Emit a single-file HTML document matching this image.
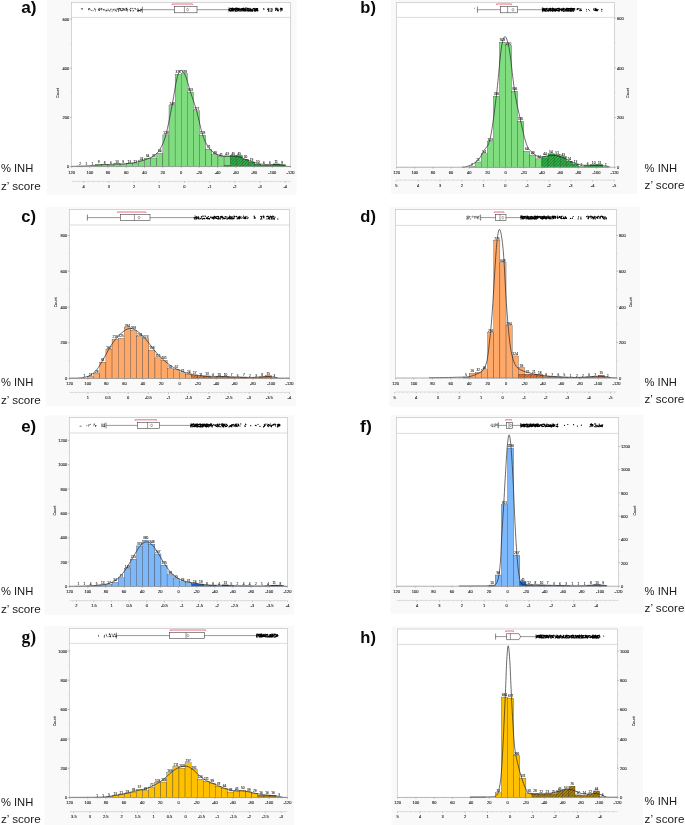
<!DOCTYPE html>
<html><head><meta charset="utf-8"><title>Figure</title>
<style>html,body{margin:0;padding:0;background:#fff}body{width:685px;height:825px;overflow:hidden}svg{display:block}</style></head>
<body>
<svg width="685" height="825" viewBox="0 0 685 825" font-family="Liberation Sans, sans-serif"><style>.t{stroke:#222;stroke-width:.1px}.b{stroke:#222;stroke-width:.08px}</style>
<g>
<rect x="47" y="0" width="249.5" height="194.6" fill="#f9f9f9"/>
<rect x="71.6" y="2.4" width="219" height="164.2" fill="#fff" stroke="#bcbcbc" stroke-width="0.6"/>
<line x1="71.6" y1="17.4" x2="290.6" y2="17.4" stroke="#c4c4c4" stroke-width="0.6"/>
<defs><pattern id="ha" width="2.2" height="2.2" patternUnits="userSpaceOnUse" patternTransform="rotate(-45)"><line x1="-1" y1="1.1" x2="3.2" y2="1.1" stroke="#157a27" stroke-width="0.6"/></pattern></defs>
<rect x="77.2" y="166.11" width="6.12" height="0.49" fill="#7fdd80" stroke="#303030" stroke-width="0.3"/>
<rect x="83.32" y="166.35" width="6.12" height="0.25" fill="#7fdd80" stroke="#303030" stroke-width="0.3"/>
<rect x="89.44" y="166.35" width="6.12" height="0.25" fill="#7fdd80" stroke="#303030" stroke-width="0.3"/>
<rect x="95.56" y="164.39" width="6.12" height="2.21" fill="#7fdd80" stroke="#303030" stroke-width="0.3"/>
<rect x="101.68" y="164.63" width="6.12" height="1.97" fill="#7fdd80" stroke="#303030" stroke-width="0.3"/>
<rect x="107.8" y="165.12" width="6.12" height="1.48" fill="#7fdd80" stroke="#303030" stroke-width="0.3"/>
<rect x="113.92" y="163.4" width="6.12" height="3.2" fill="#7fdd80" stroke="#303030" stroke-width="0.3"/>
<rect x="120.04" y="164.39" width="6.12" height="2.21" fill="#7fdd80" stroke="#303030" stroke-width="0.3"/>
<rect x="126.16" y="163.4" width="6.12" height="3.2" fill="#7fdd80" stroke="#303030" stroke-width="0.3"/>
<rect x="132.28" y="163.4" width="6.12" height="3.2" fill="#7fdd80" stroke="#303030" stroke-width="0.3"/>
<rect x="138.4" y="160.7" width="6.12" height="5.9" fill="#7fdd80" stroke="#303030" stroke-width="0.3"/>
<rect x="144.52" y="158.24" width="6.12" height="8.36" fill="#7fdd80" stroke="#303030" stroke-width="0.3"/>
<rect x="150.64" y="157.99" width="6.12" height="8.61" fill="#7fdd80" stroke="#303030" stroke-width="0.3"/>
<rect x="156.76" y="153.32" width="6.12" height="13.28" fill="#7fdd80" stroke="#303030" stroke-width="0.3"/>
<rect x="162.88" y="134.87" width="6.12" height="31.73" fill="#7fdd80" stroke="#303030" stroke-width="0.3"/>
<rect x="169" y="105.59" width="6.12" height="61.01" fill="#7fdd80" stroke="#303030" stroke-width="0.3"/>
<rect x="175.12" y="74.35" width="6.12" height="92.25" fill="#7fdd80" stroke="#303030" stroke-width="0.3"/>
<rect x="181.24" y="73.61" width="6.12" height="92.99" fill="#7fdd80" stroke="#303030" stroke-width="0.3"/>
<rect x="187.36" y="92.06" width="6.12" height="74.54" fill="#7fdd80" stroke="#303030" stroke-width="0.3"/>
<rect x="193.48" y="110.76" width="6.12" height="55.84" fill="#7fdd80" stroke="#303030" stroke-width="0.3"/>
<rect x="199.6" y="135.11" width="6.12" height="31.49" fill="#7fdd80" stroke="#303030" stroke-width="0.3"/>
<rect x="205.72" y="149.13" width="6.12" height="17.47" fill="#7fdd80" stroke="#303030" stroke-width="0.3"/>
<rect x="211.84" y="154.55" width="6.12" height="12.05" fill="#7fdd80" stroke="#303030" stroke-width="0.3"/>
<rect x="217.96" y="156.51" width="6.12" height="10.09" fill="#7fdd80" stroke="#303030" stroke-width="0.3"/>
<rect x="224.08" y="156.02" width="6.12" height="10.58" fill="#7fdd80" stroke="#303030" stroke-width="0.3"/>
<rect x="224.08" y="165.3" width="6.12" height="1.3" fill="#2fae44"/>
<rect x="224.08" y="165.3" width="6.12" height="1.3" fill="url(#ha)" stroke="#2e2e2e" stroke-width="0.25"/>
<rect x="230.2" y="155.53" width="6.12" height="11.07" fill="#2fae44"/>
<rect x="230.2" y="155.53" width="6.12" height="11.07" fill="url(#ha)" stroke="#303030" stroke-width="0.3"/>
<rect x="236.32" y="155.53" width="6.12" height="11.07" fill="#2fae44"/>
<rect x="236.32" y="155.53" width="6.12" height="11.07" fill="url(#ha)" stroke="#303030" stroke-width="0.3"/>
<rect x="242.44" y="159.22" width="6.12" height="7.38" fill="#2fae44"/>
<rect x="242.44" y="159.22" width="6.12" height="7.38" fill="url(#ha)" stroke="#303030" stroke-width="0.3"/>
<rect x="248.56" y="161.93" width="6.12" height="4.67" fill="#2fae44"/>
<rect x="248.56" y="161.93" width="6.12" height="4.67" fill="url(#ha)" stroke="#303030" stroke-width="0.3"/>
<rect x="254.68" y="164.14" width="6.12" height="2.46" fill="#1f9a35" stroke="#303030" stroke-width="0.3"/>
<rect x="260.8" y="165.12" width="6.12" height="1.48" fill="#1f9a35" stroke="#303030" stroke-width="0.3"/>
<rect x="266.92" y="165.12" width="6.12" height="1.48" fill="#1f9a35" stroke="#303030" stroke-width="0.3"/>
<rect x="273.04" y="163.89" width="6.12" height="2.71" fill="#1f9a35" stroke="#303030" stroke-width="0.3"/>
<rect x="279.16" y="164.63" width="6.12" height="1.97" fill="#1f9a35" stroke="#303030" stroke-width="0.3"/>
<text x="80.26" y="165.21" class="b" font-size="3.2" text-anchor="middle" fill="#111">2</text>
<text x="86.38" y="165.45" class="b" font-size="3.2" text-anchor="middle" fill="#111">1</text>
<text x="92.5" y="165.45" class="b" font-size="3.2" text-anchor="middle" fill="#111">1</text>
<text x="98.62" y="163.49" class="b" font-size="3.2" text-anchor="middle" fill="#111">9</text>
<text x="104.74" y="163.73" class="b" font-size="3.2" text-anchor="middle" fill="#111">8</text>
<text x="110.86" y="164.22" class="b" font-size="3.2" text-anchor="middle" fill="#111">6</text>
<text x="116.98" y="162.5" class="b" font-size="3.2" text-anchor="middle" fill="#111">13</text>
<text x="123.1" y="163.49" class="b" font-size="3.2" text-anchor="middle" fill="#111">9</text>
<text x="129.22" y="162.5" class="b" font-size="3.2" text-anchor="middle" fill="#111">13</text>
<text x="135.34" y="162.5" class="b" font-size="3.2" text-anchor="middle" fill="#111">13</text>
<text x="141.46" y="159.8" class="b" font-size="3.2" text-anchor="middle" fill="#111">24</text>
<text x="147.58" y="157.34" class="b" font-size="3.2" text-anchor="middle" fill="#111">34</text>
<text x="153.7" y="157.09" class="b" font-size="3.2" text-anchor="middle" fill="#111">35</text>
<text x="159.82" y="152.42" class="b" font-size="3.2" text-anchor="middle" fill="#111">54</text>
<text x="165.94" y="133.97" class="b" font-size="3.2" text-anchor="middle" fill="#111">129</text>
<text x="172.06" y="104.69" class="b" font-size="3.2" text-anchor="middle" fill="#111">248</text>
<text x="178.18" y="73.45" class="b" font-size="3.2" text-anchor="middle" fill="#111">375</text>
<text x="184.3" y="72.71" class="b" font-size="3.2" text-anchor="middle" fill="#111">378</text>
<text x="190.42" y="91.16" class="b" font-size="3.2" text-anchor="middle" fill="#111">303</text>
<text x="196.54" y="109.86" class="b" font-size="3.2" text-anchor="middle" fill="#111">227</text>
<text x="202.66" y="134.21" class="b" font-size="3.2" text-anchor="middle" fill="#111">128</text>
<text x="208.78" y="148.23" class="b" font-size="3.2" text-anchor="middle" fill="#111">71</text>
<text x="214.9" y="153.65" class="b" font-size="3.2" text-anchor="middle" fill="#111">49</text>
<text x="221.02" y="155.61" class="b" font-size="3.2" text-anchor="middle" fill="#111">41</text>
<text x="227.14" y="155.12" class="b" font-size="3.2" text-anchor="middle" fill="#111">43</text>
<text x="233.26" y="154.63" class="b" font-size="3.2" text-anchor="middle" fill="#111">45</text>
<text x="239.38" y="154.63" class="b" font-size="3.2" text-anchor="middle" fill="#111">45</text>
<text x="245.5" y="158.32" class="b" font-size="3.2" text-anchor="middle" fill="#111">30</text>
<text x="251.62" y="161.03" class="b" font-size="3.2" text-anchor="middle" fill="#111">19</text>
<text x="257.74" y="163.24" class="b" font-size="3.2" text-anchor="middle" fill="#111">10</text>
<text x="263.86" y="164.22" class="b" font-size="3.2" text-anchor="middle" fill="#111">6</text>
<text x="269.98" y="164.22" class="b" font-size="3.2" text-anchor="middle" fill="#111">6</text>
<text x="276.1" y="162.99" class="b" font-size="3.2" text-anchor="middle" fill="#111">11</text>
<text x="282.22" y="163.73" class="b" font-size="3.2" text-anchor="middle" fill="#111">8</text>
<path d="M71.6 166.4 C73.16 166.36 77.6 166.25 80.26 166.17 C82.92 166.09 84.18 166.05 86.38 165.94 C88.58 165.83 90.3 165.72 92.5 165.56 C94.7 165.4 96.42 165.21 98.62 165.05 C100.82 164.89 102.54 164.78 104.74 164.67 C106.94 164.55 108.66 164.53 110.86 164.43 C113.06 164.32 114.78 164.16 116.98 164.07 C119.18 163.97 120.9 164.05 123.1 163.92 C125.3 163.79 127.02 163.6 129.22 163.34 C131.42 163.08 133.14 162.91 135.34 162.47 C137.54 162.03 139.26 161.55 141.46 160.9 C143.66 160.25 145.38 159.77 147.58 158.87 C149.78 157.98 151.5 157.6 153.7 155.91 C155.9 154.23 157.62 153.34 159.82 149.51 C162.02 145.69 163.74 142.61 165.94 134.67 C168.14 126.72 169.86 116.28 172.06 105.39 C174.26 94.5 175.98 79.91 178.18 74.15 C180.38 68.39 182.1 70.22 184.3 73.41 C186.5 76.6 188.22 85.18 190.42 91.86 C192.62 98.55 194.34 102.81 196.54 110.56 C198.74 118.31 200.46 128.24 202.66 134.91 C204.86 141.58 206.58 144.32 208.78 147.62 C210.98 150.93 212.7 151.79 214.9 153.27 C217.1 154.74 218.82 155.31 221.02 155.84 C223.22 156.36 224.94 156.12 227.14 156.19 C229.34 156.27 231.06 156.13 233.26 156.24 C235.46 156.36 237.18 156.28 239.38 156.84 C241.58 157.41 243.3 158.52 245.5 159.38 C247.7 160.24 249.42 160.89 251.62 161.63 C253.82 162.37 255.54 162.97 257.74 163.47 C259.94 163.96 261.66 164.17 263.86 164.38 C266.06 164.58 267.78 164.57 269.98 164.63 C272.18 164.68 273.9 164.58 276.1 164.66 C278.3 164.74 280.39 164.77 282.22 165.06 C284.05 165.36 284.77 166.06 286.28 166.3 C287.79 166.54 289.82 166.38 290.6 166.4" fill="none" stroke="#1a1a1a" stroke-width="0.65"/>
<line x1="71.6" y1="166.6" x2="290.6" y2="166.6" stroke="#a6a6a6" stroke-width="0.6"/>
<line x1="71.6" y1="166.6" x2="70" y2="166.6" stroke="#777" stroke-width="0.45"/>
<text x="69.2" y="168.3" class="t" font-size="4.0" text-anchor="end" fill="#111">0</text>
<line x1="71.6" y1="142" x2="70.7" y2="142" stroke="#aaa" stroke-width="0.4"/>
<line x1="71.6" y1="117.4" x2="70" y2="117.4" stroke="#777" stroke-width="0.45"/>
<text x="69.2" y="119.1" class="t" font-size="4.0" text-anchor="end" fill="#111">200</text>
<line x1="71.6" y1="92.8" x2="70.7" y2="92.8" stroke="#aaa" stroke-width="0.4"/>
<line x1="71.6" y1="68.2" x2="70" y2="68.2" stroke="#777" stroke-width="0.45"/>
<text x="69.2" y="69.9" class="t" font-size="4.0" text-anchor="end" fill="#111">400</text>
<line x1="71.6" y1="43.6" x2="70.7" y2="43.6" stroke="#aaa" stroke-width="0.4"/>
<line x1="71.6" y1="19" x2="70" y2="19" stroke="#777" stroke-width="0.45"/>
<text x="69.2" y="20.7" class="t" font-size="4.0" text-anchor="end" fill="#111">600</text>
<text transform="translate(59.2 93) rotate(-90)" class="t" font-size="3.7" text-anchor="middle" fill="#111">Count</text>
<line x1="71.6" y1="166.6" x2="71.6" y2="168.1" stroke="#888" stroke-width="0.45"/>
<text x="71.6" y="174" class="t" font-size="4.0" text-anchor="middle" fill="#111">120</text>
<line x1="89.85" y1="166.6" x2="89.85" y2="168.1" stroke="#888" stroke-width="0.45"/>
<text x="89.85" y="174" class="t" font-size="4.0" text-anchor="middle" fill="#111">100</text>
<line x1="108.1" y1="166.6" x2="108.1" y2="168.1" stroke="#888" stroke-width="0.45"/>
<text x="108.1" y="174" class="t" font-size="4.0" text-anchor="middle" fill="#111">80</text>
<line x1="126.35" y1="166.6" x2="126.35" y2="168.1" stroke="#888" stroke-width="0.45"/>
<text x="126.35" y="174" class="t" font-size="4.0" text-anchor="middle" fill="#111">60</text>
<line x1="144.6" y1="166.6" x2="144.6" y2="168.1" stroke="#888" stroke-width="0.45"/>
<text x="144.6" y="174" class="t" font-size="4.0" text-anchor="middle" fill="#111">40</text>
<line x1="162.85" y1="166.6" x2="162.85" y2="168.1" stroke="#888" stroke-width="0.45"/>
<text x="162.85" y="174" class="t" font-size="4.0" text-anchor="middle" fill="#111">20</text>
<line x1="181.1" y1="166.6" x2="181.1" y2="168.1" stroke="#888" stroke-width="0.45"/>
<text x="181.1" y="174" class="t" font-size="4.0" text-anchor="middle" fill="#111">0</text>
<line x1="199.35" y1="166.6" x2="199.35" y2="168.1" stroke="#888" stroke-width="0.45"/>
<text x="199.35" y="174" class="t" font-size="4.0" text-anchor="middle" fill="#111">-20</text>
<line x1="217.6" y1="166.6" x2="217.6" y2="168.1" stroke="#888" stroke-width="0.45"/>
<text x="217.6" y="174" class="t" font-size="4.0" text-anchor="middle" fill="#111">-40</text>
<line x1="235.85" y1="166.6" x2="235.85" y2="168.1" stroke="#888" stroke-width="0.45"/>
<text x="235.85" y="174" class="t" font-size="4.0" text-anchor="middle" fill="#111">-60</text>
<line x1="254.1" y1="166.6" x2="254.1" y2="168.1" stroke="#888" stroke-width="0.45"/>
<text x="254.1" y="174" class="t" font-size="4.0" text-anchor="middle" fill="#111">-80</text>
<line x1="272.35" y1="166.6" x2="272.35" y2="168.1" stroke="#888" stroke-width="0.45"/>
<text x="272.35" y="174" class="t" font-size="4.0" text-anchor="middle" fill="#111">-100</text>
<line x1="290.6" y1="166.6" x2="290.6" y2="168.1" stroke="#888" stroke-width="0.45"/>
<text x="290.6" y="174" class="t" font-size="4.0" text-anchor="middle" fill="#111">-120</text>
<line x1="80.72" y1="166.6" x2="80.72" y2="167.5" stroke="#aaa" stroke-width="0.4"/>
<line x1="98.97" y1="166.6" x2="98.97" y2="167.5" stroke="#aaa" stroke-width="0.4"/>
<line x1="117.22" y1="166.6" x2="117.22" y2="167.5" stroke="#aaa" stroke-width="0.4"/>
<line x1="135.47" y1="166.6" x2="135.47" y2="167.5" stroke="#aaa" stroke-width="0.4"/>
<line x1="153.73" y1="166.6" x2="153.73" y2="167.5" stroke="#aaa" stroke-width="0.4"/>
<line x1="171.98" y1="166.6" x2="171.98" y2="167.5" stroke="#aaa" stroke-width="0.4"/>
<line x1="190.23" y1="166.6" x2="190.23" y2="167.5" stroke="#aaa" stroke-width="0.4"/>
<line x1="208.47" y1="166.6" x2="208.47" y2="167.5" stroke="#aaa" stroke-width="0.4"/>
<line x1="226.73" y1="166.6" x2="226.73" y2="167.5" stroke="#aaa" stroke-width="0.4"/>
<line x1="244.98" y1="166.6" x2="244.98" y2="167.5" stroke="#aaa" stroke-width="0.4"/>
<line x1="263.23" y1="166.6" x2="263.23" y2="167.5" stroke="#aaa" stroke-width="0.4"/>
<line x1="281.48" y1="166.6" x2="281.48" y2="167.5" stroke="#aaa" stroke-width="0.4"/>
<line x1="71.6" y1="181.4" x2="290.6" y2="181.4" stroke="#c2c2c2" stroke-width="0.5"/>
<line x1="290.24" y1="181.4" x2="290.24" y2="182.2" stroke="#aaa" stroke-width="0.35"/>
<line x1="285.2" y1="181.4" x2="285.2" y2="182.9" stroke="#888" stroke-width="0.45"/>
<text x="285.2" y="187.8" class="t" font-size="4.0" text-anchor="middle" fill="#111">-4</text>
<line x1="280.16" y1="181.4" x2="280.16" y2="182.2" stroke="#aaa" stroke-width="0.35"/>
<line x1="275.12" y1="181.4" x2="275.12" y2="182.2" stroke="#aaa" stroke-width="0.35"/>
<line x1="270.08" y1="181.4" x2="270.08" y2="182.2" stroke="#aaa" stroke-width="0.35"/>
<line x1="265.04" y1="181.4" x2="265.04" y2="182.2" stroke="#aaa" stroke-width="0.35"/>
<line x1="260" y1="181.4" x2="260" y2="182.9" stroke="#888" stroke-width="0.45"/>
<text x="260" y="187.8" class="t" font-size="4.0" text-anchor="middle" fill="#111">-3</text>
<line x1="254.96" y1="181.4" x2="254.96" y2="182.2" stroke="#aaa" stroke-width="0.35"/>
<line x1="249.92" y1="181.4" x2="249.92" y2="182.2" stroke="#aaa" stroke-width="0.35"/>
<line x1="244.88" y1="181.4" x2="244.88" y2="182.2" stroke="#aaa" stroke-width="0.35"/>
<line x1="239.84" y1="181.4" x2="239.84" y2="182.2" stroke="#aaa" stroke-width="0.35"/>
<line x1="234.8" y1="181.4" x2="234.8" y2="182.9" stroke="#888" stroke-width="0.45"/>
<text x="234.8" y="187.8" class="t" font-size="4.0" text-anchor="middle" fill="#111">-2</text>
<line x1="229.76" y1="181.4" x2="229.76" y2="182.2" stroke="#aaa" stroke-width="0.35"/>
<line x1="224.72" y1="181.4" x2="224.72" y2="182.2" stroke="#aaa" stroke-width="0.35"/>
<line x1="219.68" y1="181.4" x2="219.68" y2="182.2" stroke="#aaa" stroke-width="0.35"/>
<line x1="214.64" y1="181.4" x2="214.64" y2="182.2" stroke="#aaa" stroke-width="0.35"/>
<line x1="209.6" y1="181.4" x2="209.6" y2="182.9" stroke="#888" stroke-width="0.45"/>
<text x="209.6" y="187.8" class="t" font-size="4.0" text-anchor="middle" fill="#111">-1</text>
<line x1="204.56" y1="181.4" x2="204.56" y2="182.2" stroke="#aaa" stroke-width="0.35"/>
<line x1="199.52" y1="181.4" x2="199.52" y2="182.2" stroke="#aaa" stroke-width="0.35"/>
<line x1="194.48" y1="181.4" x2="194.48" y2="182.2" stroke="#aaa" stroke-width="0.35"/>
<line x1="189.44" y1="181.4" x2="189.44" y2="182.2" stroke="#aaa" stroke-width="0.35"/>
<line x1="184.4" y1="181.4" x2="184.4" y2="182.9" stroke="#888" stroke-width="0.45"/>
<text x="184.4" y="187.8" class="t" font-size="4.0" text-anchor="middle" fill="#111">0</text>
<line x1="179.36" y1="181.4" x2="179.36" y2="182.2" stroke="#aaa" stroke-width="0.35"/>
<line x1="174.32" y1="181.4" x2="174.32" y2="182.2" stroke="#aaa" stroke-width="0.35"/>
<line x1="169.28" y1="181.4" x2="169.28" y2="182.2" stroke="#aaa" stroke-width="0.35"/>
<line x1="164.24" y1="181.4" x2="164.24" y2="182.2" stroke="#aaa" stroke-width="0.35"/>
<line x1="159.2" y1="181.4" x2="159.2" y2="182.9" stroke="#888" stroke-width="0.45"/>
<text x="159.2" y="187.8" class="t" font-size="4.0" text-anchor="middle" fill="#111">1</text>
<line x1="154.16" y1="181.4" x2="154.16" y2="182.2" stroke="#aaa" stroke-width="0.35"/>
<line x1="149.12" y1="181.4" x2="149.12" y2="182.2" stroke="#aaa" stroke-width="0.35"/>
<line x1="144.08" y1="181.4" x2="144.08" y2="182.2" stroke="#aaa" stroke-width="0.35"/>
<line x1="139.04" y1="181.4" x2="139.04" y2="182.2" stroke="#aaa" stroke-width="0.35"/>
<line x1="134" y1="181.4" x2="134" y2="182.9" stroke="#888" stroke-width="0.45"/>
<text x="134" y="187.8" class="t" font-size="4.0" text-anchor="middle" fill="#111">2</text>
<line x1="128.96" y1="181.4" x2="128.96" y2="182.2" stroke="#aaa" stroke-width="0.35"/>
<line x1="123.92" y1="181.4" x2="123.92" y2="182.2" stroke="#aaa" stroke-width="0.35"/>
<line x1="118.88" y1="181.4" x2="118.88" y2="182.2" stroke="#aaa" stroke-width="0.35"/>
<line x1="113.84" y1="181.4" x2="113.84" y2="182.2" stroke="#aaa" stroke-width="0.35"/>
<line x1="108.8" y1="181.4" x2="108.8" y2="182.9" stroke="#888" stroke-width="0.45"/>
<text x="108.8" y="187.8" class="t" font-size="4.0" text-anchor="middle" fill="#111">3</text>
<line x1="103.76" y1="181.4" x2="103.76" y2="182.2" stroke="#aaa" stroke-width="0.35"/>
<line x1="98.72" y1="181.4" x2="98.72" y2="182.2" stroke="#aaa" stroke-width="0.35"/>
<line x1="93.68" y1="181.4" x2="93.68" y2="182.2" stroke="#aaa" stroke-width="0.35"/>
<line x1="88.64" y1="181.4" x2="88.64" y2="182.2" stroke="#aaa" stroke-width="0.35"/>
<line x1="83.6" y1="181.4" x2="83.6" y2="182.9" stroke="#888" stroke-width="0.45"/>
<text x="83.6" y="187.8" class="t" font-size="4.0" text-anchor="middle" fill="#111">4</text>
<line x1="78.56" y1="181.4" x2="78.56" y2="182.2" stroke="#aaa" stroke-width="0.35"/>
<line x1="73.52" y1="181.4" x2="73.52" y2="182.2" stroke="#aaa" stroke-width="0.35"/>
<line x1="142.4" y1="9.7" x2="229" y2="9.7" stroke="#333" stroke-width="0.5"/>
<line x1="142.4" y1="6.6" x2="142.4" y2="12.8" stroke="#333" stroke-width="0.6"/>
<line x1="229" y1="7.1" x2="229" y2="12.3" stroke="#333" stroke-width="0.6"/>
<rect x="174.4" y="6.6" width="22.6" height="6.2" fill="#fff" stroke="#333" stroke-width="0.55"/>
<line x1="184.4" y1="6.6" x2="184.4" y2="12.8" stroke="#333" stroke-width="0.5"/>
<path d="M186.5 9.7 l1.1 -1.6 l1.1 1.6 l-1.1 1.6z" fill="none" stroke="#333" stroke-width="0.4"/>
<path d="M172 4.8 v-0.8 H192.6 v0.8" fill="none" stroke="#ea2840" stroke-width="0.7"/>
<path d="M81.3 8.7h0M82.6 8.4h0M82.1 9.3h0" stroke="#333" stroke-width="0.9" stroke-linecap="round" fill="none"/>
<path d="M88.7 9.7h0M88.4 9.5h0M88.8 8.5h0M93.1 10.7h0M89.5 8.9h0M95.5 11.0h0M94.9 9.4h0M99.7 8.3h0M98.3 9.1h0M89.7 8.6h0M91.7 10.6h0M90.2 9.9h0M95.7 9.3h0M94.6 8.4h0" stroke="#333" stroke-width="0.9" stroke-linecap="round" fill="none"/>
<path d="M99.3 8.8h0M113.0 9.5h0M104.9 10.0h0M108.0 9.1h0M115.5 10.3h0M103.4 9.9h0M109.6 10.8h0M114.0 9.1h0M119.6 8.6h0M107.2 10.5h0M101.3 9.7h0M98.9 10.2h0M114.8 9.9h0M117.3 9.1h0M113.3 10.0h0M110.8 9.6h0M116.5 11.0h0M108.4 10.2h0M99.3 10.3h0M112.2 11.2h0M116.1 9.1h0M106.5 10.2h0M98.5 9.6h0M101.7 8.6h0M99.3 10.5h0M100.8 8.9h0M106.6 10.8h0M99.8 9.5h0M110.1 10.9h0M116.0 10.8h0M104.1 9.4h0M105.9 10.9h0M119.1 8.7h0M101.9 8.9h0M103.1 9.7h0M111.0 9.0h0" stroke="#2a2a2a" stroke-width="0.9" stroke-linecap="round" fill="none"/>
<path d="M118.1 9.5h0M126.9 9.9h0M140.9 10.3h0M130.4 10.1h0M134.2 8.4h0M139.6 10.5h0M139.0 10.6h0M127.4 9.4h0M120.5 10.1h0M119.5 8.4h0M123.0 8.7h0M126.2 8.4h0M118.0 8.7h0M120.4 9.3h0M118.6 10.8h0M132.7 8.6h0M124.1 9.2h0M126.7 8.6h0M138.4 11.2h0M129.2 9.7h0M120.1 8.5h0M126.2 9.0h0M137.9 8.7h0M118.6 11.1h0M130.7 8.6h0M131.0 8.3h0M130.7 11.1h0M138.7 10.3h0M124.3 9.3h0M122.0 10.5h0M130.8 10.5h0M125.9 8.9h0M137.5 11.2h0M138.5 10.6h0M137.6 10.4h0M123.4 9.8h0M126.5 8.3h0M118.7 9.0h0M124.2 10.3h0M141.0 9.5h0M140.5 11.2h0M140.9 9.3h0M123.3 8.9h0M122.7 8.8h0M133.0 10.9h0M138.2 9.6h0M133.7 10.6h0M120.0 10.2h0M139.8 10.5h0M136.0 9.6h0M122.3 10.6h0M126.0 10.6h0M141.3 9.4h0M127.6 11.0h0M135.4 8.7h0M121.0 8.7h0M139.7 10.6h0M121.5 10.7h0M141.5 10.2h0M126.4 9.8h0" stroke="#222" stroke-width="0.96" stroke-linecap="round" fill="none"/>
<path d="M232.8 8.2h0M257.2 10.1h0M244.3 11.0h0M241.6 10.8h0M253.0 8.8h0M236.3 9.1h0M236.0 10.0h0M236.5 9.5h0M232.8 10.9h0M239.3 9.6h0M245.9 10.9h0M241.2 11.0h0M243.5 9.8h0M244.2 8.3h0M241.8 8.7h0M229.1 10.6h0M234.0 9.6h0M250.0 9.9h0M238.5 9.8h0M245.1 10.6h0M232.1 9.9h0M236.2 9.0h0M251.4 9.7h0M245.3 10.5h0M255.5 9.5h0M246.8 9.7h0M243.9 10.3h0M242.1 9.8h0M242.9 11.0h0M249.3 10.8h0M256.3 9.0h0M245.2 11.0h0M253.4 8.6h0M232.5 9.5h0M231.1 8.9h0M231.1 10.2h0M251.7 10.9h0M233.5 10.3h0M248.1 8.6h0M254.6 11.1h0M235.4 11.1h0M240.5 9.7h0M257.7 10.7h0M233.7 9.5h0M244.0 9.2h0M234.7 9.2h0M249.9 8.3h0M245.1 9.5h0M229.5 9.2h0M247.1 9.7h0M230.9 11.2h0M251.9 11.1h0M232.0 9.0h0M230.1 10.5h0M236.8 8.6h0M241.2 10.9h0M252.8 9.0h0M233.3 11.0h0M245.5 10.3h0M231.6 8.4h0M249.0 9.5h0M231.1 11.0h0M247.4 10.6h0M231.4 10.8h0M230.9 10.8h0M242.2 9.2h0M245.0 11.0h0M236.8 8.6h0M244.3 8.9h0M232.2 8.7h0M230.5 8.8h0M238.0 9.1h0M251.0 9.1h0M243.5 8.7h0M239.1 8.3h0M236.3 8.2h0M250.3 9.9h0M234.5 9.6h0M256.1 8.5h0M252.7 9.5h0M243.4 10.7h0M240.4 9.7h0M248.9 11.1h0M238.9 10.7h0M249.5 10.1h0M240.7 9.2h0M230.6 8.6h0M231.1 10.4h0M236.4 8.7h0M231.5 10.7h0M254.2 10.2h0M237.2 8.9h0M237.5 9.6h0M233.6 9.5h0M236.6 11.1h0M257.2 9.8h0M236.1 11.1h0M238.0 9.3h0M229.0 9.3h0M242.8 9.7h0M234.8 9.7h0M229.1 9.0h0M231.6 9.4h0M230.2 8.3h0M237.8 8.9h0M246.0 9.8h0M250.8 10.2h0M249.8 10.8h0M240.3 9.2h0M257.6 8.6h0M250.0 10.1h0M230.3 10.7h0M254.9 10.1h0M250.3 10.6h0M233.0 9.8h0M243.6 10.7h0M252.3 10.7h0M245.9 10.9h0M248.8 10.3h0M235.7 8.3h0M232.9 9.3h0M232.0 10.7h0M245.2 10.1h0M247.2 10.2h0M243.2 8.2h0M252.1 10.4h0M243.6 9.8h0M248.1 8.4h0M250.4 9.0h0M231.2 9.0h0M250.2 8.8h0M250.5 11.1h0M243.3 9.3h0M242.9 10.3h0M251.2 10.1h0M247.6 8.4h0M233.3 9.0h0M250.6 9.1h0M245.5 8.2h0M230.8 9.0h0M248.5 10.3h0M248.6 9.1h0M244.0 9.6h0M242.5 8.6h0M254.9 8.8h0M257.4 11.0h0M229.5 9.6h0M252.8 11.1h0M242.0 9.0h0M235.1 11.0h0M235.1 9.9h0M233.1 9.8h0M256.6 8.6h0M252.8 9.7h0M254.7 10.3h0M235.7 10.9h0M243.1 8.3h0M229.1 9.7h0M242.1 9.1h0M233.1 9.2h0M238.2 10.7h0M229.1 10.5h0M253.3 8.6h0M255.9 10.3h0M255.1 9.1h0M239.8 9.4h0M258.0 10.0h0M239.5 9.5h0M237.0 8.3h0M231.9 10.7h0M237.3 11.0h0M236.2 9.0h0M243.8 8.8h0M239.8 11.1h0M254.6 10.6h0M247.3 10.9h0M256.3 9.8h0M249.9 8.3h0M250.2 9.6h0M250.8 10.1h0M237.3 8.3h0M255.9 8.6h0M242.7 9.2h0M237.6 10.4h0M257.3 9.0h0M248.0 9.1h0M245.2 9.4h0M233.9 8.7h0M235.0 10.9h0M243.4 8.9h0M255.3 11.2h0M242.0 8.6h0M234.6 8.5h0M238.9 8.5h0M235.9 9.0h0M245.5 10.9h0M250.7 9.4h0M241.0 9.8h0M239.9 9.2h0M230.8 9.0h0M257.1 8.6h0M243.6 10.1h0M254.0 8.8h0M236.9 8.9h0M240.6 9.5h0M256.7 10.7h0M254.3 8.3h0M229.9 10.3h0M255.0 9.6h0M246.0 8.2h0M240.4 11.0h0M252.9 10.8h0M257.2 8.9h0M232.2 8.7h0M244.1 10.2h0M256.3 10.4h0M247.8 10.5h0M242.3 9.9h0M230.1 10.5h0M235.7 11.0h0M247.7 9.1h0M232.7 9.0h0M247.5 10.3h0M232.3 8.4h0M244.2 9.9h0M240.3 8.9h0M246.4 8.2h0M237.7 9.6h0M256.8 10.1h0M254.6 9.6h0M235.8 8.9h0M256.9 10.3h0M237.9 8.3h0M243.5 10.2h0M241.2 9.0h0M248.4 11.0h0M235.6 8.3h0M238.8 9.5h0M248.8 8.8h0M252.1 10.4h0" stroke="#000" stroke-width="1.24" stroke-linecap="round" fill="none"/>
<path d="M263.5 8.8h0M264.0 9.1h0" stroke="#000" stroke-width="1.24" stroke-linecap="round" fill="none"/>
<path d="M271.6 8.9h0M268.6 10.5h0M269.0 11.1h0M270.0 8.8h0M268.6 9.5h0M270.8 11.0h0M268.2 9.4h0M268.6 11.1h0M268.2 8.4h0M267.8 9.4h0M272.0 10.9h0M271.2 11.2h0M272.2 9.2h0M268.4 11.0h0" stroke="#000" stroke-width="1.24" stroke-linecap="round" fill="none"/>
<path d="M280.7 8.3h0M280.2 9.3h0M278.1 9.2h0M276.7 8.2h0M277.5 9.3h0M282.2 8.6h0M282.2 8.8h0M278.0 10.7h0M281.3 9.5h0M275.8 9.6h0M278.1 11.0h0M276.9 9.3h0M281.8 8.3h0M278.4 10.6h0M280.9 8.3h0M275.7 8.4h0M281.9 9.0h0M280.7 10.9h0M277.9 9.0h0M282.2 10.1h0M277.3 10.3h0M277.7 9.0h0M275.5 10.5h0M281.9 10.1h0" stroke="#000" stroke-width="1.24" stroke-linecap="round" fill="none"/>
</g>
<g>
<rect x="391" y="0" width="246" height="194" fill="#f9f9f9"/>
<rect x="396.6" y="2.4" width="218" height="164.8" fill="#fff" stroke="#bcbcbc" stroke-width="0.6"/>
<line x1="396.6" y1="17.4" x2="614.6" y2="17.4" stroke="#c4c4c4" stroke-width="0.6"/>
<defs><pattern id="hb" width="2.2" height="2.2" patternUnits="userSpaceOnUse" patternTransform="rotate(-45)"><line x1="-1" y1="1.1" x2="3.2" y2="1.1" stroke="#157a27" stroke-width="0.6"/></pattern></defs>
<rect x="469" y="166.7" width="6.08" height="0.5" fill="#7fdd80" stroke="#303030" stroke-width="0.3"/>
<rect x="475.08" y="161.98" width="6.08" height="5.22" fill="#7fdd80" stroke="#303030" stroke-width="0.3"/>
<rect x="481.16" y="153.78" width="6.08" height="13.42" fill="#7fdd80" stroke="#303030" stroke-width="0.3"/>
<rect x="487.24" y="141.6" width="6.08" height="25.6" fill="#7fdd80" stroke="#303030" stroke-width="0.3"/>
<rect x="493.32" y="96.13" width="6.08" height="71.07" fill="#7fdd80" stroke="#303030" stroke-width="0.3"/>
<rect x="499.4" y="42.2" width="6.08" height="125" fill="#7fdd80" stroke="#303030" stroke-width="0.3"/>
<rect x="505.48" y="45.43" width="6.08" height="121.77" fill="#7fdd80" stroke="#303030" stroke-width="0.3"/>
<rect x="511.56" y="91.16" width="6.08" height="76.04" fill="#7fdd80" stroke="#303030" stroke-width="0.3"/>
<rect x="517.64" y="121.23" width="6.08" height="45.97" fill="#7fdd80" stroke="#303030" stroke-width="0.3"/>
<rect x="523.72" y="151.3" width="6.08" height="15.9" fill="#7fdd80" stroke="#303030" stroke-width="0.3"/>
<rect x="529.8" y="155.02" width="6.08" height="12.18" fill="#7fdd80" stroke="#303030" stroke-width="0.3"/>
<rect x="535.88" y="158.75" width="6.08" height="8.45" fill="#7fdd80" stroke="#303030" stroke-width="0.3"/>
<rect x="541.96" y="156.27" width="6.08" height="10.93" fill="#7fdd80" stroke="#303030" stroke-width="0.3"/>
<rect x="541.96" y="157.9" width="6.08" height="9.3" fill="#2fae44"/>
<rect x="541.96" y="157.9" width="6.08" height="9.3" fill="url(#hb)" stroke="#2e2e2e" stroke-width="0.25"/>
<rect x="548.04" y="153.78" width="6.08" height="13.42" fill="#2fae44"/>
<rect x="548.04" y="153.78" width="6.08" height="13.42" fill="url(#hb)" stroke="#303030" stroke-width="0.3"/>
<rect x="554.12" y="154.53" width="6.08" height="12.67" fill="#2fae44"/>
<rect x="554.12" y="154.53" width="6.08" height="12.67" fill="url(#hb)" stroke="#303030" stroke-width="0.3"/>
<rect x="560.2" y="156.51" width="6.08" height="10.69" fill="#2fae44"/>
<rect x="560.2" y="156.51" width="6.08" height="10.69" fill="url(#hb)" stroke="#303030" stroke-width="0.3"/>
<rect x="566.28" y="161.24" width="6.08" height="5.96" fill="#2fae44"/>
<rect x="566.28" y="161.24" width="6.08" height="5.96" fill="url(#hb)" stroke="#303030" stroke-width="0.3"/>
<rect x="572.36" y="163.97" width="6.08" height="3.23" fill="#2fae44"/>
<rect x="572.36" y="163.97" width="6.08" height="3.23" fill="url(#hb)" stroke="#303030" stroke-width="0.3"/>
<rect x="578.44" y="166.7" width="6.08" height="0.5" fill="#1f9a35" stroke="#303030" stroke-width="0.3"/>
<rect x="584.52" y="165.71" width="6.08" height="1.49" fill="#1f9a35" stroke="#303030" stroke-width="0.3"/>
<rect x="590.6" y="164.71" width="6.08" height="2.48" fill="#1f9a35" stroke="#303030" stroke-width="0.3"/>
<rect x="596.68" y="164.47" width="6.08" height="2.73" fill="#1f9a35" stroke="#303030" stroke-width="0.3"/>
<rect x="602.76" y="166.95" width="6.08" height="0.25" fill="#1f9a35" stroke="#303030" stroke-width="0.3"/>
<text x="472.04" y="165.8" class="b" font-size="3.2" text-anchor="middle" fill="#111">2</text>
<text x="478.12" y="161.08" class="b" font-size="3.2" text-anchor="middle" fill="#111">21</text>
<text x="484.2" y="152.88" class="b" font-size="3.2" text-anchor="middle" fill="#111">54</text>
<text x="490.28" y="140.7" class="b" font-size="3.2" text-anchor="middle" fill="#111">103</text>
<text x="496.36" y="95.23" class="b" font-size="3.2" text-anchor="middle" fill="#111">286</text>
<text x="502.44" y="41.3" class="b" font-size="3.2" text-anchor="middle" fill="#111">503</text>
<text x="508.52" y="44.53" class="b" font-size="3.2" text-anchor="middle" fill="#111">490</text>
<text x="514.6" y="90.26" class="b" font-size="3.2" text-anchor="middle" fill="#111">306</text>
<text x="520.68" y="120.33" class="b" font-size="3.2" text-anchor="middle" fill="#111">185</text>
<text x="526.76" y="150.4" class="b" font-size="3.2" text-anchor="middle" fill="#111">64</text>
<text x="532.84" y="154.12" class="b" font-size="3.2" text-anchor="middle" fill="#111">49</text>
<text x="538.92" y="157.85" class="b" font-size="3.2" text-anchor="middle" fill="#111">34</text>
<text x="545" y="155.37" class="b" font-size="3.2" text-anchor="middle" fill="#111">44</text>
<text x="551.08" y="152.88" class="b" font-size="3.2" text-anchor="middle" fill="#111">54</text>
<text x="557.16" y="153.63" class="b" font-size="3.2" text-anchor="middle" fill="#111">51</text>
<text x="563.24" y="155.61" class="b" font-size="3.2" text-anchor="middle" fill="#111">43</text>
<text x="569.32" y="160.34" class="b" font-size="3.2" text-anchor="middle" fill="#111">24</text>
<text x="575.4" y="163.07" class="b" font-size="3.2" text-anchor="middle" fill="#111">13</text>
<text x="581.48" y="165.8" class="b" font-size="3.2" text-anchor="middle" fill="#111">2</text>
<text x="587.56" y="164.81" class="b" font-size="3.2" text-anchor="middle" fill="#111">6</text>
<text x="593.64" y="163.81" class="b" font-size="3.2" text-anchor="middle" fill="#111">10</text>
<text x="599.72" y="163.57" class="b" font-size="3.2" text-anchor="middle" fill="#111">11</text>
<text x="605.8" y="166.05" class="b" font-size="3.2" text-anchor="middle" fill="#111">1</text>
<path d="M462 167 C462.6 166.98 463.54 167.37 465.35 166.9 C467.16 166.43 469.74 165.63 472.04 164.39 C474.34 163.14 475.93 162.52 478.12 159.99 C480.31 157.47 482.01 154.31 484.2 150.34 C486.39 146.38 488.09 147.77 490.28 137.98 C492.47 128.18 494.17 113.2 496.36 95.93 C498.55 78.65 500.25 51.13 502.44 42 C504.63 32.88 506.33 36.42 508.52 45.23 C510.71 54.05 512.41 77.32 514.6 90.96 C516.79 104.6 518.49 111.32 520.68 121.03 C522.87 130.73 524.57 139.13 526.76 144.87 C528.95 150.61 530.65 150.77 532.84 152.92 C535.03 155.08 536.73 156.22 538.92 156.85 C541.11 157.48 542.81 156.71 545 156.43 C547.19 156.15 548.89 155.42 551.08 155.31 C553.27 155.2 554.97 155.38 557.16 155.82 C559.35 156.26 561.05 156.84 563.24 157.76 C565.43 158.67 567.13 159.91 569.32 160.92 C571.51 161.94 573.21 162.68 575.4 163.42 C577.59 164.15 579.29 164.66 581.48 165 C583.67 165.34 585.37 165.26 587.56 165.31 C589.75 165.35 591.45 165.25 593.64 165.26 C595.83 165.28 597.53 165.25 599.72 165.4 C601.91 165.55 603.98 165.83 605.8 166.1 C607.62 166.37 609.11 166.76 609.84 166.9" fill="none" stroke="#1a1a1a" stroke-width="0.65"/>
<line x1="396.6" y1="167.2" x2="614.6" y2="167.2" stroke="#a6a6a6" stroke-width="0.6"/>
<line x1="614.6" y1="167.2" x2="616.2" y2="167.2" stroke="#777" stroke-width="0.45"/>
<text x="617" y="168.9" class="t" font-size="4.0" text-anchor="start" fill="#111">0</text>
<line x1="614.6" y1="142.35" x2="615.5" y2="142.35" stroke="#aaa" stroke-width="0.4"/>
<line x1="614.6" y1="117.5" x2="616.2" y2="117.5" stroke="#777" stroke-width="0.45"/>
<text x="617" y="119.2" class="t" font-size="4.0" text-anchor="start" fill="#111">200</text>
<line x1="614.6" y1="92.65" x2="615.5" y2="92.65" stroke="#aaa" stroke-width="0.4"/>
<line x1="614.6" y1="67.8" x2="616.2" y2="67.8" stroke="#777" stroke-width="0.45"/>
<text x="617" y="69.5" class="t" font-size="4.0" text-anchor="start" fill="#111">400</text>
<line x1="614.6" y1="42.95" x2="615.5" y2="42.95" stroke="#aaa" stroke-width="0.4"/>
<line x1="614.6" y1="18.1" x2="616.2" y2="18.1" stroke="#777" stroke-width="0.45"/>
<text x="617" y="19.8" class="t" font-size="4.0" text-anchor="start" fill="#111">600</text>
<text transform="translate(629.2 93) rotate(-90)" class="t" font-size="3.7" text-anchor="middle" fill="#111">Count</text>
<line x1="396.6" y1="167.2" x2="396.6" y2="168.7" stroke="#888" stroke-width="0.45"/>
<text x="396.6" y="174" class="t" font-size="4.0" text-anchor="middle" fill="#111">120</text>
<line x1="414.77" y1="167.2" x2="414.77" y2="168.7" stroke="#888" stroke-width="0.45"/>
<text x="414.77" y="174" class="t" font-size="4.0" text-anchor="middle" fill="#111">100</text>
<line x1="432.93" y1="167.2" x2="432.93" y2="168.7" stroke="#888" stroke-width="0.45"/>
<text x="432.93" y="174" class="t" font-size="4.0" text-anchor="middle" fill="#111">80</text>
<line x1="451.1" y1="167.2" x2="451.1" y2="168.7" stroke="#888" stroke-width="0.45"/>
<text x="451.1" y="174" class="t" font-size="4.0" text-anchor="middle" fill="#111">60</text>
<line x1="469.27" y1="167.2" x2="469.27" y2="168.7" stroke="#888" stroke-width="0.45"/>
<text x="469.27" y="174" class="t" font-size="4.0" text-anchor="middle" fill="#111">40</text>
<line x1="487.43" y1="167.2" x2="487.43" y2="168.7" stroke="#888" stroke-width="0.45"/>
<text x="487.43" y="174" class="t" font-size="4.0" text-anchor="middle" fill="#111">20</text>
<line x1="505.6" y1="167.2" x2="505.6" y2="168.7" stroke="#888" stroke-width="0.45"/>
<text x="505.6" y="174" class="t" font-size="4.0" text-anchor="middle" fill="#111">0</text>
<line x1="523.77" y1="167.2" x2="523.77" y2="168.7" stroke="#888" stroke-width="0.45"/>
<text x="523.77" y="174" class="t" font-size="4.0" text-anchor="middle" fill="#111">-20</text>
<line x1="541.93" y1="167.2" x2="541.93" y2="168.7" stroke="#888" stroke-width="0.45"/>
<text x="541.93" y="174" class="t" font-size="4.0" text-anchor="middle" fill="#111">-40</text>
<line x1="560.1" y1="167.2" x2="560.1" y2="168.7" stroke="#888" stroke-width="0.45"/>
<text x="560.1" y="174" class="t" font-size="4.0" text-anchor="middle" fill="#111">-60</text>
<line x1="578.27" y1="167.2" x2="578.27" y2="168.7" stroke="#888" stroke-width="0.45"/>
<text x="578.27" y="174" class="t" font-size="4.0" text-anchor="middle" fill="#111">-80</text>
<line x1="596.43" y1="167.2" x2="596.43" y2="168.7" stroke="#888" stroke-width="0.45"/>
<text x="596.43" y="174" class="t" font-size="4.0" text-anchor="middle" fill="#111">-100</text>
<line x1="614.6" y1="167.2" x2="614.6" y2="168.7" stroke="#888" stroke-width="0.45"/>
<text x="614.6" y="174" class="t" font-size="4.0" text-anchor="middle" fill="#111">-120</text>
<line x1="405.68" y1="167.2" x2="405.68" y2="168.1" stroke="#aaa" stroke-width="0.4"/>
<line x1="423.85" y1="167.2" x2="423.85" y2="168.1" stroke="#aaa" stroke-width="0.4"/>
<line x1="442.02" y1="167.2" x2="442.02" y2="168.1" stroke="#aaa" stroke-width="0.4"/>
<line x1="460.18" y1="167.2" x2="460.18" y2="168.1" stroke="#aaa" stroke-width="0.4"/>
<line x1="478.35" y1="167.2" x2="478.35" y2="168.1" stroke="#aaa" stroke-width="0.4"/>
<line x1="496.52" y1="167.2" x2="496.52" y2="168.1" stroke="#aaa" stroke-width="0.4"/>
<line x1="514.68" y1="167.2" x2="514.68" y2="168.1" stroke="#aaa" stroke-width="0.4"/>
<line x1="532.85" y1="167.2" x2="532.85" y2="168.1" stroke="#aaa" stroke-width="0.4"/>
<line x1="551.02" y1="167.2" x2="551.02" y2="168.1" stroke="#aaa" stroke-width="0.4"/>
<line x1="569.18" y1="167.2" x2="569.18" y2="168.1" stroke="#aaa" stroke-width="0.4"/>
<line x1="587.35" y1="167.2" x2="587.35" y2="168.1" stroke="#aaa" stroke-width="0.4"/>
<line x1="605.52" y1="167.2" x2="605.52" y2="168.1" stroke="#aaa" stroke-width="0.4"/>
<line x1="396.6" y1="180" x2="614.6" y2="180" stroke="#c2c2c2" stroke-width="0.5"/>
<line x1="614.4" y1="180" x2="614.4" y2="181.5" stroke="#888" stroke-width="0.45"/>
<text x="614.4" y="186.8" class="t" font-size="4.0" text-anchor="middle" fill="#111">-5</text>
<line x1="610.04" y1="180" x2="610.04" y2="180.8" stroke="#aaa" stroke-width="0.35"/>
<line x1="605.68" y1="180" x2="605.68" y2="180.8" stroke="#aaa" stroke-width="0.35"/>
<line x1="601.32" y1="180" x2="601.32" y2="180.8" stroke="#aaa" stroke-width="0.35"/>
<line x1="596.96" y1="180" x2="596.96" y2="180.8" stroke="#aaa" stroke-width="0.35"/>
<line x1="592.6" y1="180" x2="592.6" y2="181.5" stroke="#888" stroke-width="0.45"/>
<text x="592.6" y="186.8" class="t" font-size="4.0" text-anchor="middle" fill="#111">-4</text>
<line x1="588.24" y1="180" x2="588.24" y2="180.8" stroke="#aaa" stroke-width="0.35"/>
<line x1="583.88" y1="180" x2="583.88" y2="180.8" stroke="#aaa" stroke-width="0.35"/>
<line x1="579.52" y1="180" x2="579.52" y2="180.8" stroke="#aaa" stroke-width="0.35"/>
<line x1="575.16" y1="180" x2="575.16" y2="180.8" stroke="#aaa" stroke-width="0.35"/>
<line x1="570.8" y1="180" x2="570.8" y2="181.5" stroke="#888" stroke-width="0.45"/>
<text x="570.8" y="186.8" class="t" font-size="4.0" text-anchor="middle" fill="#111">-3</text>
<line x1="566.44" y1="180" x2="566.44" y2="180.8" stroke="#aaa" stroke-width="0.35"/>
<line x1="562.08" y1="180" x2="562.08" y2="180.8" stroke="#aaa" stroke-width="0.35"/>
<line x1="557.72" y1="180" x2="557.72" y2="180.8" stroke="#aaa" stroke-width="0.35"/>
<line x1="553.36" y1="180" x2="553.36" y2="180.8" stroke="#aaa" stroke-width="0.35"/>
<line x1="549" y1="180" x2="549" y2="181.5" stroke="#888" stroke-width="0.45"/>
<text x="549" y="186.8" class="t" font-size="4.0" text-anchor="middle" fill="#111">-2</text>
<line x1="544.64" y1="180" x2="544.64" y2="180.8" stroke="#aaa" stroke-width="0.35"/>
<line x1="540.28" y1="180" x2="540.28" y2="180.8" stroke="#aaa" stroke-width="0.35"/>
<line x1="535.92" y1="180" x2="535.92" y2="180.8" stroke="#aaa" stroke-width="0.35"/>
<line x1="531.56" y1="180" x2="531.56" y2="180.8" stroke="#aaa" stroke-width="0.35"/>
<line x1="527.2" y1="180" x2="527.2" y2="181.5" stroke="#888" stroke-width="0.45"/>
<text x="527.2" y="186.8" class="t" font-size="4.0" text-anchor="middle" fill="#111">-1</text>
<line x1="522.84" y1="180" x2="522.84" y2="180.8" stroke="#aaa" stroke-width="0.35"/>
<line x1="518.48" y1="180" x2="518.48" y2="180.8" stroke="#aaa" stroke-width="0.35"/>
<line x1="514.12" y1="180" x2="514.12" y2="180.8" stroke="#aaa" stroke-width="0.35"/>
<line x1="509.76" y1="180" x2="509.76" y2="180.8" stroke="#aaa" stroke-width="0.35"/>
<line x1="505.4" y1="180" x2="505.4" y2="181.5" stroke="#888" stroke-width="0.45"/>
<text x="505.4" y="186.8" class="t" font-size="4.0" text-anchor="middle" fill="#111">0</text>
<line x1="501.04" y1="180" x2="501.04" y2="180.8" stroke="#aaa" stroke-width="0.35"/>
<line x1="496.68" y1="180" x2="496.68" y2="180.8" stroke="#aaa" stroke-width="0.35"/>
<line x1="492.32" y1="180" x2="492.32" y2="180.8" stroke="#aaa" stroke-width="0.35"/>
<line x1="487.96" y1="180" x2="487.96" y2="180.8" stroke="#aaa" stroke-width="0.35"/>
<line x1="483.6" y1="180" x2="483.6" y2="181.5" stroke="#888" stroke-width="0.45"/>
<text x="483.6" y="186.8" class="t" font-size="4.0" text-anchor="middle" fill="#111">1</text>
<line x1="479.24" y1="180" x2="479.24" y2="180.8" stroke="#aaa" stroke-width="0.35"/>
<line x1="474.88" y1="180" x2="474.88" y2="180.8" stroke="#aaa" stroke-width="0.35"/>
<line x1="470.52" y1="180" x2="470.52" y2="180.8" stroke="#aaa" stroke-width="0.35"/>
<line x1="466.16" y1="180" x2="466.16" y2="180.8" stroke="#aaa" stroke-width="0.35"/>
<line x1="461.8" y1="180" x2="461.8" y2="181.5" stroke="#888" stroke-width="0.45"/>
<text x="461.8" y="186.8" class="t" font-size="4.0" text-anchor="middle" fill="#111">2</text>
<line x1="457.44" y1="180" x2="457.44" y2="180.8" stroke="#aaa" stroke-width="0.35"/>
<line x1="453.08" y1="180" x2="453.08" y2="180.8" stroke="#aaa" stroke-width="0.35"/>
<line x1="448.72" y1="180" x2="448.72" y2="180.8" stroke="#aaa" stroke-width="0.35"/>
<line x1="444.36" y1="180" x2="444.36" y2="180.8" stroke="#aaa" stroke-width="0.35"/>
<line x1="440" y1="180" x2="440" y2="181.5" stroke="#888" stroke-width="0.45"/>
<text x="440" y="186.8" class="t" font-size="4.0" text-anchor="middle" fill="#111">3</text>
<line x1="435.64" y1="180" x2="435.64" y2="180.8" stroke="#aaa" stroke-width="0.35"/>
<line x1="431.28" y1="180" x2="431.28" y2="180.8" stroke="#aaa" stroke-width="0.35"/>
<line x1="426.92" y1="180" x2="426.92" y2="180.8" stroke="#aaa" stroke-width="0.35"/>
<line x1="422.56" y1="180" x2="422.56" y2="180.8" stroke="#aaa" stroke-width="0.35"/>
<line x1="418.2" y1="180" x2="418.2" y2="181.5" stroke="#888" stroke-width="0.45"/>
<text x="418.2" y="186.8" class="t" font-size="4.0" text-anchor="middle" fill="#111">4</text>
<line x1="413.84" y1="180" x2="413.84" y2="180.8" stroke="#aaa" stroke-width="0.35"/>
<line x1="409.48" y1="180" x2="409.48" y2="180.8" stroke="#aaa" stroke-width="0.35"/>
<line x1="405.12" y1="180" x2="405.12" y2="180.8" stroke="#aaa" stroke-width="0.35"/>
<line x1="400.76" y1="180" x2="400.76" y2="180.8" stroke="#aaa" stroke-width="0.35"/>
<line x1="396.4" y1="180" x2="396.4" y2="181.5" stroke="#888" stroke-width="0.45"/>
<text x="396.4" y="186.8" class="t" font-size="4.0" text-anchor="middle" fill="#111">5</text>
<line x1="477.4" y1="9.7" x2="542.4" y2="9.7" stroke="#333" stroke-width="0.5"/>
<line x1="477.4" y1="6.6" x2="477.4" y2="12.8" stroke="#333" stroke-width="0.6"/>
<line x1="542.4" y1="7.1" x2="542.4" y2="12.3" stroke="#333" stroke-width="0.6"/>
<rect x="500.6" y="6.6" width="17" height="6.2" fill="#fff" stroke="#333" stroke-width="0.55"/>
<line x1="507.6" y1="6.6" x2="507.6" y2="12.8" stroke="#333" stroke-width="0.5"/>
<path d="M511.9 9.7 l1.1 -1.6 l1.1 1.6 l-1.1 1.6z" fill="none" stroke="#333" stroke-width="0.4"/>
<path d="M496.4 4.8 v-0.8 H511.6 v0.8" fill="none" stroke="#ea2840" stroke-width="0.7"/>
<path d="M474.4 8.3h0" stroke="#555" stroke-width="0.8" stroke-linecap="round" fill="none"/>
<path d="M550.0 9.6h0M573.6 11.1h0M555.0 9.0h0M556.4 9.7h0M572.7 8.7h0M568.6 10.4h0M569.2 10.5h0M562.2 9.2h0M552.8 9.3h0M567.9 8.4h0M548.8 10.5h0M550.5 8.4h0M543.5 9.9h0M553.0 11.1h0M571.2 11.2h0M551.0 8.5h0M545.5 9.7h0M565.5 9.5h0M550.0 9.5h0M562.6 10.2h0M566.8 10.7h0M564.1 8.6h0M569.8 9.1h0M560.9 9.3h0M566.5 8.8h0M550.5 8.9h0M547.4 10.9h0M561.3 9.2h0M555.3 11.2h0M558.9 8.9h0M568.8 10.2h0M574.7 8.5h0M557.9 10.7h0M569.8 10.9h0M543.7 9.1h0M546.3 8.8h0M574.1 9.9h0M572.7 9.3h0M570.6 9.5h0M550.9 10.5h0M573.2 8.5h0M561.8 10.1h0M549.5 9.3h0M547.0 8.8h0M550.7 10.0h0M563.6 8.8h0M542.8 9.2h0M564.5 8.8h0M552.6 8.8h0M568.3 9.8h0M544.5 8.5h0M555.3 9.9h0M563.2 8.5h0M547.7 10.3h0M555.8 9.0h0M552.4 11.1h0M552.6 9.9h0M554.0 9.4h0M570.6 11.2h0M554.3 8.8h0M566.1 8.8h0M542.6 10.9h0M556.2 10.7h0M555.6 10.8h0M557.4 8.7h0M542.9 9.9h0M563.3 10.9h0M545.3 10.1h0M554.5 9.7h0M547.2 9.0h0M559.4 11.0h0M545.9 9.7h0M568.6 11.1h0M548.8 8.6h0M573.1 11.1h0M558.1 8.4h0M572.6 9.4h0M571.9 10.1h0M569.3 8.7h0M568.0 8.9h0M555.6 10.7h0M569.4 8.7h0M549.5 9.4h0M559.3 9.4h0M546.4 8.9h0M566.0 10.9h0M543.7 9.9h0M567.1 8.3h0M569.7 8.6h0M561.9 9.9h0M562.8 9.1h0M556.1 9.9h0M556.3 10.2h0M557.0 9.5h0M543.2 10.1h0M558.4 8.9h0M567.3 10.5h0M557.3 8.7h0M557.8 8.5h0M546.6 9.5h0M545.4 9.5h0M559.0 8.3h0M563.1 8.4h0M566.3 10.5h0M559.1 8.4h0M558.8 9.3h0M573.4 8.6h0M570.3 11.2h0M566.3 10.6h0M548.7 11.1h0M558.4 11.1h0M572.3 8.7h0M568.1 11.0h0M544.5 9.3h0M567.1 8.7h0M571.6 9.0h0M569.0 8.6h0M558.8 11.0h0M549.2 9.0h0M558.9 9.2h0M543.6 8.7h0M547.7 11.0h0M564.6 10.9h0M547.9 10.6h0M546.2 9.8h0M563.1 9.3h0M570.9 9.9h0M561.3 10.8h0M545.8 11.2h0M562.9 9.4h0M568.4 9.0h0M574.7 9.9h0M554.1 10.5h0M556.8 8.7h0M566.6 8.3h0M569.1 9.0h0M563.2 11.2h0M561.5 10.2h0M552.6 8.2h0M543.5 8.6h0M562.5 9.5h0M559.1 10.9h0M546.7 8.9h0M563.7 8.3h0M542.5 9.3h0M545.9 9.3h0M549.7 10.0h0M561.6 8.8h0M562.7 9.6h0M546.8 11.0h0M550.3 8.6h0M545.5 10.1h0M570.8 10.5h0M555.5 9.0h0M542.8 10.1h0M560.7 9.3h0M563.4 9.5h0M573.0 10.4h0M550.5 10.9h0M543.8 9.8h0M555.6 8.9h0M544.3 10.5h0M542.8 9.9h0M573.1 8.6h0M548.9 10.0h0M558.9 10.1h0M568.9 8.7h0M552.5 9.1h0M544.0 10.9h0M567.9 10.3h0M542.6 10.7h0M566.7 9.6h0M566.6 9.6h0M549.8 8.5h0M550.0 8.3h0M553.3 10.4h0M565.1 10.7h0M565.6 9.0h0M560.5 9.5h0M568.1 9.8h0M551.0 10.1h0M573.9 8.9h0M571.1 8.2h0M550.9 8.9h0M566.7 11.0h0M566.7 9.2h0M571.1 9.2h0M550.2 10.9h0M563.0 10.3h0M564.1 11.1h0M557.7 10.7h0M565.1 10.8h0M556.7 10.4h0M561.0 9.1h0M549.3 10.1h0M544.9 10.9h0M547.1 8.3h0M545.9 11.0h0M553.6 8.6h0M543.3 8.3h0M565.0 10.1h0M565.1 10.4h0M544.5 10.0h0M554.2 10.7h0M569.1 10.9h0M544.5 10.8h0M572.2 11.0h0M545.9 8.8h0M546.1 8.3h0M570.0 10.6h0M563.1 10.7h0M563.0 9.1h0M545.7 8.5h0M567.1 8.8h0M552.8 9.5h0M543.1 9.0h0M551.6 10.3h0M554.4 9.2h0M573.8 9.7h0M570.2 10.1h0M543.4 9.4h0M556.6 10.5h0M553.7 10.3h0M559.9 8.8h0M570.5 8.5h0M569.1 8.7h0M542.4 8.8h0M567.2 11.1h0M542.5 9.7h0M558.4 10.6h0M548.4 9.7h0M553.7 10.7h0M550.9 11.0h0M551.6 8.8h0M565.2 9.7h0M546.0 10.1h0M545.0 10.6h0M565.1 10.6h0M562.9 9.3h0M555.5 9.4h0M571.4 8.5h0M571.4 8.3h0M549.1 9.0h0M571.8 9.7h0M554.8 10.9h0M550.0 9.6h0M559.7 10.5h0M566.9 10.1h0M553.8 9.2h0M547.5 10.7h0" stroke="#000" stroke-width="1.24" stroke-linecap="round" fill="none"/>
<path d="M579.8 10.4h0M577.3 9.5h0M580.4 9.9h0M577.1 9.6h0M580.9 8.9h0M577.5 9.1h0M580.0 10.7h0M577.3 8.7h0M577.7 9.2h0M579.1 8.7h0M578.1 8.8h0M581.4 10.4h0" stroke="#000" stroke-width="1.24" stroke-linecap="round" fill="none"/>
<path d="M586.4 11.1h0M586.4 9.4h0M589.4 10.6h0M588.6 9.5h0" stroke="#000" stroke-width="0.9" stroke-linecap="round" fill="none"/>
<path d="M594.3 10.1h0M593.9 8.8h0M595.3 8.3h0M595.4 10.6h0M596.9 9.7h0M596.6 9.6h0M594.0 10.0h0M595.4 10.4h0M598.0 9.5h0M596.3 10.4h0M595.5 8.9h0M597.1 10.8h0M597.3 10.3h0M597.7 10.2h0M596.6 9.6h0M594.9 10.1h0M593.8 9.5h0M597.4 10.3h0M596.6 9.0h0M595.5 9.6h0" stroke="#000" stroke-width="1.24" stroke-linecap="round" fill="none"/>
<path d="M601.8 9.4h0M601.8 11.0h0" stroke="#000" stroke-width="1.24" stroke-linecap="round" fill="none"/>
</g>
<g>
<rect x="45.5" y="207" width="250.5" height="199.4" fill="#f9f9f9"/>
<rect x="69.6" y="209.6" width="220" height="168.8" fill="#fff" stroke="#bcbcbc" stroke-width="0.6"/>
<line x1="69.6" y1="225" x2="289.6" y2="225" stroke="#c4c4c4" stroke-width="0.6"/>
<defs><pattern id="hc" width="2.2" height="2.2" patternUnits="userSpaceOnUse" patternTransform="rotate(-45)"><line x1="-1" y1="1.1" x2="3.2" y2="1.1" stroke="#b84c0c" stroke-width="0.6"/></pattern></defs>
<rect x="81.4" y="378.22" width="6.13" height="0.18" fill="#ffa868" stroke="#303030" stroke-width="0.3"/>
<rect x="87.53" y="376.44" width="6.13" height="1.96" fill="#ffa868" stroke="#303030" stroke-width="0.3"/>
<rect x="93.66" y="373.4" width="6.13" height="5" fill="#ffa868" stroke="#303030" stroke-width="0.3"/>
<rect x="99.79" y="362.16" width="6.13" height="16.24" fill="#ffa868" stroke="#303030" stroke-width="0.3"/>
<rect x="105.92" y="349.48" width="6.13" height="28.92" fill="#ffa868" stroke="#303030" stroke-width="0.3"/>
<rect x="112.05" y="339.31" width="6.13" height="39.09" fill="#ffa868" stroke="#303030" stroke-width="0.3"/>
<rect x="118.18" y="338.24" width="6.13" height="40.16" fill="#ffa868" stroke="#303030" stroke-width="0.3"/>
<rect x="124.31" y="327.71" width="6.13" height="50.69" fill="#ffa868" stroke="#303030" stroke-width="0.3"/>
<rect x="130.44" y="330.38" width="6.13" height="48.02" fill="#ffa868" stroke="#303030" stroke-width="0.3"/>
<rect x="136.57" y="336.63" width="6.13" height="41.77" fill="#ffa868" stroke="#303030" stroke-width="0.3"/>
<rect x="142.7" y="338.59" width="6.13" height="39.81" fill="#ffa868" stroke="#303030" stroke-width="0.3"/>
<rect x="148.83" y="350.2" width="6.13" height="28.2" fill="#ffa868" stroke="#303030" stroke-width="0.3"/>
<rect x="154.96" y="357.87" width="6.13" height="20.53" fill="#ffa868" stroke="#303030" stroke-width="0.3"/>
<rect x="161.09" y="360.37" width="6.13" height="18.03" fill="#ffa868" stroke="#303030" stroke-width="0.3"/>
<rect x="167.22" y="368.4" width="6.13" height="10" fill="#ffa868" stroke="#303030" stroke-width="0.3"/>
<rect x="173.35" y="369.12" width="6.13" height="9.28" fill="#ffa868" stroke="#303030" stroke-width="0.3"/>
<rect x="179.48" y="372.87" width="6.13" height="5.53" fill="#ffa868" stroke="#303030" stroke-width="0.3"/>
<rect x="185.61" y="374.12" width="6.13" height="4.28" fill="#ffa868" stroke="#303030" stroke-width="0.3"/>
<rect x="191.74" y="375.37" width="6.13" height="3.03" fill="#e8742a"/>
<rect x="191.74" y="375.37" width="6.13" height="3.03" fill="url(#hc)" stroke="#303030" stroke-width="0.3"/>
<rect x="197.87" y="376.44" width="6.13" height="1.96" fill="#e8742a"/>
<rect x="197.87" y="376.44" width="6.13" height="1.96" fill="url(#hc)" stroke="#303030" stroke-width="0.3"/>
<rect x="204" y="376.08" width="6.13" height="2.32" fill="#e8742a"/>
<rect x="204" y="376.08" width="6.13" height="2.32" fill="url(#hc)" stroke="#303030" stroke-width="0.3"/>
<rect x="210.13" y="377.33" width="6.13" height="1.07" fill="#e0661a" stroke="#303030" stroke-width="0.3"/>
<rect x="216.26" y="376.61" width="6.13" height="1.78" fill="#e0661a" stroke="#303030" stroke-width="0.3"/>
<rect x="222.39" y="376.61" width="6.13" height="1.78" fill="#e0661a" stroke="#303030" stroke-width="0.3"/>
<rect x="228.52" y="377.15" width="6.13" height="1.25" fill="#e0661a" stroke="#303030" stroke-width="0.3"/>
<rect x="234.65" y="377.51" width="6.13" height="0.89" fill="#e0661a" stroke="#303030" stroke-width="0.3"/>
<rect x="240.78" y="377.15" width="6.13" height="1.25" fill="#e0661a" stroke="#303030" stroke-width="0.3"/>
<rect x="246.91" y="378.04" width="6.13" height="0.36" fill="#e0661a" stroke="#303030" stroke-width="0.3"/>
<rect x="253.04" y="377.86" width="6.13" height="0.54" fill="#e0661a" stroke="#303030" stroke-width="0.3"/>
<rect x="259.17" y="376.97" width="6.13" height="1.43" fill="#e0661a" stroke="#303030" stroke-width="0.3"/>
<rect x="265.3" y="375.72" width="6.13" height="2.68" fill="#e0661a" stroke="#303030" stroke-width="0.3"/>
<rect x="271.43" y="377.86" width="6.13" height="0.54" fill="#e0661a" stroke="#303030" stroke-width="0.3"/>
<text x="84.47" y="377.32" class="b" font-size="3.2" text-anchor="middle" fill="#111">1</text>
<text x="90.59" y="375.54" class="b" font-size="3.2" text-anchor="middle" fill="#111">11</text>
<text x="96.73" y="372.5" class="b" font-size="3.2" text-anchor="middle" fill="#111">28</text>
<text x="102.86" y="361.26" class="b" font-size="3.2" text-anchor="middle" fill="#111">91</text>
<text x="108.99" y="348.58" class="b" font-size="3.2" text-anchor="middle" fill="#111">162</text>
<text x="115.12" y="338.41" class="b" font-size="3.2" text-anchor="middle" fill="#111">219</text>
<text x="121.25" y="337.34" class="b" font-size="3.2" text-anchor="middle" fill="#111">225</text>
<text x="127.38" y="326.81" class="b" font-size="3.2" text-anchor="middle" fill="#111">284</text>
<text x="133.5" y="329.48" class="b" font-size="3.2" text-anchor="middle" fill="#111">269</text>
<text x="139.63" y="335.73" class="b" font-size="3.2" text-anchor="middle" fill="#111">234</text>
<text x="145.76" y="337.69" class="b" font-size="3.2" text-anchor="middle" fill="#111">223</text>
<text x="151.9" y="349.3" class="b" font-size="3.2" text-anchor="middle" fill="#111">158</text>
<text x="158.03" y="356.97" class="b" font-size="3.2" text-anchor="middle" fill="#111">115</text>
<text x="164.16" y="359.47" class="b" font-size="3.2" text-anchor="middle" fill="#111">101</text>
<text x="170.29" y="367.5" class="b" font-size="3.2" text-anchor="middle" fill="#111">56</text>
<text x="176.42" y="368.22" class="b" font-size="3.2" text-anchor="middle" fill="#111">52</text>
<text x="182.55" y="371.97" class="b" font-size="3.2" text-anchor="middle" fill="#111">31</text>
<text x="188.68" y="373.22" class="b" font-size="3.2" text-anchor="middle" fill="#111">24</text>
<text x="194.81" y="374.47" class="b" font-size="3.2" text-anchor="middle" fill="#111">17</text>
<text x="200.94" y="375.54" class="b" font-size="3.2" text-anchor="middle" fill="#111">11</text>
<text x="207.06" y="375.18" class="b" font-size="3.2" text-anchor="middle" fill="#111">13</text>
<text x="213.19" y="376.43" class="b" font-size="3.2" text-anchor="middle" fill="#111">6</text>
<text x="219.33" y="375.71" class="b" font-size="3.2" text-anchor="middle" fill="#111">10</text>
<text x="225.46" y="375.71" class="b" font-size="3.2" text-anchor="middle" fill="#111">10</text>
<text x="231.59" y="376.25" class="b" font-size="3.2" text-anchor="middle" fill="#111">7</text>
<text x="237.72" y="376.61" class="b" font-size="3.2" text-anchor="middle" fill="#111">5</text>
<text x="243.84" y="376.25" class="b" font-size="3.2" text-anchor="middle" fill="#111">7</text>
<text x="249.97" y="377.14" class="b" font-size="3.2" text-anchor="middle" fill="#111">2</text>
<text x="256.11" y="376.96" class="b" font-size="3.2" text-anchor="middle" fill="#111">3</text>
<text x="262.24" y="376.07" class="b" font-size="3.2" text-anchor="middle" fill="#111">8</text>
<text x="268.37" y="374.82" class="b" font-size="3.2" text-anchor="middle" fill="#111">15</text>
<text x="274.5" y="376.96" class="b" font-size="3.2" text-anchor="middle" fill="#111">3</text>
<path d="M69.6 378.2 C71.06 378.18 75.05 378.25 77.72 378.1 C80.4 377.95 82.15 377.87 84.47 377.34 C86.78 376.81 88.39 376.51 90.59 375.13 C92.8 373.76 94.52 372.41 96.73 369.71 C98.93 367.02 100.65 363.9 102.86 360.15 C105.06 356.4 106.78 352.55 108.99 348.88 C111.19 345.21 112.91 342.58 115.12 339.77 C117.32 336.97 119.04 335.23 121.25 333.3 C123.45 331.37 125.17 329.81 127.38 329.05 C129.58 328.3 131.3 328.38 133.5 329.1 C135.71 329.82 137.43 331.23 139.63 333.04 C141.84 334.84 143.56 336.62 145.76 339.15 C147.97 341.68 149.69 344.3 151.9 347.08 C154.1 349.87 155.82 352.19 158.03 354.61 C160.23 357.02 161.95 358.55 164.16 360.48 C166.36 362.41 168.08 363.82 170.29 365.34 C172.49 366.87 174.21 367.85 176.42 368.97 C178.62 370.09 180.34 370.75 182.55 371.57 C184.75 372.39 186.47 372.93 188.68 373.52 C190.88 374.11 192.6 374.45 194.81 374.84 C197.01 375.23 198.73 375.43 200.94 375.66 C203.14 375.9 204.86 376.01 207.06 376.16 C209.27 376.3 210.99 376.4 213.19 376.46 C215.4 376.52 217.12 376.48 219.33 376.5 C221.53 376.51 223.25 376.48 225.46 376.53 C227.66 376.59 229.38 376.71 231.59 376.8 C233.79 376.89 235.51 376.97 237.72 377.05 C239.92 377.13 241.64 377.17 243.84 377.24 C246.05 377.32 247.77 377.44 249.97 377.45 C252.18 377.46 253.9 377.43 256.11 377.29 C258.31 377.16 260.03 376.84 262.24 376.7 C264.44 376.56 266.16 376.43 268.37 376.52 C270.57 376.6 272.66 376.9 274.5 377.19 C276.33 377.47 275.84 377.92 278.56 378.1 C281.28 378.28 287.61 378.18 289.6 378.2" fill="none" stroke="#1a1a1a" stroke-width="0.65"/>
<line x1="69.6" y1="378.4" x2="289.6" y2="378.4" stroke="#a6a6a6" stroke-width="0.6"/>
<line x1="69.6" y1="378.4" x2="68" y2="378.4" stroke="#777" stroke-width="0.45"/>
<text x="67.2" y="380.1" class="t" font-size="4.0" text-anchor="end" fill="#111">0</text>
<line x1="69.6" y1="360.55" x2="68.7" y2="360.55" stroke="#aaa" stroke-width="0.4"/>
<line x1="69.6" y1="342.7" x2="68" y2="342.7" stroke="#777" stroke-width="0.45"/>
<text x="67.2" y="344.4" class="t" font-size="4.0" text-anchor="end" fill="#111">200</text>
<line x1="69.6" y1="324.85" x2="68.7" y2="324.85" stroke="#aaa" stroke-width="0.4"/>
<line x1="69.6" y1="307" x2="68" y2="307" stroke="#777" stroke-width="0.45"/>
<text x="67.2" y="308.7" class="t" font-size="4.0" text-anchor="end" fill="#111">400</text>
<line x1="69.6" y1="289.15" x2="68.7" y2="289.15" stroke="#aaa" stroke-width="0.4"/>
<line x1="69.6" y1="271.3" x2="68" y2="271.3" stroke="#777" stroke-width="0.45"/>
<text x="67.2" y="273" class="t" font-size="4.0" text-anchor="end" fill="#111">600</text>
<line x1="69.6" y1="253.45" x2="68.7" y2="253.45" stroke="#aaa" stroke-width="0.4"/>
<line x1="69.6" y1="235.6" x2="68" y2="235.6" stroke="#777" stroke-width="0.45"/>
<text x="67.2" y="237.3" class="t" font-size="4.0" text-anchor="end" fill="#111">800</text>
<text transform="translate(57.2 302.4) rotate(-90)" class="t" font-size="3.7" text-anchor="middle" fill="#111">Count</text>
<line x1="69.6" y1="378.4" x2="69.6" y2="379.9" stroke="#888" stroke-width="0.45"/>
<text x="69.6" y="385" class="t" font-size="4.0" text-anchor="middle" fill="#111">120</text>
<line x1="87.93" y1="378.4" x2="87.93" y2="379.9" stroke="#888" stroke-width="0.45"/>
<text x="87.93" y="385" class="t" font-size="4.0" text-anchor="middle" fill="#111">100</text>
<line x1="106.27" y1="378.4" x2="106.27" y2="379.9" stroke="#888" stroke-width="0.45"/>
<text x="106.27" y="385" class="t" font-size="4.0" text-anchor="middle" fill="#111">80</text>
<line x1="124.6" y1="378.4" x2="124.6" y2="379.9" stroke="#888" stroke-width="0.45"/>
<text x="124.6" y="385" class="t" font-size="4.0" text-anchor="middle" fill="#111">60</text>
<line x1="142.93" y1="378.4" x2="142.93" y2="379.9" stroke="#888" stroke-width="0.45"/>
<text x="142.93" y="385" class="t" font-size="4.0" text-anchor="middle" fill="#111">40</text>
<line x1="161.27" y1="378.4" x2="161.27" y2="379.9" stroke="#888" stroke-width="0.45"/>
<text x="161.27" y="385" class="t" font-size="4.0" text-anchor="middle" fill="#111">20</text>
<line x1="179.6" y1="378.4" x2="179.6" y2="379.9" stroke="#888" stroke-width="0.45"/>
<text x="179.6" y="385" class="t" font-size="4.0" text-anchor="middle" fill="#111">0</text>
<line x1="197.93" y1="378.4" x2="197.93" y2="379.9" stroke="#888" stroke-width="0.45"/>
<text x="197.93" y="385" class="t" font-size="4.0" text-anchor="middle" fill="#111">-20</text>
<line x1="216.27" y1="378.4" x2="216.27" y2="379.9" stroke="#888" stroke-width="0.45"/>
<text x="216.27" y="385" class="t" font-size="4.0" text-anchor="middle" fill="#111">-40</text>
<line x1="234.6" y1="378.4" x2="234.6" y2="379.9" stroke="#888" stroke-width="0.45"/>
<text x="234.6" y="385" class="t" font-size="4.0" text-anchor="middle" fill="#111">-60</text>
<line x1="252.93" y1="378.4" x2="252.93" y2="379.9" stroke="#888" stroke-width="0.45"/>
<text x="252.93" y="385" class="t" font-size="4.0" text-anchor="middle" fill="#111">-80</text>
<line x1="271.27" y1="378.4" x2="271.27" y2="379.9" stroke="#888" stroke-width="0.45"/>
<text x="271.27" y="385" class="t" font-size="4.0" text-anchor="middle" fill="#111">-100</text>
<line x1="289.6" y1="378.4" x2="289.6" y2="379.9" stroke="#888" stroke-width="0.45"/>
<text x="289.6" y="385" class="t" font-size="4.0" text-anchor="middle" fill="#111">-120</text>
<line x1="78.77" y1="378.4" x2="78.77" y2="379.3" stroke="#aaa" stroke-width="0.4"/>
<line x1="97.1" y1="378.4" x2="97.1" y2="379.3" stroke="#aaa" stroke-width="0.4"/>
<line x1="115.43" y1="378.4" x2="115.43" y2="379.3" stroke="#aaa" stroke-width="0.4"/>
<line x1="133.77" y1="378.4" x2="133.77" y2="379.3" stroke="#aaa" stroke-width="0.4"/>
<line x1="152.1" y1="378.4" x2="152.1" y2="379.3" stroke="#aaa" stroke-width="0.4"/>
<line x1="170.43" y1="378.4" x2="170.43" y2="379.3" stroke="#aaa" stroke-width="0.4"/>
<line x1="188.77" y1="378.4" x2="188.77" y2="379.3" stroke="#aaa" stroke-width="0.4"/>
<line x1="207.1" y1="378.4" x2="207.1" y2="379.3" stroke="#aaa" stroke-width="0.4"/>
<line x1="225.43" y1="378.4" x2="225.43" y2="379.3" stroke="#aaa" stroke-width="0.4"/>
<line x1="243.77" y1="378.4" x2="243.77" y2="379.3" stroke="#aaa" stroke-width="0.4"/>
<line x1="262.1" y1="378.4" x2="262.1" y2="379.3" stroke="#aaa" stroke-width="0.4"/>
<line x1="280.43" y1="378.4" x2="280.43" y2="379.3" stroke="#aaa" stroke-width="0.4"/>
<line x1="69.6" y1="392.4" x2="289.6" y2="392.4" stroke="#c2c2c2" stroke-width="0.5"/>
<line x1="289.4" y1="392.4" x2="289.4" y2="393.9" stroke="#888" stroke-width="0.45"/>
<text x="289.4" y="399" class="t" font-size="4.0" text-anchor="middle" fill="#111">-4</text>
<line x1="285.37" y1="392.4" x2="285.37" y2="393.2" stroke="#aaa" stroke-width="0.35"/>
<line x1="281.34" y1="392.4" x2="281.34" y2="393.2" stroke="#aaa" stroke-width="0.35"/>
<line x1="277.31" y1="392.4" x2="277.31" y2="393.2" stroke="#aaa" stroke-width="0.35"/>
<line x1="273.28" y1="392.4" x2="273.28" y2="393.2" stroke="#aaa" stroke-width="0.35"/>
<line x1="269.25" y1="392.4" x2="269.25" y2="393.9" stroke="#888" stroke-width="0.45"/>
<text x="269.25" y="399" class="t" font-size="4.0" text-anchor="middle" fill="#111">-3.5</text>
<line x1="265.22" y1="392.4" x2="265.22" y2="393.2" stroke="#aaa" stroke-width="0.35"/>
<line x1="261.19" y1="392.4" x2="261.19" y2="393.2" stroke="#aaa" stroke-width="0.35"/>
<line x1="257.16" y1="392.4" x2="257.16" y2="393.2" stroke="#aaa" stroke-width="0.35"/>
<line x1="253.13" y1="392.4" x2="253.13" y2="393.2" stroke="#aaa" stroke-width="0.35"/>
<line x1="249.1" y1="392.4" x2="249.1" y2="393.9" stroke="#888" stroke-width="0.45"/>
<text x="249.1" y="399" class="t" font-size="4.0" text-anchor="middle" fill="#111">-3</text>
<line x1="245.07" y1="392.4" x2="245.07" y2="393.2" stroke="#aaa" stroke-width="0.35"/>
<line x1="241.04" y1="392.4" x2="241.04" y2="393.2" stroke="#aaa" stroke-width="0.35"/>
<line x1="237.01" y1="392.4" x2="237.01" y2="393.2" stroke="#aaa" stroke-width="0.35"/>
<line x1="232.98" y1="392.4" x2="232.98" y2="393.2" stroke="#aaa" stroke-width="0.35"/>
<line x1="228.95" y1="392.4" x2="228.95" y2="393.9" stroke="#888" stroke-width="0.45"/>
<text x="228.95" y="399" class="t" font-size="4.0" text-anchor="middle" fill="#111">-2.5</text>
<line x1="224.92" y1="392.4" x2="224.92" y2="393.2" stroke="#aaa" stroke-width="0.35"/>
<line x1="220.89" y1="392.4" x2="220.89" y2="393.2" stroke="#aaa" stroke-width="0.35"/>
<line x1="216.86" y1="392.4" x2="216.86" y2="393.2" stroke="#aaa" stroke-width="0.35"/>
<line x1="212.83" y1="392.4" x2="212.83" y2="393.2" stroke="#aaa" stroke-width="0.35"/>
<line x1="208.8" y1="392.4" x2="208.8" y2="393.9" stroke="#888" stroke-width="0.45"/>
<text x="208.8" y="399" class="t" font-size="4.0" text-anchor="middle" fill="#111">-2</text>
<line x1="204.77" y1="392.4" x2="204.77" y2="393.2" stroke="#aaa" stroke-width="0.35"/>
<line x1="200.74" y1="392.4" x2="200.74" y2="393.2" stroke="#aaa" stroke-width="0.35"/>
<line x1="196.71" y1="392.4" x2="196.71" y2="393.2" stroke="#aaa" stroke-width="0.35"/>
<line x1="192.68" y1="392.4" x2="192.68" y2="393.2" stroke="#aaa" stroke-width="0.35"/>
<line x1="188.65" y1="392.4" x2="188.65" y2="393.9" stroke="#888" stroke-width="0.45"/>
<text x="188.65" y="399" class="t" font-size="4.0" text-anchor="middle" fill="#111">-1.5</text>
<line x1="184.62" y1="392.4" x2="184.62" y2="393.2" stroke="#aaa" stroke-width="0.35"/>
<line x1="180.59" y1="392.4" x2="180.59" y2="393.2" stroke="#aaa" stroke-width="0.35"/>
<line x1="176.56" y1="392.4" x2="176.56" y2="393.2" stroke="#aaa" stroke-width="0.35"/>
<line x1="172.53" y1="392.4" x2="172.53" y2="393.2" stroke="#aaa" stroke-width="0.35"/>
<line x1="168.5" y1="392.4" x2="168.5" y2="393.9" stroke="#888" stroke-width="0.45"/>
<text x="168.5" y="399" class="t" font-size="4.0" text-anchor="middle" fill="#111">-1</text>
<line x1="164.47" y1="392.4" x2="164.47" y2="393.2" stroke="#aaa" stroke-width="0.35"/>
<line x1="160.44" y1="392.4" x2="160.44" y2="393.2" stroke="#aaa" stroke-width="0.35"/>
<line x1="156.41" y1="392.4" x2="156.41" y2="393.2" stroke="#aaa" stroke-width="0.35"/>
<line x1="152.38" y1="392.4" x2="152.38" y2="393.2" stroke="#aaa" stroke-width="0.35"/>
<line x1="148.35" y1="392.4" x2="148.35" y2="393.9" stroke="#888" stroke-width="0.45"/>
<text x="148.35" y="399" class="t" font-size="4.0" text-anchor="middle" fill="#111">-0.5</text>
<line x1="144.32" y1="392.4" x2="144.32" y2="393.2" stroke="#aaa" stroke-width="0.35"/>
<line x1="140.29" y1="392.4" x2="140.29" y2="393.2" stroke="#aaa" stroke-width="0.35"/>
<line x1="136.26" y1="392.4" x2="136.26" y2="393.2" stroke="#aaa" stroke-width="0.35"/>
<line x1="132.23" y1="392.4" x2="132.23" y2="393.2" stroke="#aaa" stroke-width="0.35"/>
<line x1="128.2" y1="392.4" x2="128.2" y2="393.9" stroke="#888" stroke-width="0.45"/>
<text x="128.2" y="399" class="t" font-size="4.0" text-anchor="middle" fill="#111">0</text>
<line x1="124.17" y1="392.4" x2="124.17" y2="393.2" stroke="#aaa" stroke-width="0.35"/>
<line x1="120.14" y1="392.4" x2="120.14" y2="393.2" stroke="#aaa" stroke-width="0.35"/>
<line x1="116.11" y1="392.4" x2="116.11" y2="393.2" stroke="#aaa" stroke-width="0.35"/>
<line x1="112.08" y1="392.4" x2="112.08" y2="393.2" stroke="#aaa" stroke-width="0.35"/>
<line x1="108.05" y1="392.4" x2="108.05" y2="393.9" stroke="#888" stroke-width="0.45"/>
<text x="108.05" y="399" class="t" font-size="4.0" text-anchor="middle" fill="#111">0.5</text>
<line x1="104.02" y1="392.4" x2="104.02" y2="393.2" stroke="#aaa" stroke-width="0.35"/>
<line x1="99.99" y1="392.4" x2="99.99" y2="393.2" stroke="#aaa" stroke-width="0.35"/>
<line x1="95.96" y1="392.4" x2="95.96" y2="393.2" stroke="#aaa" stroke-width="0.35"/>
<line x1="91.93" y1="392.4" x2="91.93" y2="393.2" stroke="#aaa" stroke-width="0.35"/>
<line x1="87.9" y1="392.4" x2="87.9" y2="393.9" stroke="#888" stroke-width="0.45"/>
<text x="87.9" y="399" class="t" font-size="4.0" text-anchor="middle" fill="#111">1</text>
<line x1="83.87" y1="392.4" x2="83.87" y2="393.2" stroke="#aaa" stroke-width="0.35"/>
<line x1="79.84" y1="392.4" x2="79.84" y2="393.2" stroke="#aaa" stroke-width="0.35"/>
<line x1="75.81" y1="392.4" x2="75.81" y2="393.2" stroke="#aaa" stroke-width="0.35"/>
<line x1="71.78" y1="392.4" x2="71.78" y2="393.2" stroke="#aaa" stroke-width="0.35"/>
<line x1="87.4" y1="217.6" x2="195" y2="217.6" stroke="#333" stroke-width="0.5"/>
<line x1="87.4" y1="214.6" x2="87.4" y2="220.6" stroke="#333" stroke-width="0.6"/>
<line x1="195" y1="215.1" x2="195" y2="220.1" stroke="#333" stroke-width="0.6"/>
<rect x="120.4" y="214.6" width="29.6" height="6" fill="#fff" stroke="#333" stroke-width="0.55"/>
<line x1="134.4" y1="214.6" x2="134.4" y2="220.6" stroke="#333" stroke-width="0.5"/>
<path d="M137.9 217.6 l1.1 -1.6 l1.1 1.6 l-1.1 1.6z" fill="none" stroke="#333" stroke-width="0.4"/>
<path d="M117.4 212.8 v-0.8 H146 v0.8" fill="none" stroke="#ea2840" stroke-width="0.7"/>
<path d="M194.4 218.1h0M195.6 217.3h0M195.0 219.0h0M194.1 217.7h0" stroke="#000" stroke-width="1.24" stroke-linecap="round" fill="none"/>
<path d="M204.5 218.4h0M245.9 217.7h0M201.4 217.8h0M224.7 218.3h0M223.1 218.0h0M239.9 217.7h0M217.7 218.9h0M207.1 218.2h0M216.8 218.4h0M202.5 219.1h0M214.8 216.3h0M210.5 217.3h0M196.7 217.4h0M218.3 218.2h0M214.7 216.9h0M207.9 218.3h0M245.8 217.7h0M207.6 218.5h0M216.8 216.7h0M202.9 218.4h0M238.9 218.0h0M220.9 217.8h0M208.0 219.0h0M214.7 218.0h0M239.4 218.5h0M220.8 217.0h0M225.1 216.5h0M240.2 217.2h0M241.1 216.9h0M215.9 216.9h0M218.6 216.7h0M196.1 218.3h0M210.9 216.8h0M212.0 217.5h0M218.7 218.0h0M230.9 217.2h0M245.2 218.7h0M199.0 218.6h0M244.0 218.5h0M203.4 218.6h0M229.6 216.1h0M196.6 219.0h0M230.8 216.9h0M201.4 216.5h0M208.4 218.4h0M214.4 216.6h0M243.9 218.5h0M204.9 218.8h0M228.2 218.4h0M231.4 218.8h0M237.8 218.6h0M206.5 218.2h0M224.1 218.3h0M219.2 218.7h0M225.4 216.9h0M208.4 216.5h0M222.1 216.3h0M220.8 216.5h0M222.0 217.6h0M224.6 218.7h0M196.4 218.6h0M220.8 217.8h0M231.3 218.6h0M215.9 217.4h0M246.9 216.3h0M229.8 218.0h0M197.5 217.9h0M232.2 218.9h0M213.5 219.0h0M223.1 217.6h0M243.6 216.2h0M234.1 218.0h0M213.9 218.7h0M215.4 217.5h0M223.9 218.4h0M207.2 217.4h0M218.4 217.8h0M239.8 217.0h0M239.9 217.3h0M222.7 216.9h0M222.8 219.0h0M230.7 218.5h0M213.5 217.1h0M211.9 217.9h0M229.6 218.5h0M198.1 218.3h0M242.9 217.7h0M198.6 217.0h0M196.3 216.7h0M244.8 217.9h0M230.9 218.5h0M244.2 217.9h0M228.7 218.0h0M232.9 217.9h0M232.1 216.7h0M231.4 217.5h0M236.4 216.4h0M205.6 216.2h0M237.1 218.8h0M230.8 217.2h0M239.6 218.5h0M225.8 216.9h0M212.0 217.4h0M212.9 217.4h0M230.0 218.9h0M198.9 217.8h0M198.1 216.5h0M238.9 217.8h0M244.7 217.4h0M196.7 217.3h0M227.4 218.9h0M248.0 217.5h0M217.9 216.4h0M230.2 216.7h0M204.0 216.1h0M196.3 218.2h0M202.4 219.0h0M200.7 218.7h0M202.8 216.2h0M234.1 216.8h0M234.9 216.7h0M198.7 218.4h0M233.8 218.7h0M234.7 216.4h0M229.3 218.2h0M220.4 218.9h0M209.5 219.0h0M234.0 216.1h0M196.8 218.1h0M239.3 216.3h0M212.5 218.3h0M204.8 218.7h0M221.8 216.3h0M215.5 217.8h0M219.3 218.1h0M203.7 218.5h0M215.3 218.0h0M229.4 217.4h0M216.4 218.5h0M246.1 218.5h0M226.0 217.0h0M199.2 219.0h0M233.3 218.6h0M213.6 217.9h0M247.8 218.6h0M227.9 217.0h0M218.7 218.8h0M216.0 218.2h0M227.9 218.8h0M238.8 216.9h0M196.1 216.9h0M218.4 217.9h0M239.2 218.8h0M198.2 218.6h0M239.0 218.7h0M226.3 216.9h0M241.1 218.5h0M232.3 218.8h0M214.4 216.4h0M225.3 218.5h0M206.6 218.4h0M245.4 216.8h0M228.2 218.1h0M220.7 216.7h0M209.5 218.4h0M238.0 217.5h0M200.6 218.5h0M236.9 216.8h0M226.7 218.8h0M242.9 217.7h0" stroke="#000" stroke-width="1.24" stroke-linecap="round" fill="none"/>
<path d="M255.3 217.9h0M254.3 216.7h0M254.3 218.2h0M254.9 217.8h0M255.0 217.7h0M254.2 216.2h0" stroke="#000" stroke-width="1.24" stroke-linecap="round" fill="none"/>
<path d="M275.0 217.2h0M261.6 218.0h0M271.8 216.6h0M269.0 217.1h0M267.8 216.2h0M260.5 219.1h0M273.0 217.6h0M268.5 216.9h0M271.7 217.4h0M274.2 218.4h0M272.3 219.0h0M263.8 216.2h0M263.0 216.6h0M261.3 216.3h0M268.4 218.7h0M266.9 218.9h0M273.6 216.3h0M269.0 217.3h0M261.8 219.0h0M263.9 217.8h0M269.6 219.0h0M270.0 217.3h0M266.7 216.6h0M274.5 219.1h0M263.3 216.2h0M263.8 217.2h0M273.5 218.8h0M272.6 216.2h0M271.8 218.2h0M269.7 219.1h0M260.8 216.5h0M271.3 218.9h0M270.2 217.0h0M268.9 218.4h0M261.6 217.1h0M263.9 216.5h0M267.2 216.6h0M263.6 216.5h0M270.2 216.1h0M270.8 216.7h0" stroke="#000" stroke-width="1.24" stroke-linecap="round" fill="none"/>
<path d="M277.8 218.9h0" stroke="#000" stroke-width="1.24" stroke-linecap="round" fill="none"/>
</g>
<g>
<rect x="389.4" y="207" width="250.6" height="199.6" fill="#f9f9f9"/>
<rect x="395.6" y="209.6" width="221" height="168.4" fill="#fff" stroke="#bcbcbc" stroke-width="0.6"/>
<line x1="395.6" y1="225.4" x2="616.6" y2="225.4" stroke="#c4c4c4" stroke-width="0.6"/>
<defs><pattern id="hd" width="2.2" height="2.2" patternUnits="userSpaceOnUse" patternTransform="rotate(-45)"><line x1="-1" y1="1.1" x2="3.2" y2="1.1" stroke="#b84c0c" stroke-width="0.6"/></pattern></defs>
<rect x="463" y="377.11" width="6.15" height="0.89" fill="#ffa868" stroke="#303030" stroke-width="0.3"/>
<rect x="469.15" y="373.37" width="6.15" height="4.63" fill="#ffa868" stroke="#303030" stroke-width="0.3"/>
<rect x="475.3" y="372.3" width="6.15" height="5.7" fill="#ffa868" stroke="#303030" stroke-width="0.3"/>
<rect x="481.45" y="369.81" width="6.15" height="8.19" fill="#ffa868" stroke="#303030" stroke-width="0.3"/>
<rect x="487.6" y="332.43" width="6.15" height="45.57" fill="#ffa868" stroke="#303030" stroke-width="0.3"/>
<rect x="493.75" y="240.41" width="6.15" height="137.59" fill="#ffa868" stroke="#303030" stroke-width="0.3"/>
<rect x="499.9" y="262.66" width="6.15" height="115.34" fill="#ffa868" stroke="#303030" stroke-width="0.3"/>
<rect x="506.05" y="325.67" width="6.15" height="52.33" fill="#ffa868" stroke="#303030" stroke-width="0.3"/>
<rect x="512.2" y="355.93" width="6.15" height="22.07" fill="#ffa868" stroke="#303030" stroke-width="0.3"/>
<rect x="518.35" y="367.5" width="6.15" height="10.5" fill="#ffa868" stroke="#303030" stroke-width="0.3"/>
<rect x="518.35" y="374.2" width="6.15" height="3.8" fill="#e8742a"/>
<rect x="518.35" y="374.2" width="6.15" height="3.8" fill="url(#hd)" stroke="#2e2e2e" stroke-width="0.25"/>
<rect x="524.5" y="374.08" width="6.15" height="3.92" fill="#e8742a"/>
<rect x="524.5" y="374.08" width="6.15" height="3.92" fill="url(#hd)" stroke="#303030" stroke-width="0.3"/>
<rect x="530.65" y="374.26" width="6.15" height="3.74" fill="#e8742a"/>
<rect x="530.65" y="374.26" width="6.15" height="3.74" fill="url(#hd)" stroke="#303030" stroke-width="0.3"/>
<rect x="536.8" y="374.8" width="6.15" height="3.2" fill="#e8742a"/>
<rect x="536.8" y="374.8" width="6.15" height="3.2" fill="url(#hd)" stroke="#303030" stroke-width="0.3"/>
<rect x="542.95" y="376.58" width="6.15" height="1.42" fill="#e0661a" stroke="#303030" stroke-width="0.3"/>
<rect x="549.1" y="376.75" width="6.15" height="1.25" fill="#e0661a" stroke="#303030" stroke-width="0.3"/>
<rect x="555.25" y="376.93" width="6.15" height="1.07" fill="#e0661a" stroke="#303030" stroke-width="0.3"/>
<rect x="561.4" y="377.11" width="6.15" height="0.89" fill="#e0661a" stroke="#303030" stroke-width="0.3"/>
<rect x="567.55" y="377.82" width="6.15" height="0.18" fill="#e0661a" stroke="#303030" stroke-width="0.3"/>
<rect x="573.7" y="377.64" width="6.15" height="0.36" fill="#e0661a" stroke="#303030" stroke-width="0.3"/>
<rect x="579.85" y="377.64" width="6.15" height="0.36" fill="#e0661a" stroke="#303030" stroke-width="0.3"/>
<rect x="586" y="376.93" width="6.15" height="1.07" fill="#e0661a" stroke="#303030" stroke-width="0.3"/>
<rect x="592.15" y="376.75" width="6.15" height="1.25" fill="#e0661a" stroke="#303030" stroke-width="0.3"/>
<rect x="598.3" y="375.33" width="6.15" height="2.67" fill="#e0661a" stroke="#303030" stroke-width="0.3"/>
<rect x="604.45" y="377.64" width="6.15" height="0.36" fill="#e0661a" stroke="#303030" stroke-width="0.3"/>
<text x="466.07" y="376.21" class="b" font-size="3.2" text-anchor="middle" fill="#111">5</text>
<text x="472.23" y="372.47" class="b" font-size="3.2" text-anchor="middle" fill="#111">26</text>
<text x="478.38" y="371.4" class="b" font-size="3.2" text-anchor="middle" fill="#111">32</text>
<text x="484.52" y="368.91" class="b" font-size="3.2" text-anchor="middle" fill="#111">46</text>
<text x="490.68" y="331.53" class="b" font-size="3.2" text-anchor="middle" fill="#111">256</text>
<text x="496.82" y="239.51" class="b" font-size="3.2" text-anchor="middle" fill="#111">773</text>
<text x="502.98" y="261.76" class="b" font-size="3.2" text-anchor="middle" fill="#111">648</text>
<text x="509.12" y="324.77" class="b" font-size="3.2" text-anchor="middle" fill="#111">294</text>
<text x="515.27" y="355.03" class="b" font-size="3.2" text-anchor="middle" fill="#111">124</text>
<text x="521.42" y="366.6" class="b" font-size="3.2" text-anchor="middle" fill="#111">59</text>
<text x="527.58" y="373.18" class="b" font-size="3.2" text-anchor="middle" fill="#111">22</text>
<text x="533.73" y="373.36" class="b" font-size="3.2" text-anchor="middle" fill="#111">21</text>
<text x="539.88" y="373.9" class="b" font-size="3.2" text-anchor="middle" fill="#111">18</text>
<text x="546.02" y="375.68" class="b" font-size="3.2" text-anchor="middle" fill="#111">8</text>
<text x="552.17" y="375.85" class="b" font-size="3.2" text-anchor="middle" fill="#111">7</text>
<text x="558.33" y="376.03" class="b" font-size="3.2" text-anchor="middle" fill="#111">6</text>
<text x="564.48" y="376.21" class="b" font-size="3.2" text-anchor="middle" fill="#111">5</text>
<text x="570.62" y="376.92" class="b" font-size="3.2" text-anchor="middle" fill="#111">1</text>
<text x="576.77" y="376.74" class="b" font-size="3.2" text-anchor="middle" fill="#111">2</text>
<text x="582.92" y="376.74" class="b" font-size="3.2" text-anchor="middle" fill="#111">2</text>
<text x="589.08" y="376.03" class="b" font-size="3.2" text-anchor="middle" fill="#111">6</text>
<text x="595.23" y="375.85" class="b" font-size="3.2" text-anchor="middle" fill="#111">7</text>
<text x="601.38" y="374.43" class="b" font-size="3.2" text-anchor="middle" fill="#111">15</text>
<text x="607.52" y="376.74" class="b" font-size="3.2" text-anchor="middle" fill="#111">2</text>
<path d="M429 377.8 C434.58 377.69 452.62 377.45 460 377.2 C467.38 376.95 467.16 376.9 470 376.4 C472.84 375.9 473.69 375.28 475.8 374.4 C477.91 373.52 480.03 372.89 481.7 371.5 C483.37 370.11 484.06 369.13 485.1 366.7 C486.14 364.27 486.73 362.37 487.5 358 C488.27 353.63 488.7 348.7 489.4 342.4 C490.1 336.1 490.7 331.39 491.4 323 C492.1 314.61 492.62 306.29 493.3 295.8 C493.98 285.31 494.5 274.83 495.2 264.7 C495.9 254.57 496.43 245.85 497.2 239.5 C497.97 233.15 498.64 229.4 499.5 229.4 C500.36 229.4 501.19 233.85 502 239.5 C502.81 245.15 503.3 250.67 504 260.8 C504.7 270.93 505.2 284.6 505.9 295.8 C506.6 307 507.2 314.61 507.9 323 C508.6 331.39 509.12 336.82 509.8 342.4 C510.48 347.98 510.82 350.17 511.7 354 C512.58 357.83 513.48 361.07 514.7 363.7 C515.92 366.33 516.93 367.27 518.5 368.6 C520.07 369.93 521.64 370.4 523.4 371.1 C525.16 371.8 526.44 371.99 528.3 372.5 C530.16 373.01 531.64 373.48 533.73 373.93 C535.81 374.37 537.66 374.62 539.88 374.97 C542.09 375.32 543.81 375.61 546.02 375.88 C548.24 376.15 549.96 376.32 552.17 376.47 C554.39 376.63 556.11 376.65 558.33 376.76 C560.54 376.86 562.26 376.95 564.48 377.05 C566.69 377.16 568.41 377.28 570.62 377.35 C572.84 377.41 574.56 377.45 576.77 377.43 C578.99 377.41 580.71 377.34 582.92 377.23 C585.14 377.12 586.86 376.98 589.08 376.82 C591.29 376.66 593.01 376.43 595.23 376.33 C597.44 376.23 599.16 376.17 601.38 376.28 C603.59 376.39 605.68 376.67 607.52 376.93 C609.37 377.18 609.97 377.54 611.6 377.7 C613.23 377.86 615.7 377.78 616.6 377.8" fill="none" stroke="#1a1a1a" stroke-width="0.65"/>
<line x1="395.6" y1="378" x2="616.6" y2="378" stroke="#a6a6a6" stroke-width="0.6"/>
<line x1="616.6" y1="378" x2="618.2" y2="378" stroke="#777" stroke-width="0.45"/>
<text x="619" y="379.7" class="t" font-size="4.0" text-anchor="start" fill="#111">0</text>
<line x1="616.6" y1="360.2" x2="617.5" y2="360.2" stroke="#aaa" stroke-width="0.4"/>
<line x1="616.6" y1="342.4" x2="618.2" y2="342.4" stroke="#777" stroke-width="0.45"/>
<text x="619" y="344.1" class="t" font-size="4.0" text-anchor="start" fill="#111">200</text>
<line x1="616.6" y1="324.6" x2="617.5" y2="324.6" stroke="#aaa" stroke-width="0.4"/>
<line x1="616.6" y1="306.8" x2="618.2" y2="306.8" stroke="#777" stroke-width="0.45"/>
<text x="619" y="308.5" class="t" font-size="4.0" text-anchor="start" fill="#111">400</text>
<line x1="616.6" y1="289" x2="617.5" y2="289" stroke="#aaa" stroke-width="0.4"/>
<line x1="616.6" y1="271.2" x2="618.2" y2="271.2" stroke="#777" stroke-width="0.45"/>
<text x="619" y="272.9" class="t" font-size="4.0" text-anchor="start" fill="#111">600</text>
<line x1="616.6" y1="253.4" x2="617.5" y2="253.4" stroke="#aaa" stroke-width="0.4"/>
<line x1="616.6" y1="235.6" x2="618.2" y2="235.6" stroke="#777" stroke-width="0.45"/>
<text x="619" y="237.3" class="t" font-size="4.0" text-anchor="start" fill="#111">800</text>
<text transform="translate(632.2 302.4) rotate(-90)" class="t" font-size="3.7" text-anchor="middle" fill="#111">Count</text>
<line x1="395.6" y1="378" x2="395.6" y2="379.5" stroke="#888" stroke-width="0.45"/>
<text x="395.6" y="385" class="t" font-size="4.0" text-anchor="middle" fill="#111">120</text>
<line x1="414.02" y1="378" x2="414.02" y2="379.5" stroke="#888" stroke-width="0.45"/>
<text x="414.02" y="385" class="t" font-size="4.0" text-anchor="middle" fill="#111">100</text>
<line x1="432.43" y1="378" x2="432.43" y2="379.5" stroke="#888" stroke-width="0.45"/>
<text x="432.43" y="385" class="t" font-size="4.0" text-anchor="middle" fill="#111">80</text>
<line x1="450.85" y1="378" x2="450.85" y2="379.5" stroke="#888" stroke-width="0.45"/>
<text x="450.85" y="385" class="t" font-size="4.0" text-anchor="middle" fill="#111">60</text>
<line x1="469.27" y1="378" x2="469.27" y2="379.5" stroke="#888" stroke-width="0.45"/>
<text x="469.27" y="385" class="t" font-size="4.0" text-anchor="middle" fill="#111">40</text>
<line x1="487.68" y1="378" x2="487.68" y2="379.5" stroke="#888" stroke-width="0.45"/>
<text x="487.68" y="385" class="t" font-size="4.0" text-anchor="middle" fill="#111">20</text>
<line x1="506.1" y1="378" x2="506.1" y2="379.5" stroke="#888" stroke-width="0.45"/>
<text x="506.1" y="385" class="t" font-size="4.0" text-anchor="middle" fill="#111">0</text>
<line x1="524.52" y1="378" x2="524.52" y2="379.5" stroke="#888" stroke-width="0.45"/>
<text x="524.52" y="385" class="t" font-size="4.0" text-anchor="middle" fill="#111">-20</text>
<line x1="542.93" y1="378" x2="542.93" y2="379.5" stroke="#888" stroke-width="0.45"/>
<text x="542.93" y="385" class="t" font-size="4.0" text-anchor="middle" fill="#111">-40</text>
<line x1="561.35" y1="378" x2="561.35" y2="379.5" stroke="#888" stroke-width="0.45"/>
<text x="561.35" y="385" class="t" font-size="4.0" text-anchor="middle" fill="#111">-60</text>
<line x1="579.77" y1="378" x2="579.77" y2="379.5" stroke="#888" stroke-width="0.45"/>
<text x="579.77" y="385" class="t" font-size="4.0" text-anchor="middle" fill="#111">-80</text>
<line x1="598.18" y1="378" x2="598.18" y2="379.5" stroke="#888" stroke-width="0.45"/>
<text x="598.18" y="385" class="t" font-size="4.0" text-anchor="middle" fill="#111">-100</text>
<line x1="616.6" y1="378" x2="616.6" y2="379.5" stroke="#888" stroke-width="0.45"/>
<text x="616.6" y="385" class="t" font-size="4.0" text-anchor="middle" fill="#111">-120</text>
<line x1="404.81" y1="378" x2="404.81" y2="378.9" stroke="#aaa" stroke-width="0.4"/>
<line x1="423.23" y1="378" x2="423.23" y2="378.9" stroke="#aaa" stroke-width="0.4"/>
<line x1="441.64" y1="378" x2="441.64" y2="378.9" stroke="#aaa" stroke-width="0.4"/>
<line x1="460.06" y1="378" x2="460.06" y2="378.9" stroke="#aaa" stroke-width="0.4"/>
<line x1="478.48" y1="378" x2="478.48" y2="378.9" stroke="#aaa" stroke-width="0.4"/>
<line x1="496.89" y1="378" x2="496.89" y2="378.9" stroke="#aaa" stroke-width="0.4"/>
<line x1="515.31" y1="378" x2="515.31" y2="378.9" stroke="#aaa" stroke-width="0.4"/>
<line x1="533.73" y1="378" x2="533.73" y2="378.9" stroke="#aaa" stroke-width="0.4"/>
<line x1="552.14" y1="378" x2="552.14" y2="378.9" stroke="#aaa" stroke-width="0.4"/>
<line x1="570.56" y1="378" x2="570.56" y2="378.9" stroke="#aaa" stroke-width="0.4"/>
<line x1="588.98" y1="378" x2="588.98" y2="378.9" stroke="#aaa" stroke-width="0.4"/>
<line x1="607.39" y1="378" x2="607.39" y2="378.9" stroke="#aaa" stroke-width="0.4"/>
<line x1="395.6" y1="392" x2="616.6" y2="392" stroke="#c2c2c2" stroke-width="0.5"/>
<line x1="614.92" y1="392" x2="614.92" y2="392.8" stroke="#aaa" stroke-width="0.35"/>
<line x1="610.6" y1="392" x2="610.6" y2="393.5" stroke="#888" stroke-width="0.45"/>
<text x="610.6" y="398.8" class="t" font-size="4.0" text-anchor="middle" fill="#111">-5</text>
<line x1="606.28" y1="392" x2="606.28" y2="392.8" stroke="#aaa" stroke-width="0.35"/>
<line x1="601.96" y1="392" x2="601.96" y2="392.8" stroke="#aaa" stroke-width="0.35"/>
<line x1="597.64" y1="392" x2="597.64" y2="392.8" stroke="#aaa" stroke-width="0.35"/>
<line x1="593.32" y1="392" x2="593.32" y2="392.8" stroke="#aaa" stroke-width="0.35"/>
<line x1="589" y1="392" x2="589" y2="393.5" stroke="#888" stroke-width="0.45"/>
<text x="589" y="398.8" class="t" font-size="4.0" text-anchor="middle" fill="#111">-4</text>
<line x1="584.68" y1="392" x2="584.68" y2="392.8" stroke="#aaa" stroke-width="0.35"/>
<line x1="580.36" y1="392" x2="580.36" y2="392.8" stroke="#aaa" stroke-width="0.35"/>
<line x1="576.04" y1="392" x2="576.04" y2="392.8" stroke="#aaa" stroke-width="0.35"/>
<line x1="571.72" y1="392" x2="571.72" y2="392.8" stroke="#aaa" stroke-width="0.35"/>
<line x1="567.4" y1="392" x2="567.4" y2="393.5" stroke="#888" stroke-width="0.45"/>
<text x="567.4" y="398.8" class="t" font-size="4.0" text-anchor="middle" fill="#111">-3</text>
<line x1="563.08" y1="392" x2="563.08" y2="392.8" stroke="#aaa" stroke-width="0.35"/>
<line x1="558.76" y1="392" x2="558.76" y2="392.8" stroke="#aaa" stroke-width="0.35"/>
<line x1="554.44" y1="392" x2="554.44" y2="392.8" stroke="#aaa" stroke-width="0.35"/>
<line x1="550.12" y1="392" x2="550.12" y2="392.8" stroke="#aaa" stroke-width="0.35"/>
<line x1="545.8" y1="392" x2="545.8" y2="393.5" stroke="#888" stroke-width="0.45"/>
<text x="545.8" y="398.8" class="t" font-size="4.0" text-anchor="middle" fill="#111">-2</text>
<line x1="541.48" y1="392" x2="541.48" y2="392.8" stroke="#aaa" stroke-width="0.35"/>
<line x1="537.16" y1="392" x2="537.16" y2="392.8" stroke="#aaa" stroke-width="0.35"/>
<line x1="532.84" y1="392" x2="532.84" y2="392.8" stroke="#aaa" stroke-width="0.35"/>
<line x1="528.52" y1="392" x2="528.52" y2="392.8" stroke="#aaa" stroke-width="0.35"/>
<line x1="524.2" y1="392" x2="524.2" y2="393.5" stroke="#888" stroke-width="0.45"/>
<text x="524.2" y="398.8" class="t" font-size="4.0" text-anchor="middle" fill="#111">-1</text>
<line x1="519.88" y1="392" x2="519.88" y2="392.8" stroke="#aaa" stroke-width="0.35"/>
<line x1="515.56" y1="392" x2="515.56" y2="392.8" stroke="#aaa" stroke-width="0.35"/>
<line x1="511.24" y1="392" x2="511.24" y2="392.8" stroke="#aaa" stroke-width="0.35"/>
<line x1="506.92" y1="392" x2="506.92" y2="392.8" stroke="#aaa" stroke-width="0.35"/>
<line x1="502.6" y1="392" x2="502.6" y2="393.5" stroke="#888" stroke-width="0.45"/>
<text x="502.6" y="398.8" class="t" font-size="4.0" text-anchor="middle" fill="#111">0</text>
<line x1="498.28" y1="392" x2="498.28" y2="392.8" stroke="#aaa" stroke-width="0.35"/>
<line x1="493.96" y1="392" x2="493.96" y2="392.8" stroke="#aaa" stroke-width="0.35"/>
<line x1="489.64" y1="392" x2="489.64" y2="392.8" stroke="#aaa" stroke-width="0.35"/>
<line x1="485.32" y1="392" x2="485.32" y2="392.8" stroke="#aaa" stroke-width="0.35"/>
<line x1="481" y1="392" x2="481" y2="393.5" stroke="#888" stroke-width="0.45"/>
<text x="481" y="398.8" class="t" font-size="4.0" text-anchor="middle" fill="#111">1</text>
<line x1="476.68" y1="392" x2="476.68" y2="392.8" stroke="#aaa" stroke-width="0.35"/>
<line x1="472.36" y1="392" x2="472.36" y2="392.8" stroke="#aaa" stroke-width="0.35"/>
<line x1="468.04" y1="392" x2="468.04" y2="392.8" stroke="#aaa" stroke-width="0.35"/>
<line x1="463.72" y1="392" x2="463.72" y2="392.8" stroke="#aaa" stroke-width="0.35"/>
<line x1="459.4" y1="392" x2="459.4" y2="393.5" stroke="#888" stroke-width="0.45"/>
<text x="459.4" y="398.8" class="t" font-size="4.0" text-anchor="middle" fill="#111">2</text>
<line x1="455.08" y1="392" x2="455.08" y2="392.8" stroke="#aaa" stroke-width="0.35"/>
<line x1="450.76" y1="392" x2="450.76" y2="392.8" stroke="#aaa" stroke-width="0.35"/>
<line x1="446.44" y1="392" x2="446.44" y2="392.8" stroke="#aaa" stroke-width="0.35"/>
<line x1="442.12" y1="392" x2="442.12" y2="392.8" stroke="#aaa" stroke-width="0.35"/>
<line x1="437.8" y1="392" x2="437.8" y2="393.5" stroke="#888" stroke-width="0.45"/>
<text x="437.8" y="398.8" class="t" font-size="4.0" text-anchor="middle" fill="#111">3</text>
<line x1="433.48" y1="392" x2="433.48" y2="392.8" stroke="#aaa" stroke-width="0.35"/>
<line x1="429.16" y1="392" x2="429.16" y2="392.8" stroke="#aaa" stroke-width="0.35"/>
<line x1="424.84" y1="392" x2="424.84" y2="392.8" stroke="#aaa" stroke-width="0.35"/>
<line x1="420.52" y1="392" x2="420.52" y2="392.8" stroke="#aaa" stroke-width="0.35"/>
<line x1="416.2" y1="392" x2="416.2" y2="393.5" stroke="#888" stroke-width="0.45"/>
<text x="416.2" y="398.8" class="t" font-size="4.0" text-anchor="middle" fill="#111">4</text>
<line x1="411.88" y1="392" x2="411.88" y2="392.8" stroke="#aaa" stroke-width="0.35"/>
<line x1="407.56" y1="392" x2="407.56" y2="392.8" stroke="#aaa" stroke-width="0.35"/>
<line x1="403.24" y1="392" x2="403.24" y2="392.8" stroke="#aaa" stroke-width="0.35"/>
<line x1="398.92" y1="392" x2="398.92" y2="392.8" stroke="#aaa" stroke-width="0.35"/>
<line x1="394.6" y1="392" x2="394.6" y2="393.5" stroke="#888" stroke-width="0.45"/>
<text x="394.6" y="398.8" class="t" font-size="4.0" text-anchor="middle" fill="#111">5</text>
<line x1="480.6" y1="217.6" x2="521" y2="217.6" stroke="#333" stroke-width="0.5"/>
<line x1="480.6" y1="214.6" x2="480.6" y2="220.6" stroke="#333" stroke-width="0.6"/>
<line x1="521" y1="215.1" x2="521" y2="220.1" stroke="#333" stroke-width="0.6"/>
<rect x="495.6" y="214.6" width="10.4" height="6" fill="#fff" stroke="#333" stroke-width="0.55"/>
<line x1="500" y1="214.6" x2="500" y2="220.6" stroke="#333" stroke-width="0.5"/>
<path d="M501.7 217.6 l1.1 -1.6 l1.1 1.6 l-1.1 1.6z" fill="none" stroke="#333" stroke-width="0.4"/>
<path d="M494.4 212.8 v-0.8 H504 v0.8" fill="none" stroke="#ea2840" stroke-width="0.7"/>
<path d="M468.8 218.9h0M478.1 218.8h0M467.6 217.4h0M467.0 218.9h0M477.7 218.0h0M472.1 217.1h0M477.5 217.5h0M474.6 216.5h0M468.8 216.3h0M475.9 217.8h0M467.7 218.7h0M469.4 217.3h0M467.8 216.9h0M477.7 217.1h0M468.0 217.6h0M470.2 218.8h0M467.2 219.0h0M466.4 218.8h0M475.2 216.7h0M472.5 217.0h0M469.3 216.7h0M470.8 219.1h0M480.0 218.9h0M467.0 217.0h0M478.5 216.3h0M476.1 217.0h0M479.7 216.1h0M477.2 217.1h0M467.6 216.1h0M477.6 217.7h0M468.3 217.4h0M478.7 216.8h0M473.8 216.5h0M468.2 218.4h0M475.8 216.7h0M466.7 216.4h0M474.4 217.6h0M469.5 216.7h0M474.4 218.2h0M477.3 217.8h0M468.5 216.3h0M476.2 217.3h0M476.0 216.3h0M477.3 217.1h0M477.7 218.7h0M472.7 216.1h0M478.7 217.5h0M478.2 216.9h0M468.3 218.6h0M470.9 216.6h0" stroke="#6a6a6a" stroke-width="0.84" stroke-linecap="round" fill="none"/>
<path d="M530.6 217.9h0M520.8 217.7h0M532.6 217.6h0M523.9 218.2h0M542.4 218.7h0M529.2 218.2h0M530.8 218.4h0M522.3 218.7h0M546.1 217.6h0M534.4 217.7h0M535.0 216.2h0M546.4 216.8h0M525.6 216.4h0M527.4 218.6h0M521.5 216.4h0M539.3 216.7h0M521.2 217.9h0M536.0 217.7h0M539.4 216.4h0M543.8 218.3h0M521.9 216.5h0M533.8 217.6h0M528.1 216.5h0M531.5 216.5h0M536.4 218.7h0M524.6 217.8h0M540.6 216.6h0M542.7 218.9h0M531.0 217.4h0M543.0 217.7h0M531.2 218.9h0M541.4 217.1h0M527.1 217.1h0M532.3 219.0h0M542.1 218.8h0M542.4 218.6h0M522.1 217.7h0M546.2 218.9h0M527.3 217.4h0M537.5 217.2h0M534.8 216.3h0M532.2 217.6h0M521.3 216.5h0M546.5 218.4h0M545.6 218.0h0M542.2 218.8h0M544.2 216.2h0M537.8 216.9h0M538.7 216.9h0M535.1 218.9h0M537.2 216.9h0M534.5 217.4h0M546.0 217.0h0M528.8 218.0h0M523.9 217.9h0M546.1 217.6h0M527.8 217.5h0M534.9 216.5h0M524.0 216.5h0M528.5 217.3h0M528.4 216.8h0M523.0 217.7h0M543.0 217.9h0M535.9 218.1h0M526.1 218.2h0M533.0 217.7h0M537.0 217.5h0M529.0 216.8h0M526.6 217.6h0M530.9 217.9h0M521.0 217.2h0M543.6 216.8h0M535.5 217.6h0M528.3 219.1h0M528.6 218.4h0M524.9 216.3h0M543.9 217.4h0M522.3 217.3h0M532.4 218.3h0M523.6 216.8h0M546.2 218.3h0M524.8 217.1h0M530.1 218.1h0M537.1 218.6h0M542.5 217.7h0M540.4 218.3h0M540.9 217.5h0M541.6 218.2h0M545.0 216.5h0M543.9 216.1h0M541.1 217.9h0M533.9 219.0h0M535.9 217.4h0M541.5 218.7h0M536.9 217.2h0M532.7 217.5h0M539.9 217.0h0M531.1 217.8h0M530.9 217.1h0M541.6 218.6h0M534.0 217.4h0M525.6 217.0h0M524.6 217.8h0M536.2 216.4h0M545.2 217.1h0M543.1 218.6h0M546.2 216.7h0M532.0 218.8h0M521.0 216.2h0M535.7 217.6h0M545.2 218.4h0M535.0 219.1h0M534.5 217.7h0M538.9 217.3h0M530.2 217.9h0M530.0 218.9h0M538.7 217.7h0M523.3 217.2h0M531.4 217.8h0M536.0 218.7h0M546.4 217.6h0M532.4 218.0h0M547.2 217.1h0M534.8 218.5h0M525.2 217.1h0M546.7 218.6h0M534.3 216.4h0M544.5 218.2h0M542.5 219.1h0M544.3 217.4h0M524.9 217.0h0M534.3 217.6h0M525.7 216.6h0M537.5 217.9h0M530.1 219.1h0M537.6 216.2h0M531.6 218.5h0M528.9 218.2h0M520.8 217.0h0M543.1 217.9h0M538.5 216.7h0M533.9 217.8h0M527.8 218.0h0M534.8 219.1h0M536.0 217.3h0M523.9 216.6h0M540.9 216.4h0M523.4 216.6h0M534.6 218.6h0M537.0 218.5h0M522.4 216.1h0M541.2 217.1h0M539.7 217.2h0M525.2 216.9h0M523.3 218.8h0M536.2 217.1h0M532.7 217.3h0M522.2 218.8h0M536.2 219.0h0M532.4 218.0h0M527.3 216.2h0M545.5 218.7h0M529.1 218.8h0M542.4 217.0h0M536.7 219.0h0M533.9 218.9h0M527.2 217.3h0M539.8 216.8h0M528.9 218.7h0M533.6 218.5h0M527.2 216.6h0M530.2 216.7h0M546.5 217.0h0M535.6 216.4h0M534.9 217.3h0M531.4 216.3h0M524.0 218.6h0M530.0 216.8h0M525.8 217.0h0M527.0 216.2h0M538.4 217.1h0M524.8 218.2h0M523.2 216.9h0M542.9 216.5h0M532.5 218.6h0M542.1 216.6h0M530.1 218.3h0M530.7 219.0h0M526.2 219.0h0M534.1 216.8h0M532.7 216.5h0M539.5 216.9h0M544.6 217.9h0M530.5 216.8h0M536.9 216.7h0M543.9 216.5h0M534.3 217.7h0M527.9 218.4h0M530.9 218.1h0M535.8 217.0h0" stroke="#000" stroke-width="1.24" stroke-linecap="round" fill="none"/>
<path d="M554.7 216.4h0M550.5 218.7h0M553.3 218.1h0M549.1 217.8h0M554.1 217.6h0M552.9 216.3h0M553.1 216.8h0M549.5 218.3h0M552.6 217.3h0M564.9 218.4h0M564.4 218.7h0M549.6 216.9h0M547.6 218.1h0M560.1 217.2h0M555.1 218.1h0M560.8 216.8h0M563.7 217.2h0M559.4 216.6h0M549.3 218.8h0M561.5 218.2h0M547.8 216.2h0M550.2 216.7h0M553.0 217.2h0M547.8 217.0h0M559.6 216.6h0M563.5 217.8h0M561.1 216.9h0M555.6 218.2h0M553.9 216.1h0M563.4 218.4h0M552.6 216.2h0M563.8 217.9h0M547.9 216.8h0M549.2 218.5h0M551.1 218.8h0M561.8 216.4h0M560.7 217.3h0M561.7 218.6h0M552.5 216.4h0M565.6 217.4h0M565.3 218.2h0M561.6 218.6h0M559.4 217.5h0M548.1 218.2h0M555.4 217.6h0M565.3 216.5h0M562.0 216.2h0M560.8 218.5h0M552.1 217.7h0M566.1 218.0h0M557.7 216.8h0M548.2 217.2h0M555.1 216.7h0M553.1 216.5h0M560.9 218.1h0M551.7 216.8h0M557.2 217.4h0M565.4 217.2h0M552.9 218.8h0M549.8 217.8h0M553.6 218.5h0M557.8 218.4h0M550.3 218.1h0M558.8 217.5h0M562.1 218.6h0M549.3 217.0h0M554.1 216.7h0M548.2 216.9h0M550.9 218.2h0M555.8 216.4h0M553.4 217.5h0M554.2 216.6h0M548.4 216.1h0M566.5 218.4h0M548.7 218.3h0M566.3 217.8h0M549.1 217.6h0M555.6 216.7h0M557.7 216.1h0M565.1 218.0h0" stroke="#000" stroke-width="1.24" stroke-linecap="round" fill="none"/>
<path d="M578.2 218.9h0M578.5 216.9h0M573.2 216.5h0M570.4 218.4h0M580.9 217.0h0M572.4 218.0h0M581.0 218.9h0M572.2 218.5h0M580.8 218.3h0" stroke="#000" stroke-width="1.24" stroke-linecap="round" fill="none"/>
<path d="M592.9 216.7h0M603.3 217.1h0M593.7 217.8h0M593.8 218.6h0M591.0 216.2h0M597.9 218.0h0M603.2 218.2h0M605.0 218.9h0M596.4 217.6h0M589.3 217.0h0M598.2 216.3h0M600.4 216.6h0M595.3 219.0h0M587.9 216.2h0M595.2 216.7h0M601.2 216.1h0M603.7 218.7h0M602.5 217.4h0M591.9 218.1h0M596.8 217.4h0M593.1 217.4h0M600.0 218.6h0M605.0 216.6h0M592.2 217.4h0M597.8 217.1h0M590.1 216.4h0M592.8 217.5h0M606.4 218.8h0M604.2 219.0h0M606.2 218.0h0M603.0 216.3h0M600.2 217.9h0M592.2 217.8h0M606.0 217.5h0M599.6 217.0h0M593.2 218.8h0M586.6 216.7h0M600.3 217.4h0M587.8 218.1h0M593.8 217.8h0M594.7 217.7h0M597.9 217.3h0M588.4 216.6h0M604.7 217.7h0M588.4 218.7h0M591.3 216.4h0M597.1 216.9h0M596.3 217.8h0M590.8 217.8h0M588.4 217.6h0M598.4 216.3h0M594.6 216.3h0M595.2 218.7h0M597.6 218.2h0M601.9 216.4h0" stroke="#000" stroke-width="1.24" stroke-linecap="round" fill="none"/>
</g>
<g>
<rect x="44.4" y="415.4" width="249.6" height="199.2" fill="#f9f9f9"/>
<rect x="69.6" y="417.6" width="217.8" height="168.9" fill="#fff" stroke="#bcbcbc" stroke-width="0.6"/>
<line x1="69.6" y1="433" x2="287.4" y2="433" stroke="#c4c4c4" stroke-width="0.6"/>
<defs><pattern id="he" width="2.2" height="2.2" patternUnits="userSpaceOnUse" patternTransform="rotate(-45)"><line x1="-1" y1="1.1" x2="3.2" y2="1.1" stroke="#0d4aa0" stroke-width="0.6"/></pattern></defs>
<rect x="75.3" y="586.38" width="6.12" height="0.12" fill="#7db8fb" stroke="#303030" stroke-width="0.3"/>
<rect x="81.42" y="586.38" width="6.12" height="0.12" fill="#7db8fb" stroke="#303030" stroke-width="0.3"/>
<rect x="87.54" y="586.01" width="6.12" height="0.49" fill="#7db8fb" stroke="#303030" stroke-width="0.3"/>
<rect x="93.66" y="585.89" width="6.12" height="0.61" fill="#7db8fb" stroke="#303030" stroke-width="0.3"/>
<rect x="99.78" y="584.92" width="6.12" height="1.58" fill="#7db8fb" stroke="#303030" stroke-width="0.3"/>
<rect x="105.9" y="584.43" width="6.12" height="2.07" fill="#7db8fb" stroke="#303030" stroke-width="0.3"/>
<rect x="112.02" y="582.36" width="6.12" height="4.14" fill="#7db8fb" stroke="#303030" stroke-width="0.3"/>
<rect x="118.14" y="577.61" width="6.12" height="8.89" fill="#7db8fb" stroke="#303030" stroke-width="0.3"/>
<rect x="124.26" y="568.47" width="6.12" height="18.03" fill="#7db8fb" stroke="#303030" stroke-width="0.3"/>
<rect x="130.38" y="559.1" width="6.12" height="27.41" fill="#7db8fb" stroke="#303030" stroke-width="0.3"/>
<rect x="136.5" y="545.94" width="6.12" height="40.56" fill="#7db8fb" stroke="#303030" stroke-width="0.3"/>
<rect x="142.62" y="540.22" width="6.12" height="46.28" fill="#7db8fb" stroke="#303030" stroke-width="0.3"/>
<rect x="148.74" y="544.11" width="6.12" height="42.39" fill="#7db8fb" stroke="#303030" stroke-width="0.3"/>
<rect x="154.86" y="553.98" width="6.12" height="32.52" fill="#7db8fb" stroke="#303030" stroke-width="0.3"/>
<rect x="160.98" y="565.18" width="6.12" height="21.32" fill="#7db8fb" stroke="#303030" stroke-width="0.3"/>
<rect x="167.1" y="574.56" width="6.12" height="11.94" fill="#7db8fb" stroke="#303030" stroke-width="0.3"/>
<rect x="173.22" y="578.58" width="6.12" height="7.92" fill="#7db8fb" stroke="#303030" stroke-width="0.3"/>
<rect x="179.34" y="581.75" width="6.12" height="4.75" fill="#7db8fb" stroke="#303030" stroke-width="0.3"/>
<rect x="185.46" y="582.72" width="6.12" height="3.78" fill="#7db8fb" stroke="#303030" stroke-width="0.3"/>
<rect x="191.58" y="583.58" width="6.12" height="2.92" fill="#1662c8" stroke="#303030" stroke-width="0.3"/>
<rect x="197.7" y="584.19" width="6.12" height="2.31" fill="#1662c8" stroke="#303030" stroke-width="0.3"/>
<rect x="203.82" y="585.53" width="6.12" height="0.97" fill="#1662c8" stroke="#303030" stroke-width="0.3"/>
<rect x="209.94" y="585.4" width="6.12" height="1.1" fill="#1662c8" stroke="#303030" stroke-width="0.3"/>
<rect x="216.06" y="586.01" width="6.12" height="0.49" fill="#1662c8" stroke="#303030" stroke-width="0.3"/>
<rect x="222.18" y="584.92" width="6.12" height="1.58" fill="#1662c8" stroke="#303030" stroke-width="0.3"/>
<rect x="228.3" y="585.89" width="6.12" height="0.61" fill="#1662c8" stroke="#303030" stroke-width="0.3"/>
<rect x="234.42" y="586.26" width="6.12" height="0.24" fill="#1662c8" stroke="#303030" stroke-width="0.3"/>
<rect x="240.54" y="586.01" width="6.12" height="0.49" fill="#1662c8" stroke="#303030" stroke-width="0.3"/>
<rect x="246.66" y="586.01" width="6.12" height="0.49" fill="#1662c8" stroke="#303030" stroke-width="0.3"/>
<rect x="252.78" y="586.26" width="6.12" height="0.24" fill="#1662c8" stroke="#303030" stroke-width="0.3"/>
<rect x="258.9" y="586.38" width="6.12" height="0.12" fill="#1662c8" stroke="#303030" stroke-width="0.3"/>
<rect x="265.02" y="586.01" width="6.12" height="0.49" fill="#1662c8" stroke="#303030" stroke-width="0.3"/>
<rect x="271.14" y="585.16" width="6.12" height="1.34" fill="#1662c8" stroke="#303030" stroke-width="0.3"/>
<rect x="277.26" y="585.53" width="6.12" height="0.97" fill="#1662c8" stroke="#303030" stroke-width="0.3"/>
<text x="78.36" y="585.48" class="b" font-size="3.2" text-anchor="middle" fill="#111">1</text>
<text x="84.48" y="585.48" class="b" font-size="3.2" text-anchor="middle" fill="#111">1</text>
<text x="90.6" y="585.11" class="b" font-size="3.2" text-anchor="middle" fill="#111">4</text>
<text x="96.72" y="584.99" class="b" font-size="3.2" text-anchor="middle" fill="#111">5</text>
<text x="102.84" y="584.02" class="b" font-size="3.2" text-anchor="middle" fill="#111">13</text>
<text x="108.96" y="583.53" class="b" font-size="3.2" text-anchor="middle" fill="#111">17</text>
<text x="115.08" y="581.46" class="b" font-size="3.2" text-anchor="middle" fill="#111">34</text>
<text x="121.2" y="576.71" class="b" font-size="3.2" text-anchor="middle" fill="#111">73</text>
<text x="127.32" y="567.57" class="b" font-size="3.2" text-anchor="middle" fill="#111">148</text>
<text x="133.44" y="558.2" class="b" font-size="3.2" text-anchor="middle" fill="#111">225</text>
<text x="139.56" y="545.04" class="b" font-size="3.2" text-anchor="middle" fill="#111">333</text>
<text x="145.68" y="539.32" class="b" font-size="3.2" text-anchor="middle" fill="#111">380</text>
<text x="151.8" y="543.21" class="b" font-size="3.2" text-anchor="middle" fill="#111">348</text>
<text x="157.92" y="553.08" class="b" font-size="3.2" text-anchor="middle" fill="#111">267</text>
<text x="164.04" y="564.28" class="b" font-size="3.2" text-anchor="middle" fill="#111">175</text>
<text x="170.16" y="573.66" class="b" font-size="3.2" text-anchor="middle" fill="#111">98</text>
<text x="176.28" y="577.68" class="b" font-size="3.2" text-anchor="middle" fill="#111">65</text>
<text x="182.4" y="580.85" class="b" font-size="3.2" text-anchor="middle" fill="#111">39</text>
<text x="188.52" y="581.82" class="b" font-size="3.2" text-anchor="middle" fill="#111">31</text>
<text x="194.64" y="582.68" class="b" font-size="3.2" text-anchor="middle" fill="#111">24</text>
<text x="200.76" y="583.29" class="b" font-size="3.2" text-anchor="middle" fill="#111">19</text>
<text x="206.88" y="584.63" class="b" font-size="3.2" text-anchor="middle" fill="#111">8</text>
<text x="213" y="584.5" class="b" font-size="3.2" text-anchor="middle" fill="#111">9</text>
<text x="219.12" y="585.11" class="b" font-size="3.2" text-anchor="middle" fill="#111">4</text>
<text x="225.24" y="584.02" class="b" font-size="3.2" text-anchor="middle" fill="#111">13</text>
<text x="231.36" y="584.99" class="b" font-size="3.2" text-anchor="middle" fill="#111">5</text>
<text x="237.48" y="585.36" class="b" font-size="3.2" text-anchor="middle" fill="#111">2</text>
<text x="243.6" y="585.11" class="b" font-size="3.2" text-anchor="middle" fill="#111">4</text>
<text x="249.72" y="585.11" class="b" font-size="3.2" text-anchor="middle" fill="#111">4</text>
<text x="255.84" y="585.36" class="b" font-size="3.2" text-anchor="middle" fill="#111">2</text>
<text x="261.96" y="585.48" class="b" font-size="3.2" text-anchor="middle" fill="#111">1</text>
<text x="268.08" y="585.11" class="b" font-size="3.2" text-anchor="middle" fill="#111">4</text>
<text x="274.2" y="584.26" class="b" font-size="3.2" text-anchor="middle" fill="#111">11</text>
<text x="280.32" y="584.63" class="b" font-size="3.2" text-anchor="middle" fill="#111">8</text>
<path d="M69.6 586.3 C71.18 586.28 75.68 586.24 78.36 586.19 C81.04 586.15 82.28 586.12 84.48 586.06 C86.68 585.99 88.4 585.93 90.6 585.81 C92.8 585.69 94.52 585.59 96.72 585.39 C98.92 585.18 100.64 585.04 102.84 584.69 C105.04 584.34 106.76 584.16 108.96 583.43 C111.16 582.7 112.88 582.14 115.08 580.65 C117.28 579.17 119 577.68 121.2 575.2 C123.4 572.72 125.12 570.22 127.32 566.85 C129.52 563.49 131.24 560.13 133.44 556.51 C135.64 552.9 137.36 549.37 139.56 546.75 C141.76 544.13 143.48 542.33 145.68 541.94 C147.88 541.55 149.6 542.6 151.8 544.56 C154 546.53 155.72 549.54 157.92 552.86 C160.12 556.19 161.84 559.65 164.04 563.04 C166.24 566.42 167.96 569.09 170.16 571.66 C172.36 574.22 174.08 575.69 176.28 577.28 C178.48 578.86 180.2 579.58 182.4 580.46 C184.6 581.33 186.32 581.67 188.52 582.16 C190.72 582.65 192.44 582.83 194.64 583.17 C196.84 583.51 198.56 583.75 200.76 584.05 C202.96 584.34 204.68 584.6 206.88 584.82 C209.08 585.03 210.8 585.16 213 585.25 C215.2 585.34 216.92 585.3 219.12 585.31 C221.32 585.31 223.04 585.24 225.24 585.28 C227.44 585.31 229.16 585.42 231.36 585.51 C233.56 585.61 235.28 585.74 237.48 585.8 C239.68 585.86 241.4 585.84 243.6 585.86 C245.8 585.87 247.52 585.86 249.72 585.88 C251.92 585.91 253.64 585.97 255.84 585.99 C258.04 586 259.76 586.02 261.96 585.96 C264.16 585.9 265.88 585.76 268.08 585.65 C270.28 585.54 272 585.37 274.2 585.35 C276.4 585.32 278.49 585.36 280.32 585.51 C282.15 585.67 283.11 586.06 284.38 586.2 C285.65 586.34 286.86 586.28 287.4 586.3" fill="none" stroke="#1a1a1a" stroke-width="0.65"/>
<line x1="69.6" y1="586.5" x2="287.4" y2="586.5" stroke="#a6a6a6" stroke-width="0.6"/>
<line x1="69.6" y1="586.5" x2="68" y2="586.5" stroke="#777" stroke-width="0.45"/>
<text x="67.2" y="588.2" class="t" font-size="4.0" text-anchor="end" fill="#111">0</text>
<line x1="69.6" y1="574.32" x2="68.7" y2="574.32" stroke="#aaa" stroke-width="0.4"/>
<line x1="69.6" y1="562.14" x2="68" y2="562.14" stroke="#777" stroke-width="0.45"/>
<text x="67.2" y="563.84" class="t" font-size="4.0" text-anchor="end" fill="#111">200</text>
<line x1="69.6" y1="549.96" x2="68.7" y2="549.96" stroke="#aaa" stroke-width="0.4"/>
<line x1="69.6" y1="537.78" x2="68" y2="537.78" stroke="#777" stroke-width="0.45"/>
<text x="67.2" y="539.48" class="t" font-size="4.0" text-anchor="end" fill="#111">400</text>
<line x1="69.6" y1="525.6" x2="68.7" y2="525.6" stroke="#aaa" stroke-width="0.4"/>
<line x1="69.6" y1="513.42" x2="68" y2="513.42" stroke="#777" stroke-width="0.45"/>
<text x="67.2" y="515.12" class="t" font-size="4.0" text-anchor="end" fill="#111">600</text>
<line x1="69.6" y1="501.24" x2="68.7" y2="501.24" stroke="#aaa" stroke-width="0.4"/>
<line x1="69.6" y1="489.06" x2="68" y2="489.06" stroke="#777" stroke-width="0.45"/>
<text x="67.2" y="490.76" class="t" font-size="4.0" text-anchor="end" fill="#111">800</text>
<line x1="69.6" y1="476.88" x2="68.7" y2="476.88" stroke="#aaa" stroke-width="0.4"/>
<line x1="69.6" y1="464.7" x2="68" y2="464.7" stroke="#777" stroke-width="0.45"/>
<text x="67.2" y="466.4" class="t" font-size="4.0" text-anchor="end" fill="#111">1000</text>
<line x1="69.6" y1="452.52" x2="68.7" y2="452.52" stroke="#aaa" stroke-width="0.4"/>
<line x1="69.6" y1="440.34" x2="68" y2="440.34" stroke="#777" stroke-width="0.45"/>
<text x="67.2" y="442.04" class="t" font-size="4.0" text-anchor="end" fill="#111">1200</text>
<text transform="translate(55.6 510.6) rotate(-90)" class="t" font-size="3.7" text-anchor="middle" fill="#111">Count</text>
<line x1="69.6" y1="586.5" x2="69.6" y2="588" stroke="#888" stroke-width="0.45"/>
<text x="69.6" y="592.8" class="t" font-size="4.0" text-anchor="middle" fill="#111">120</text>
<line x1="87.75" y1="586.5" x2="87.75" y2="588" stroke="#888" stroke-width="0.45"/>
<text x="87.75" y="592.8" class="t" font-size="4.0" text-anchor="middle" fill="#111">100</text>
<line x1="105.9" y1="586.5" x2="105.9" y2="588" stroke="#888" stroke-width="0.45"/>
<text x="105.9" y="592.8" class="t" font-size="4.0" text-anchor="middle" fill="#111">80</text>
<line x1="124.05" y1="586.5" x2="124.05" y2="588" stroke="#888" stroke-width="0.45"/>
<text x="124.05" y="592.8" class="t" font-size="4.0" text-anchor="middle" fill="#111">60</text>
<line x1="142.2" y1="586.5" x2="142.2" y2="588" stroke="#888" stroke-width="0.45"/>
<text x="142.2" y="592.8" class="t" font-size="4.0" text-anchor="middle" fill="#111">40</text>
<line x1="160.35" y1="586.5" x2="160.35" y2="588" stroke="#888" stroke-width="0.45"/>
<text x="160.35" y="592.8" class="t" font-size="4.0" text-anchor="middle" fill="#111">20</text>
<line x1="178.5" y1="586.5" x2="178.5" y2="588" stroke="#888" stroke-width="0.45"/>
<text x="178.5" y="592.8" class="t" font-size="4.0" text-anchor="middle" fill="#111">0</text>
<line x1="196.65" y1="586.5" x2="196.65" y2="588" stroke="#888" stroke-width="0.45"/>
<text x="196.65" y="592.8" class="t" font-size="4.0" text-anchor="middle" fill="#111">-20</text>
<line x1="214.8" y1="586.5" x2="214.8" y2="588" stroke="#888" stroke-width="0.45"/>
<text x="214.8" y="592.8" class="t" font-size="4.0" text-anchor="middle" fill="#111">-40</text>
<line x1="232.95" y1="586.5" x2="232.95" y2="588" stroke="#888" stroke-width="0.45"/>
<text x="232.95" y="592.8" class="t" font-size="4.0" text-anchor="middle" fill="#111">-60</text>
<line x1="251.1" y1="586.5" x2="251.1" y2="588" stroke="#888" stroke-width="0.45"/>
<text x="251.1" y="592.8" class="t" font-size="4.0" text-anchor="middle" fill="#111">-80</text>
<line x1="269.25" y1="586.5" x2="269.25" y2="588" stroke="#888" stroke-width="0.45"/>
<text x="269.25" y="592.8" class="t" font-size="4.0" text-anchor="middle" fill="#111">-100</text>
<line x1="287.4" y1="586.5" x2="287.4" y2="588" stroke="#888" stroke-width="0.45"/>
<text x="287.4" y="592.8" class="t" font-size="4.0" text-anchor="middle" fill="#111">-120</text>
<line x1="78.67" y1="586.5" x2="78.67" y2="587.4" stroke="#aaa" stroke-width="0.4"/>
<line x1="96.82" y1="586.5" x2="96.82" y2="587.4" stroke="#aaa" stroke-width="0.4"/>
<line x1="114.97" y1="586.5" x2="114.97" y2="587.4" stroke="#aaa" stroke-width="0.4"/>
<line x1="133.12" y1="586.5" x2="133.12" y2="587.4" stroke="#aaa" stroke-width="0.4"/>
<line x1="151.27" y1="586.5" x2="151.27" y2="587.4" stroke="#aaa" stroke-width="0.4"/>
<line x1="169.43" y1="586.5" x2="169.43" y2="587.4" stroke="#aaa" stroke-width="0.4"/>
<line x1="187.57" y1="586.5" x2="187.57" y2="587.4" stroke="#aaa" stroke-width="0.4"/>
<line x1="205.72" y1="586.5" x2="205.72" y2="587.4" stroke="#aaa" stroke-width="0.4"/>
<line x1="223.88" y1="586.5" x2="223.88" y2="587.4" stroke="#aaa" stroke-width="0.4"/>
<line x1="242.02" y1="586.5" x2="242.02" y2="587.4" stroke="#aaa" stroke-width="0.4"/>
<line x1="260.17" y1="586.5" x2="260.17" y2="587.4" stroke="#aaa" stroke-width="0.4"/>
<line x1="278.32" y1="586.5" x2="278.32" y2="587.4" stroke="#aaa" stroke-width="0.4"/>
<line x1="69.6" y1="600.6" x2="287.4" y2="600.6" stroke="#c2c2c2" stroke-width="0.5"/>
<line x1="287.6" y1="600.6" x2="287.6" y2="602.1" stroke="#888" stroke-width="0.45"/>
<text x="287.6" y="607" class="t" font-size="4.0" text-anchor="middle" fill="#111">-4</text>
<line x1="284.08" y1="600.6" x2="284.08" y2="601.4" stroke="#aaa" stroke-width="0.35"/>
<line x1="280.56" y1="600.6" x2="280.56" y2="601.4" stroke="#aaa" stroke-width="0.35"/>
<line x1="277.04" y1="600.6" x2="277.04" y2="601.4" stroke="#aaa" stroke-width="0.35"/>
<line x1="273.52" y1="600.6" x2="273.52" y2="601.4" stroke="#aaa" stroke-width="0.35"/>
<line x1="270" y1="600.6" x2="270" y2="602.1" stroke="#888" stroke-width="0.45"/>
<text x="270" y="607" class="t" font-size="4.0" text-anchor="middle" fill="#111">-3.5</text>
<line x1="266.48" y1="600.6" x2="266.48" y2="601.4" stroke="#aaa" stroke-width="0.35"/>
<line x1="262.96" y1="600.6" x2="262.96" y2="601.4" stroke="#aaa" stroke-width="0.35"/>
<line x1="259.44" y1="600.6" x2="259.44" y2="601.4" stroke="#aaa" stroke-width="0.35"/>
<line x1="255.92" y1="600.6" x2="255.92" y2="601.4" stroke="#aaa" stroke-width="0.35"/>
<line x1="252.4" y1="600.6" x2="252.4" y2="602.1" stroke="#888" stroke-width="0.45"/>
<text x="252.4" y="607" class="t" font-size="4.0" text-anchor="middle" fill="#111">-3</text>
<line x1="248.88" y1="600.6" x2="248.88" y2="601.4" stroke="#aaa" stroke-width="0.35"/>
<line x1="245.36" y1="600.6" x2="245.36" y2="601.4" stroke="#aaa" stroke-width="0.35"/>
<line x1="241.84" y1="600.6" x2="241.84" y2="601.4" stroke="#aaa" stroke-width="0.35"/>
<line x1="238.32" y1="600.6" x2="238.32" y2="601.4" stroke="#aaa" stroke-width="0.35"/>
<line x1="234.8" y1="600.6" x2="234.8" y2="602.1" stroke="#888" stroke-width="0.45"/>
<text x="234.8" y="607" class="t" font-size="4.0" text-anchor="middle" fill="#111">-2.5</text>
<line x1="231.28" y1="600.6" x2="231.28" y2="601.4" stroke="#aaa" stroke-width="0.35"/>
<line x1="227.76" y1="600.6" x2="227.76" y2="601.4" stroke="#aaa" stroke-width="0.35"/>
<line x1="224.24" y1="600.6" x2="224.24" y2="601.4" stroke="#aaa" stroke-width="0.35"/>
<line x1="220.72" y1="600.6" x2="220.72" y2="601.4" stroke="#aaa" stroke-width="0.35"/>
<line x1="217.2" y1="600.6" x2="217.2" y2="602.1" stroke="#888" stroke-width="0.45"/>
<text x="217.2" y="607" class="t" font-size="4.0" text-anchor="middle" fill="#111">-2</text>
<line x1="213.68" y1="600.6" x2="213.68" y2="601.4" stroke="#aaa" stroke-width="0.35"/>
<line x1="210.16" y1="600.6" x2="210.16" y2="601.4" stroke="#aaa" stroke-width="0.35"/>
<line x1="206.64" y1="600.6" x2="206.64" y2="601.4" stroke="#aaa" stroke-width="0.35"/>
<line x1="203.12" y1="600.6" x2="203.12" y2="601.4" stroke="#aaa" stroke-width="0.35"/>
<line x1="199.6" y1="600.6" x2="199.6" y2="602.1" stroke="#888" stroke-width="0.45"/>
<text x="199.6" y="607" class="t" font-size="4.0" text-anchor="middle" fill="#111">-1.5</text>
<line x1="196.08" y1="600.6" x2="196.08" y2="601.4" stroke="#aaa" stroke-width="0.35"/>
<line x1="192.56" y1="600.6" x2="192.56" y2="601.4" stroke="#aaa" stroke-width="0.35"/>
<line x1="189.04" y1="600.6" x2="189.04" y2="601.4" stroke="#aaa" stroke-width="0.35"/>
<line x1="185.52" y1="600.6" x2="185.52" y2="601.4" stroke="#aaa" stroke-width="0.35"/>
<line x1="182" y1="600.6" x2="182" y2="602.1" stroke="#888" stroke-width="0.45"/>
<text x="182" y="607" class="t" font-size="4.0" text-anchor="middle" fill="#111">-1</text>
<line x1="178.48" y1="600.6" x2="178.48" y2="601.4" stroke="#aaa" stroke-width="0.35"/>
<line x1="174.96" y1="600.6" x2="174.96" y2="601.4" stroke="#aaa" stroke-width="0.35"/>
<line x1="171.44" y1="600.6" x2="171.44" y2="601.4" stroke="#aaa" stroke-width="0.35"/>
<line x1="167.92" y1="600.6" x2="167.92" y2="601.4" stroke="#aaa" stroke-width="0.35"/>
<line x1="164.4" y1="600.6" x2="164.4" y2="602.1" stroke="#888" stroke-width="0.45"/>
<text x="164.4" y="607" class="t" font-size="4.0" text-anchor="middle" fill="#111">-0.5</text>
<line x1="160.88" y1="600.6" x2="160.88" y2="601.4" stroke="#aaa" stroke-width="0.35"/>
<line x1="157.36" y1="600.6" x2="157.36" y2="601.4" stroke="#aaa" stroke-width="0.35"/>
<line x1="153.84" y1="600.6" x2="153.84" y2="601.4" stroke="#aaa" stroke-width="0.35"/>
<line x1="150.32" y1="600.6" x2="150.32" y2="601.4" stroke="#aaa" stroke-width="0.35"/>
<line x1="146.8" y1="600.6" x2="146.8" y2="602.1" stroke="#888" stroke-width="0.45"/>
<text x="146.8" y="607" class="t" font-size="4.0" text-anchor="middle" fill="#111">0</text>
<line x1="143.28" y1="600.6" x2="143.28" y2="601.4" stroke="#aaa" stroke-width="0.35"/>
<line x1="139.76" y1="600.6" x2="139.76" y2="601.4" stroke="#aaa" stroke-width="0.35"/>
<line x1="136.24" y1="600.6" x2="136.24" y2="601.4" stroke="#aaa" stroke-width="0.35"/>
<line x1="132.72" y1="600.6" x2="132.72" y2="601.4" stroke="#aaa" stroke-width="0.35"/>
<line x1="129.2" y1="600.6" x2="129.2" y2="602.1" stroke="#888" stroke-width="0.45"/>
<text x="129.2" y="607" class="t" font-size="4.0" text-anchor="middle" fill="#111">0.5</text>
<line x1="125.68" y1="600.6" x2="125.68" y2="601.4" stroke="#aaa" stroke-width="0.35"/>
<line x1="122.16" y1="600.6" x2="122.16" y2="601.4" stroke="#aaa" stroke-width="0.35"/>
<line x1="118.64" y1="600.6" x2="118.64" y2="601.4" stroke="#aaa" stroke-width="0.35"/>
<line x1="115.12" y1="600.6" x2="115.12" y2="601.4" stroke="#aaa" stroke-width="0.35"/>
<line x1="111.6" y1="600.6" x2="111.6" y2="602.1" stroke="#888" stroke-width="0.45"/>
<text x="111.6" y="607" class="t" font-size="4.0" text-anchor="middle" fill="#111">1</text>
<line x1="108.08" y1="600.6" x2="108.08" y2="601.4" stroke="#aaa" stroke-width="0.35"/>
<line x1="104.56" y1="600.6" x2="104.56" y2="601.4" stroke="#aaa" stroke-width="0.35"/>
<line x1="101.04" y1="600.6" x2="101.04" y2="601.4" stroke="#aaa" stroke-width="0.35"/>
<line x1="97.52" y1="600.6" x2="97.52" y2="601.4" stroke="#aaa" stroke-width="0.35"/>
<line x1="94" y1="600.6" x2="94" y2="602.1" stroke="#888" stroke-width="0.45"/>
<text x="94" y="607" class="t" font-size="4.0" text-anchor="middle" fill="#111">1.5</text>
<line x1="90.48" y1="600.6" x2="90.48" y2="601.4" stroke="#aaa" stroke-width="0.35"/>
<line x1="86.96" y1="600.6" x2="86.96" y2="601.4" stroke="#aaa" stroke-width="0.35"/>
<line x1="83.44" y1="600.6" x2="83.44" y2="601.4" stroke="#aaa" stroke-width="0.35"/>
<line x1="79.92" y1="600.6" x2="79.92" y2="601.4" stroke="#aaa" stroke-width="0.35"/>
<line x1="76.4" y1="600.6" x2="76.4" y2="602.1" stroke="#888" stroke-width="0.45"/>
<text x="76.4" y="607" class="t" font-size="4.0" text-anchor="middle" fill="#111">2</text>
<line x1="72.88" y1="600.6" x2="72.88" y2="601.4" stroke="#aaa" stroke-width="0.35"/>
<line x1="106" y1="425.4" x2="191" y2="425.4" stroke="#333" stroke-width="0.5"/>
<line x1="106" y1="422.4" x2="106" y2="428.4" stroke="#333" stroke-width="0.6"/>
<line x1="191" y1="422.9" x2="191" y2="427.9" stroke="#333" stroke-width="0.6"/>
<rect x="137.4" y="422.4" width="22" height="6" fill="#fff" stroke="#333" stroke-width="0.55"/>
<line x1="147.6" y1="422.4" x2="147.6" y2="428.4" stroke="#333" stroke-width="0.5"/>
<path d="M150.5 425.4 l1.1 -1.6 l1.1 1.6 l-1.1 1.6z" fill="none" stroke="#333" stroke-width="0.4"/>
<path d="M135 420.6 v-0.8 H156.6 v0.8" fill="none" stroke="#ea2840" stroke-width="0.7"/>
<path d="M81.0 426.1h0M80.1 426.4h0" stroke="#333" stroke-width="0.9" stroke-linecap="round" fill="none"/>
<path d="M90.6 424.4h0M96.1 425.6h0M94.3 424.3h0M94.3 424.1h0M89.1 425.0h0M86.9 425.7h0M88.9 424.8h0M93.7 425.2h0M95.4 425.8h0M95.3 425.6h0M95.7 426.5h0M88.4 426.1h0" stroke="#333" stroke-width="0.9" stroke-linecap="round" fill="none"/>
<path d="M102.8 426.2h0M104.2 426.4h0M101.9 425.0h0M104.4 426.7h0M104.4 424.0h0M103.9 424.2h0M103.7 426.3h0M101.9 426.7h0M104.2 424.7h0M102.2 425.2h0M104.8 425.6h0M101.9 424.0h0" stroke="#222" stroke-width="0.9" stroke-linecap="round" fill="none"/>
<path d="M192.8 426.3h0M194.4 425.6h0M196.6 426.0h0M198.5 424.3h0M209.0 425.5h0M205.0 426.3h0M210.5 423.9h0M197.7 424.4h0M201.1 426.5h0M207.4 424.0h0M194.3 426.4h0M204.8 425.1h0M200.5 424.4h0M208.3 425.1h0M208.9 425.7h0M192.1 424.9h0M195.1 426.6h0M202.9 424.0h0M194.1 425.0h0M200.4 425.6h0M198.7 425.0h0M190.6 425.6h0M197.5 424.0h0M200.2 426.9h0M191.5 424.3h0M204.7 424.7h0M196.3 425.4h0M196.0 425.6h0M201.6 426.8h0M211.4 424.0h0M202.3 426.2h0M208.9 426.2h0M203.9 425.8h0M198.2 424.7h0M207.3 426.5h0M210.3 425.9h0M196.9 426.2h0M206.1 425.4h0M203.9 425.0h0M202.1 425.1h0M191.8 424.9h0M197.3 426.9h0M200.7 425.0h0M195.6 424.6h0M197.9 424.3h0M190.7 426.5h0M200.1 425.2h0M202.5 424.8h0M194.1 424.1h0M196.9 424.8h0M205.8 425.6h0M210.3 424.9h0M209.9 425.7h0M192.2 424.4h0M202.7 426.9h0M198.0 426.2h0M199.5 426.5h0M191.9 425.4h0M209.5 424.7h0M195.9 424.0h0M194.0 424.7h0M205.4 424.6h0M198.9 424.5h0M203.2 426.5h0M204.2 424.5h0M206.0 426.8h0M203.2 424.1h0M207.6 426.5h0M197.7 424.3h0M194.5 425.5h0M209.0 425.8h0M210.0 424.5h0M197.4 426.1h0M204.2 425.1h0M204.8 424.9h0M191.7 425.1h0M191.5 425.8h0M197.6 425.4h0M203.1 424.7h0M200.3 423.9h0M210.0 425.6h0M211.3 424.1h0M203.5 426.1h0M197.4 424.2h0M193.8 424.3h0M206.7 424.2h0M207.7 425.2h0M201.9 425.7h0M202.2 425.9h0M203.2 424.9h0M206.1 424.7h0M205.5 426.2h0M206.9 424.8h0M206.8 426.8h0M200.1 424.7h0M201.5 426.7h0M193.3 423.9h0M200.5 425.9h0M206.8 425.0h0M211.4 424.6h0M206.5 424.2h0M191.1 424.3h0M191.8 425.4h0M202.2 424.4h0M210.3 425.0h0M193.7 424.4h0M206.1 426.7h0M193.9 424.0h0M206.9 424.6h0M211.2 425.4h0M203.9 424.9h0M207.4 425.3h0M197.3 426.6h0M192.8 426.1h0M191.9 425.8h0M199.0 426.5h0M191.8 425.6h0M199.1 426.7h0M210.4 425.8h0M195.2 424.7h0M196.0 425.2h0M195.4 424.5h0M206.5 425.8h0M196.8 426.9h0M195.1 425.6h0M193.8 426.5h0M208.8 424.7h0M206.4 426.4h0M196.5 424.9h0M200.7 426.6h0M193.9 425.9h0M203.1 425.3h0M202.7 426.5h0M194.9 426.6h0M198.1 426.2h0M208.7 424.4h0M208.7 426.9h0M196.8 424.0h0M192.9 426.8h0M190.7 426.6h0M193.7 426.1h0M192.6 424.4h0M204.9 424.2h0M197.7 426.7h0M205.6 426.5h0M211.2 424.0h0M195.5 426.3h0M205.0 424.0h0M201.2 424.6h0M199.6 424.2h0" stroke="#000" stroke-width="1.24" stroke-linecap="round" fill="none"/>
<path d="M212.2 426.9h0M220.8 426.5h0M215.1 425.4h0M215.6 425.2h0M216.8 426.0h0M215.9 426.1h0M226.2 424.2h0M221.9 425.4h0M238.4 424.9h0M217.9 426.8h0M237.4 426.1h0M219.6 424.4h0M219.3 424.1h0M212.9 425.4h0M223.5 425.6h0M222.2 423.9h0M231.7 425.9h0M227.5 425.5h0M231.8 426.8h0M237.1 426.1h0M223.3 424.9h0M223.8 426.8h0M222.9 425.1h0M223.6 424.3h0M240.8 423.9h0M229.3 426.7h0M219.0 425.7h0M222.6 424.6h0M217.4 424.2h0M236.2 426.3h0M238.1 424.0h0M231.9 424.9h0M230.5 425.5h0M220.8 426.8h0M211.6 426.1h0M236.5 425.4h0M228.9 426.9h0M218.4 425.8h0M233.3 425.0h0M232.4 425.1h0M227.0 425.7h0M231.4 424.9h0M230.0 425.5h0M218.1 425.7h0M219.3 426.6h0M225.4 426.1h0M226.8 425.3h0M218.1 424.3h0M238.7 425.5h0M226.9 425.5h0M235.3 424.6h0M216.6 426.4h0M225.0 425.8h0M235.8 426.6h0M236.9 424.0h0M222.7 426.4h0M235.5 424.3h0M216.1 424.7h0M214.6 425.0h0M235.1 425.5h0M224.8 424.2h0M223.2 426.9h0M231.9 425.2h0M225.6 426.3h0M233.8 424.3h0M231.5 425.0h0M226.8 424.6h0M222.4 424.9h0M222.7 424.0h0M217.5 425.6h0M213.3 424.4h0M232.6 424.7h0M221.1 424.6h0M236.0 424.2h0M230.2 426.5h0M217.5 425.2h0M234.7 425.8h0M222.5 424.0h0M224.5 425.0h0M232.4 424.8h0M223.5 425.8h0M235.3 425.0h0M222.9 425.6h0M238.6 424.5h0M240.0 426.0h0M222.5 425.9h0M221.2 424.1h0M233.7 425.0h0M227.0 425.4h0M237.9 426.2h0M212.3 425.7h0M225.1 425.3h0M236.1 425.1h0M225.4 426.6h0M224.4 425.4h0M226.5 426.4h0M231.2 426.1h0M223.3 424.0h0M231.5 425.6h0M234.1 426.2h0" stroke="#000" stroke-width="1.24" stroke-linecap="round" fill="none"/>
<path d="M245.9 424.6h0M245.2 426.4h0M245.6 424.2h0M256.1 425.6h0M244.9 425.9h0M255.4 425.3h0M244.9 426.0h0M250.7 425.7h0M260.0 426.4h0M258.0 424.3h0" stroke="#000" stroke-width="1.24" stroke-linecap="round" fill="none"/>
<path d="M269.4 425.5h0M263.5 426.9h0M268.3 424.7h0M269.0 424.7h0M278.8 425.6h0M272.5 425.2h0M264.3 424.8h0M278.9 426.3h0M278.7 424.7h0M267.0 424.1h0M273.0 425.0h0M271.7 425.4h0M273.8 425.0h0M277.7 424.5h0M279.9 425.6h0M264.3 424.8h0M272.9 425.1h0M273.5 424.9h0M268.3 426.3h0M268.6 426.0h0M277.8 425.7h0M271.5 426.7h0M271.4 426.5h0M264.4 425.2h0M274.8 424.0h0M278.8 424.1h0M274.1 424.4h0M279.9 425.6h0M277.7 425.4h0M275.5 425.9h0M268.7 424.5h0M278.4 424.3h0M279.8 424.5h0M265.2 424.2h0M277.4 426.8h0M270.8 425.9h0M268.0 426.6h0M275.7 424.4h0M264.4 426.0h0M264.1 426.4h0M268.7 424.6h0M273.8 424.9h0M273.4 424.4h0M279.7 424.9h0M278.5 424.4h0M277.7 426.8h0M270.4 424.0h0M270.2 425.8h0M267.4 425.5h0M265.1 425.3h0" stroke="#000" stroke-width="1.24" stroke-linecap="round" fill="none"/>
</g>
<g>
<rect x="390.6" y="415" width="253" height="198.7" fill="#f9f9f9"/>
<rect x="396.6" y="417.6" width="222" height="168.6" fill="#fff" stroke="#bcbcbc" stroke-width="0.6"/>
<line x1="396.6" y1="433.4" x2="618.6" y2="433.4" stroke="#c4c4c4" stroke-width="0.6"/>
<defs><pattern id="hf" width="2.2" height="2.2" patternUnits="userSpaceOnUse" patternTransform="rotate(-45)"><line x1="-1" y1="1.1" x2="3.2" y2="1.1" stroke="#0d4aa0" stroke-width="0.6"/></pattern></defs>
<rect x="489" y="585.04" width="6.17" height="1.17" fill="#7db8fb" stroke="#303030" stroke-width="0.3"/>
<rect x="495.17" y="575.02" width="6.17" height="11.18" fill="#7db8fb" stroke="#303030" stroke-width="0.3"/>
<rect x="501.34" y="504.53" width="6.17" height="81.67" fill="#7db8fb" stroke="#303030" stroke-width="0.3"/>
<rect x="507.51" y="448.03" width="6.17" height="138.17" fill="#7db8fb" stroke="#303030" stroke-width="0.3"/>
<rect x="513.68" y="555.09" width="6.17" height="31.11" fill="#7db8fb" stroke="#303030" stroke-width="0.3"/>
<rect x="519.85" y="581.42" width="6.17" height="4.78" fill="#1662c8" stroke="#303030" stroke-width="0.3"/>
<rect x="526.02" y="584.8" width="6.17" height="1.4" fill="#1662c8" stroke="#303030" stroke-width="0.3"/>
<rect x="532.19" y="585.27" width="6.17" height="0.93" fill="#1662c8" stroke="#303030" stroke-width="0.3"/>
<rect x="538.36" y="585.04" width="6.17" height="1.17" fill="#1662c8" stroke="#303030" stroke-width="0.3"/>
<rect x="544.53" y="585.38" width="6.17" height="0.82" fill="#1662c8" stroke="#303030" stroke-width="0.3"/>
<rect x="550.7" y="585.85" width="6.17" height="0.35" fill="#1662c8" stroke="#303030" stroke-width="0.3"/>
<rect x="556.87" y="585.5" width="6.17" height="0.7" fill="#1662c8" stroke="#303030" stroke-width="0.3"/>
<rect x="563.04" y="585.85" width="6.17" height="0.35" fill="#1662c8" stroke="#303030" stroke-width="0.3"/>
<rect x="569.21" y="586.08" width="6.17" height="0.12" fill="#1662c8" stroke="#303030" stroke-width="0.3"/>
<rect x="575.38" y="586.08" width="6.17" height="0.12" fill="#1662c8" stroke="#303030" stroke-width="0.3"/>
<rect x="581.55" y="586.08" width="6.17" height="0.12" fill="#1662c8" stroke="#303030" stroke-width="0.3"/>
<rect x="587.72" y="585.27" width="6.17" height="0.93" fill="#1662c8" stroke="#303030" stroke-width="0.3"/>
<rect x="593.89" y="584.69" width="6.17" height="1.51" fill="#1662c8" stroke="#303030" stroke-width="0.3"/>
<rect x="600.06" y="585.15" width="6.17" height="1.05" fill="#1662c8" stroke="#303030" stroke-width="0.3"/>
<text x="492.08" y="584.14" class="b" font-size="3.2" text-anchor="middle" fill="#111">10</text>
<text x="498.25" y="574.12" class="b" font-size="3.2" text-anchor="middle" fill="#111">96</text>
<text x="504.43" y="503.63" class="b" font-size="3.2" text-anchor="middle" fill="#111">701</text>
<text x="510.6" y="447.13" class="b" font-size="3.2" text-anchor="middle" fill="#111">1186</text>
<text x="516.76" y="554.19" class="b" font-size="3.2" text-anchor="middle" fill="#111">267</text>
<text x="522.93" y="580.52" class="b" font-size="3.2" text-anchor="middle" fill="#111">41</text>
<text x="529.11" y="583.9" class="b" font-size="3.2" text-anchor="middle" fill="#111">12</text>
<text x="535.27" y="584.37" class="b" font-size="3.2" text-anchor="middle" fill="#111">8</text>
<text x="541.45" y="584.14" class="b" font-size="3.2" text-anchor="middle" fill="#111">10</text>
<text x="547.62" y="584.48" class="b" font-size="3.2" text-anchor="middle" fill="#111">7</text>
<text x="553.78" y="584.95" class="b" font-size="3.2" text-anchor="middle" fill="#111">3</text>
<text x="559.96" y="584.6" class="b" font-size="3.2" text-anchor="middle" fill="#111">6</text>
<text x="566.12" y="584.95" class="b" font-size="3.2" text-anchor="middle" fill="#111">3</text>
<text x="572.29" y="585.18" class="b" font-size="3.2" text-anchor="middle" fill="#111">1</text>
<text x="578.47" y="585.18" class="b" font-size="3.2" text-anchor="middle" fill="#111">1</text>
<text x="584.63" y="585.18" class="b" font-size="3.2" text-anchor="middle" fill="#111">1</text>
<text x="590.8" y="584.37" class="b" font-size="3.2" text-anchor="middle" fill="#111">8</text>
<text x="596.98" y="583.79" class="b" font-size="3.2" text-anchor="middle" fill="#111">13</text>
<text x="603.14" y="584.25" class="b" font-size="3.2" text-anchor="middle" fill="#111">9</text>
<path d="M459 586 C460.98 586 464.47 586.04 470 586 C475.53 585.96 485.11 586.09 489.7 585.8 C494.29 585.51 493.93 585.88 495.5 584.4 C497.07 582.92 497.52 581.63 498.4 577.6 C499.28 573.57 499.81 569.34 500.4 562 C500.99 554.66 501.11 547.1 501.7 536.8 C502.29 526.5 503.07 515.29 503.7 504.8 C504.33 494.31 504.57 488.81 505.2 478.5 C505.83 468.19 506.5 455.35 507.2 447.5 C507.9 439.65 508.42 434.9 509.1 434.9 C509.78 434.9 510.3 439.65 511 447.5 C511.7 455.35 512.28 464.91 513 478.5 C513.72 492.09 514.3 509.41 515 523 C515.7 536.59 516.22 544.87 516.9 554 C517.58 563.13 518.1 568.59 518.8 573.7 C519.5 578.81 519.74 580.37 520.8 582.4 C521.86 584.43 522.09 584.58 524.7 585 C527.31 585.42 532.26 584.71 535.27 584.71 C538.29 584.71 539.22 584.92 541.45 585.01 C543.67 585.1 545.39 585.14 547.62 585.21 C549.84 585.28 551.56 585.35 553.78 585.41 C556.01 585.46 557.73 585.46 559.96 585.5 C562.18 585.54 563.9 585.58 566.12 585.63 C568.35 585.69 570.07 585.76 572.29 585.8 C574.52 585.83 576.24 585.86 578.47 585.83 C580.69 585.8 582.41 585.73 584.63 585.61 C586.86 585.49 588.58 585.29 590.8 585.16 C593.03 585.03 594.75 584.89 596.98 584.89 C599.2 584.89 601.3 584.97 603.14 585.16 C604.99 585.34 606.49 585.77 607.23 585.9" fill="none" stroke="#1a1a1a" stroke-width="0.65"/>
<line x1="396.6" y1="586.2" x2="618.6" y2="586.2" stroke="#a6a6a6" stroke-width="0.6"/>
<line x1="618.6" y1="586.2" x2="620.2" y2="586.2" stroke="#777" stroke-width="0.45"/>
<text x="621" y="587.9" class="t" font-size="4.0" text-anchor="start" fill="#111">0</text>
<line x1="618.6" y1="574.55" x2="619.5" y2="574.55" stroke="#aaa" stroke-width="0.4"/>
<line x1="618.6" y1="562.9" x2="620.2" y2="562.9" stroke="#777" stroke-width="0.45"/>
<text x="621" y="564.6" class="t" font-size="4.0" text-anchor="start" fill="#111">200</text>
<line x1="618.6" y1="551.25" x2="619.5" y2="551.25" stroke="#aaa" stroke-width="0.4"/>
<line x1="618.6" y1="539.6" x2="620.2" y2="539.6" stroke="#777" stroke-width="0.45"/>
<text x="621" y="541.3" class="t" font-size="4.0" text-anchor="start" fill="#111">400</text>
<line x1="618.6" y1="527.95" x2="619.5" y2="527.95" stroke="#aaa" stroke-width="0.4"/>
<line x1="618.6" y1="516.3" x2="620.2" y2="516.3" stroke="#777" stroke-width="0.45"/>
<text x="621" y="518" class="t" font-size="4.0" text-anchor="start" fill="#111">600</text>
<line x1="618.6" y1="504.65" x2="619.5" y2="504.65" stroke="#aaa" stroke-width="0.4"/>
<line x1="618.6" y1="493" x2="620.2" y2="493" stroke="#777" stroke-width="0.45"/>
<text x="621" y="494.7" class="t" font-size="4.0" text-anchor="start" fill="#111">800</text>
<line x1="618.6" y1="481.35" x2="619.5" y2="481.35" stroke="#aaa" stroke-width="0.4"/>
<line x1="618.6" y1="469.7" x2="620.2" y2="469.7" stroke="#777" stroke-width="0.45"/>
<text x="621" y="471.4" class="t" font-size="4.0" text-anchor="start" fill="#111">1000</text>
<line x1="618.6" y1="458.05" x2="619.5" y2="458.05" stroke="#aaa" stroke-width="0.4"/>
<line x1="618.6" y1="446.4" x2="620.2" y2="446.4" stroke="#777" stroke-width="0.45"/>
<text x="621" y="448.1" class="t" font-size="4.0" text-anchor="start" fill="#111">1200</text>
<text transform="translate(635.8 510.6) rotate(-90)" class="t" font-size="3.7" text-anchor="middle" fill="#111">Count</text>
<line x1="396.6" y1="586.2" x2="396.6" y2="587.7" stroke="#888" stroke-width="0.45"/>
<text x="396.6" y="592.8" class="t" font-size="4.0" text-anchor="middle" fill="#111">120</text>
<line x1="415.1" y1="586.2" x2="415.1" y2="587.7" stroke="#888" stroke-width="0.45"/>
<text x="415.1" y="592.8" class="t" font-size="4.0" text-anchor="middle" fill="#111">100</text>
<line x1="433.6" y1="586.2" x2="433.6" y2="587.7" stroke="#888" stroke-width="0.45"/>
<text x="433.6" y="592.8" class="t" font-size="4.0" text-anchor="middle" fill="#111">80</text>
<line x1="452.1" y1="586.2" x2="452.1" y2="587.7" stroke="#888" stroke-width="0.45"/>
<text x="452.1" y="592.8" class="t" font-size="4.0" text-anchor="middle" fill="#111">60</text>
<line x1="470.6" y1="586.2" x2="470.6" y2="587.7" stroke="#888" stroke-width="0.45"/>
<text x="470.6" y="592.8" class="t" font-size="4.0" text-anchor="middle" fill="#111">40</text>
<line x1="489.1" y1="586.2" x2="489.1" y2="587.7" stroke="#888" stroke-width="0.45"/>
<text x="489.1" y="592.8" class="t" font-size="4.0" text-anchor="middle" fill="#111">20</text>
<line x1="507.6" y1="586.2" x2="507.6" y2="587.7" stroke="#888" stroke-width="0.45"/>
<text x="507.6" y="592.8" class="t" font-size="4.0" text-anchor="middle" fill="#111">0</text>
<line x1="526.1" y1="586.2" x2="526.1" y2="587.7" stroke="#888" stroke-width="0.45"/>
<text x="526.1" y="592.8" class="t" font-size="4.0" text-anchor="middle" fill="#111">-20</text>
<line x1="544.6" y1="586.2" x2="544.6" y2="587.7" stroke="#888" stroke-width="0.45"/>
<text x="544.6" y="592.8" class="t" font-size="4.0" text-anchor="middle" fill="#111">-40</text>
<line x1="563.1" y1="586.2" x2="563.1" y2="587.7" stroke="#888" stroke-width="0.45"/>
<text x="563.1" y="592.8" class="t" font-size="4.0" text-anchor="middle" fill="#111">-60</text>
<line x1="581.6" y1="586.2" x2="581.6" y2="587.7" stroke="#888" stroke-width="0.45"/>
<text x="581.6" y="592.8" class="t" font-size="4.0" text-anchor="middle" fill="#111">-80</text>
<line x1="600.1" y1="586.2" x2="600.1" y2="587.7" stroke="#888" stroke-width="0.45"/>
<text x="600.1" y="592.8" class="t" font-size="4.0" text-anchor="middle" fill="#111">-100</text>
<line x1="618.6" y1="586.2" x2="618.6" y2="587.7" stroke="#888" stroke-width="0.45"/>
<text x="618.6" y="592.8" class="t" font-size="4.0" text-anchor="middle" fill="#111">-120</text>
<line x1="405.85" y1="586.2" x2="405.85" y2="587.1" stroke="#aaa" stroke-width="0.4"/>
<line x1="424.35" y1="586.2" x2="424.35" y2="587.1" stroke="#aaa" stroke-width="0.4"/>
<line x1="442.85" y1="586.2" x2="442.85" y2="587.1" stroke="#aaa" stroke-width="0.4"/>
<line x1="461.35" y1="586.2" x2="461.35" y2="587.1" stroke="#aaa" stroke-width="0.4"/>
<line x1="479.85" y1="586.2" x2="479.85" y2="587.1" stroke="#aaa" stroke-width="0.4"/>
<line x1="498.35" y1="586.2" x2="498.35" y2="587.1" stroke="#aaa" stroke-width="0.4"/>
<line x1="516.85" y1="586.2" x2="516.85" y2="587.1" stroke="#aaa" stroke-width="0.4"/>
<line x1="535.35" y1="586.2" x2="535.35" y2="587.1" stroke="#aaa" stroke-width="0.4"/>
<line x1="553.85" y1="586.2" x2="553.85" y2="587.1" stroke="#aaa" stroke-width="0.4"/>
<line x1="572.35" y1="586.2" x2="572.35" y2="587.1" stroke="#aaa" stroke-width="0.4"/>
<line x1="590.85" y1="586.2" x2="590.85" y2="587.1" stroke="#aaa" stroke-width="0.4"/>
<line x1="609.35" y1="586.2" x2="609.35" y2="587.1" stroke="#aaa" stroke-width="0.4"/>
<line x1="396.6" y1="600.4" x2="618.6" y2="600.4" stroke="#c2c2c2" stroke-width="0.5"/>
<line x1="614.12" y1="600.4" x2="614.12" y2="601.2" stroke="#aaa" stroke-width="0.35"/>
<line x1="609.64" y1="600.4" x2="609.64" y2="601.2" stroke="#aaa" stroke-width="0.35"/>
<line x1="605.16" y1="600.4" x2="605.16" y2="601.2" stroke="#aaa" stroke-width="0.35"/>
<line x1="600.68" y1="600.4" x2="600.68" y2="601.2" stroke="#aaa" stroke-width="0.35"/>
<line x1="596.2" y1="600.4" x2="596.2" y2="601.9" stroke="#888" stroke-width="0.45"/>
<text x="596.2" y="606.8" class="t" font-size="4.0" text-anchor="middle" fill="#111">-4</text>
<line x1="591.72" y1="600.4" x2="591.72" y2="601.2" stroke="#aaa" stroke-width="0.35"/>
<line x1="587.24" y1="600.4" x2="587.24" y2="601.2" stroke="#aaa" stroke-width="0.35"/>
<line x1="582.76" y1="600.4" x2="582.76" y2="601.2" stroke="#aaa" stroke-width="0.35"/>
<line x1="578.28" y1="600.4" x2="578.28" y2="601.2" stroke="#aaa" stroke-width="0.35"/>
<line x1="573.8" y1="600.4" x2="573.8" y2="601.9" stroke="#888" stroke-width="0.45"/>
<text x="573.8" y="606.8" class="t" font-size="4.0" text-anchor="middle" fill="#111">-3</text>
<line x1="569.32" y1="600.4" x2="569.32" y2="601.2" stroke="#aaa" stroke-width="0.35"/>
<line x1="564.84" y1="600.4" x2="564.84" y2="601.2" stroke="#aaa" stroke-width="0.35"/>
<line x1="560.36" y1="600.4" x2="560.36" y2="601.2" stroke="#aaa" stroke-width="0.35"/>
<line x1="555.88" y1="600.4" x2="555.88" y2="601.2" stroke="#aaa" stroke-width="0.35"/>
<line x1="551.4" y1="600.4" x2="551.4" y2="601.9" stroke="#888" stroke-width="0.45"/>
<text x="551.4" y="606.8" class="t" font-size="4.0" text-anchor="middle" fill="#111">-2</text>
<line x1="546.92" y1="600.4" x2="546.92" y2="601.2" stroke="#aaa" stroke-width="0.35"/>
<line x1="542.44" y1="600.4" x2="542.44" y2="601.2" stroke="#aaa" stroke-width="0.35"/>
<line x1="537.96" y1="600.4" x2="537.96" y2="601.2" stroke="#aaa" stroke-width="0.35"/>
<line x1="533.48" y1="600.4" x2="533.48" y2="601.2" stroke="#aaa" stroke-width="0.35"/>
<line x1="529" y1="600.4" x2="529" y2="601.9" stroke="#888" stroke-width="0.45"/>
<text x="529" y="606.8" class="t" font-size="4.0" text-anchor="middle" fill="#111">-1</text>
<line x1="524.52" y1="600.4" x2="524.52" y2="601.2" stroke="#aaa" stroke-width="0.35"/>
<line x1="520.04" y1="600.4" x2="520.04" y2="601.2" stroke="#aaa" stroke-width="0.35"/>
<line x1="515.56" y1="600.4" x2="515.56" y2="601.2" stroke="#aaa" stroke-width="0.35"/>
<line x1="511.08" y1="600.4" x2="511.08" y2="601.2" stroke="#aaa" stroke-width="0.35"/>
<line x1="506.6" y1="600.4" x2="506.6" y2="601.9" stroke="#888" stroke-width="0.45"/>
<text x="506.6" y="606.8" class="t" font-size="4.0" text-anchor="middle" fill="#111">0</text>
<line x1="502.12" y1="600.4" x2="502.12" y2="601.2" stroke="#aaa" stroke-width="0.35"/>
<line x1="497.64" y1="600.4" x2="497.64" y2="601.2" stroke="#aaa" stroke-width="0.35"/>
<line x1="493.16" y1="600.4" x2="493.16" y2="601.2" stroke="#aaa" stroke-width="0.35"/>
<line x1="488.68" y1="600.4" x2="488.68" y2="601.2" stroke="#aaa" stroke-width="0.35"/>
<line x1="484.2" y1="600.4" x2="484.2" y2="601.9" stroke="#888" stroke-width="0.45"/>
<text x="484.2" y="606.8" class="t" font-size="4.0" text-anchor="middle" fill="#111">1</text>
<line x1="479.72" y1="600.4" x2="479.72" y2="601.2" stroke="#aaa" stroke-width="0.35"/>
<line x1="475.24" y1="600.4" x2="475.24" y2="601.2" stroke="#aaa" stroke-width="0.35"/>
<line x1="470.76" y1="600.4" x2="470.76" y2="601.2" stroke="#aaa" stroke-width="0.35"/>
<line x1="466.28" y1="600.4" x2="466.28" y2="601.2" stroke="#aaa" stroke-width="0.35"/>
<line x1="461.8" y1="600.4" x2="461.8" y2="601.9" stroke="#888" stroke-width="0.45"/>
<text x="461.8" y="606.8" class="t" font-size="4.0" text-anchor="middle" fill="#111">2</text>
<line x1="457.32" y1="600.4" x2="457.32" y2="601.2" stroke="#aaa" stroke-width="0.35"/>
<line x1="452.84" y1="600.4" x2="452.84" y2="601.2" stroke="#aaa" stroke-width="0.35"/>
<line x1="448.36" y1="600.4" x2="448.36" y2="601.2" stroke="#aaa" stroke-width="0.35"/>
<line x1="443.88" y1="600.4" x2="443.88" y2="601.2" stroke="#aaa" stroke-width="0.35"/>
<line x1="439.4" y1="600.4" x2="439.4" y2="601.9" stroke="#888" stroke-width="0.45"/>
<text x="439.4" y="606.8" class="t" font-size="4.0" text-anchor="middle" fill="#111">3</text>
<line x1="434.92" y1="600.4" x2="434.92" y2="601.2" stroke="#aaa" stroke-width="0.35"/>
<line x1="430.44" y1="600.4" x2="430.44" y2="601.2" stroke="#aaa" stroke-width="0.35"/>
<line x1="425.96" y1="600.4" x2="425.96" y2="601.2" stroke="#aaa" stroke-width="0.35"/>
<line x1="421.48" y1="600.4" x2="421.48" y2="601.2" stroke="#aaa" stroke-width="0.35"/>
<line x1="417" y1="600.4" x2="417" y2="601.9" stroke="#888" stroke-width="0.45"/>
<text x="417" y="606.8" class="t" font-size="4.0" text-anchor="middle" fill="#111">4</text>
<line x1="412.52" y1="600.4" x2="412.52" y2="601.2" stroke="#aaa" stroke-width="0.35"/>
<line x1="408.04" y1="600.4" x2="408.04" y2="601.2" stroke="#aaa" stroke-width="0.35"/>
<line x1="403.56" y1="600.4" x2="403.56" y2="601.2" stroke="#aaa" stroke-width="0.35"/>
<line x1="399.08" y1="600.4" x2="399.08" y2="601.2" stroke="#aaa" stroke-width="0.35"/>
<line x1="498.4" y1="425.4" x2="520.6" y2="425.4" stroke="#333" stroke-width="0.5"/>
<line x1="498.4" y1="422.4" x2="498.4" y2="428.4" stroke="#333" stroke-width="0.6"/>
<line x1="520.6" y1="422.9" x2="520.6" y2="427.9" stroke="#333" stroke-width="0.6"/>
<rect x="506.4" y="422.4" width="6.2" height="6" fill="#fff" stroke="#333" stroke-width="0.55"/>
<line x1="509" y1="422.4" x2="509" y2="428.4" stroke="#333" stroke-width="0.5"/>
<path d="M509.7 425.4 l1.1 -1.6 l1.1 1.6 l-1.1 1.6z" fill="none" stroke="#333" stroke-width="0.4"/>
<path d="M505.6 420.6 v-0.8 H511.6 v0.8" fill="none" stroke="#ea2840" stroke-width="0.7"/>
<path d="M496.0 425.2h0M495.6 424.2h0M496.7 424.3h0M497.4 426.9h0M497.6 425.5h0M492.8 424.9h0M496.2 425.4h0M497.5 424.2h0M494.2 426.5h0M495.0 425.5h0M491.3 424.3h0M492.6 426.6h0M496.9 424.6h0M497.4 424.0h0M495.0 426.8h0M493.1 426.7h0M495.5 424.1h0M493.1 425.2h0M492.4 426.1h0M491.9 426.3h0M492.8 424.1h0M494.7 424.2h0M494.7 426.3h0M495.0 425.3h0M490.8 425.4h0M491.3 425.8h0" stroke="#666" stroke-width="0.84" stroke-linecap="round" fill="none"/>
<path d="M523.1 425.6h0M527.1 425.0h0M532.6 424.4h0M523.8 426.7h0M526.7 426.4h0M536.3 425.3h0M523.5 424.2h0M536.4 424.3h0M529.6 425.5h0M522.9 425.3h0M523.7 425.5h0M529.8 425.0h0M524.3 425.1h0M524.4 424.3h0M525.1 426.5h0M529.7 426.6h0M521.1 426.7h0M529.5 426.3h0M531.0 426.0h0M524.9 426.2h0M523.5 424.7h0M521.4 425.1h0M530.0 424.8h0M536.7 424.2h0M531.1 424.6h0M531.4 426.3h0M533.5 424.1h0M525.2 425.7h0M538.3 424.0h0M531.8 426.0h0M535.3 424.9h0M535.2 425.3h0M537.2 423.9h0M537.5 425.1h0M528.0 424.2h0M525.2 426.1h0M532.9 424.4h0M526.9 424.3h0M524.3 424.6h0M526.7 426.8h0M538.6 426.3h0M529.3 425.4h0M534.7 426.6h0M534.2 425.8h0M524.3 425.8h0M535.9 426.3h0M522.4 426.1h0M527.0 424.4h0M538.0 425.9h0M534.1 424.3h0M535.5 426.7h0M536.9 426.1h0M535.6 426.3h0M531.3 425.2h0M535.5 426.3h0M536.3 424.8h0M537.9 425.5h0M537.6 424.2h0M538.0 426.3h0M525.3 426.4h0M524.9 424.5h0M529.0 424.6h0M529.6 426.6h0M533.0 426.0h0M527.8 426.3h0M534.9 425.9h0M537.6 426.4h0M528.0 424.2h0M532.4 426.4h0M526.8 425.7h0M535.7 426.3h0M520.9 425.4h0M521.1 424.2h0M535.3 425.2h0M531.6 425.3h0M526.8 424.5h0M527.1 426.4h0M531.8 424.8h0M522.4 424.7h0M533.3 425.2h0M532.6 426.3h0M522.9 425.9h0M521.5 426.4h0M524.1 424.7h0M537.8 425.0h0M524.8 426.6h0M531.7 426.6h0M527.8 425.4h0M537.8 425.4h0M538.4 424.5h0M535.6 424.4h0M530.2 423.9h0M523.9 426.7h0M528.9 426.3h0M525.3 425.0h0M522.6 425.6h0M536.1 425.4h0M527.5 426.7h0M536.7 425.9h0M522.2 425.8h0M528.7 426.8h0M527.2 425.9h0M532.0 425.0h0M530.1 425.9h0M536.9 425.4h0M527.3 426.8h0M521.8 426.4h0M533.0 425.6h0M528.8 426.2h0M536.7 426.1h0M534.1 424.0h0M526.6 424.3h0M537.8 426.6h0M523.4 425.7h0M531.1 424.0h0M527.8 426.1h0M532.2 424.7h0M534.4 424.8h0M530.5 425.2h0M538.2 425.8h0M535.1 425.9h0M527.6 426.8h0M533.4 426.0h0M525.7 424.4h0M531.0 426.4h0M534.9 424.9h0M523.3 425.4h0M536.4 424.4h0M533.9 424.4h0M526.4 424.1h0" stroke="#000" stroke-width="1.24" stroke-linecap="round" fill="none"/>
<path d="M544.4 425.0h0M557.4 426.8h0M542.2 424.8h0M556.9 424.5h0M544.8 425.2h0M540.7 424.7h0M546.2 425.1h0M557.3 424.7h0M542.6 426.6h0M547.3 426.4h0M551.0 426.2h0M544.7 424.4h0M553.3 425.3h0M549.4 425.9h0M553.2 424.7h0M545.6 426.7h0M548.9 424.8h0M550.8 424.7h0M553.6 424.0h0M554.6 425.6h0M545.5 426.7h0M543.8 424.6h0M540.0 425.5h0M553.2 425.9h0M546.6 426.3h0M540.8 424.8h0M551.1 426.8h0M550.9 426.0h0M553.6 425.1h0M556.8 426.1h0M545.2 425.1h0M554.2 424.9h0M542.2 426.5h0M548.9 425.5h0M551.6 426.6h0M541.2 424.9h0M539.9 425.1h0M548.3 426.5h0M551.6 425.6h0M546.4 425.6h0M543.9 426.4h0M553.9 426.4h0M541.5 425.9h0M553.2 425.4h0M556.0 426.6h0M553.0 426.4h0M551.2 426.5h0M541.1 426.0h0M552.3 425.7h0M543.9 424.1h0M550.3 426.4h0M543.9 424.5h0M542.9 424.2h0M551.7 426.8h0M554.2 425.0h0M552.2 424.1h0M554.9 424.9h0M538.7 425.8h0M541.3 424.7h0M539.7 425.2h0M549.4 426.3h0M539.4 426.4h0M540.7 424.6h0M550.8 424.9h0M545.0 425.6h0M542.8 426.3h0M542.7 426.4h0M554.3 425.5h0M539.2 426.2h0M539.2 425.4h0M546.8 424.1h0M550.8 426.1h0M549.9 425.1h0M548.5 425.7h0M543.0 426.5h0M557.9 426.3h0M557.3 424.9h0M557.7 424.1h0M547.9 424.3h0M547.4 425.9h0" stroke="#000" stroke-width="1.24" stroke-linecap="round" fill="none"/>
<path d="M564.5 425.3h0" stroke="#000" stroke-width="1.24" stroke-linecap="round" fill="none"/>
<path d="M567.8 424.5h0" stroke="#000" stroke-width="1.24" stroke-linecap="round" fill="none"/>
<path d="M573.6 424.7h0" stroke="#000" stroke-width="1.24" stroke-linecap="round" fill="none"/>
<path d="M577.4 426.1h0" stroke="#000" stroke-width="1.24" stroke-linecap="round" fill="none"/>
<path d="M581.4 425.2h0" stroke="#000" stroke-width="1.24" stroke-linecap="round" fill="none"/>
<path d="M592.4 426.0h0M592.4 424.7h0M597.1 426.0h0M602.4 426.1h0M602.1 426.7h0M599.2 426.1h0M590.6 424.5h0M590.0 426.5h0M599.2 425.8h0M593.2 425.0h0M591.9 425.8h0M602.7 424.8h0M590.4 424.4h0M594.4 426.6h0M600.3 425.3h0M591.1 424.2h0M591.8 426.2h0M595.9 426.9h0M601.7 426.3h0M596.0 426.4h0M591.5 424.2h0M597.1 425.4h0M592.5 424.7h0M590.1 426.6h0M599.0 426.7h0M602.5 425.2h0M599.3 425.1h0M600.4 426.4h0M591.5 423.9h0M592.6 425.7h0M594.7 423.9h0M600.6 426.3h0M595.8 424.0h0M601.4 425.5h0M590.7 424.9h0M597.9 426.6h0M596.1 425.8h0M592.5 424.6h0M601.6 425.0h0M591.2 425.7h0M591.4 424.5h0M595.7 425.7h0M598.1 426.0h0M595.5 424.1h0M599.2 424.1h0" stroke="#000" stroke-width="1.24" stroke-linecap="round" fill="none"/>
</g>
<g>
<rect x="44.4" y="626" width="249.6" height="199" fill="#f9f9f9"/>
<rect x="69.6" y="628.4" width="217.8" height="169.2" fill="#fff" stroke="#bcbcbc" stroke-width="0.6"/>
<line x1="69.6" y1="643.4" x2="287.4" y2="643.4" stroke="#c4c4c4" stroke-width="0.6"/>
<defs><pattern id="hg" width="2.2" height="2.2" patternUnits="userSpaceOnUse" patternTransform="rotate(-45)"><line x1="-1" y1="1.1" x2="3.2" y2="1.1" stroke="#6b4f05" stroke-width="0.6"/></pattern></defs>
<rect x="94" y="797.45" width="6.07" height="0.15" fill="#ffc000" stroke="#303030" stroke-width="0.3"/>
<rect x="100.07" y="797.45" width="6.07" height="0.15" fill="#ffc000" stroke="#303030" stroke-width="0.3"/>
<rect x="106.14" y="796.87" width="6.07" height="0.73" fill="#ffc000" stroke="#303030" stroke-width="0.3"/>
<rect x="112.21" y="795.69" width="6.07" height="1.91" fill="#ffc000" stroke="#303030" stroke-width="0.3"/>
<rect x="118.28" y="794.52" width="6.07" height="3.08" fill="#ffc000" stroke="#303030" stroke-width="0.3"/>
<rect x="124.35" y="793.49" width="6.07" height="4.11" fill="#ffc000" stroke="#303030" stroke-width="0.3"/>
<rect x="130.42" y="792.02" width="6.07" height="5.58" fill="#ffc000" stroke="#303030" stroke-width="0.3"/>
<rect x="136.49" y="789.24" width="6.07" height="8.36" fill="#ffc000" stroke="#303030" stroke-width="0.3"/>
<rect x="142.56" y="790.41" width="6.07" height="7.19" fill="#ffc000" stroke="#303030" stroke-width="0.3"/>
<rect x="148.63" y="787.03" width="6.07" height="10.57" fill="#ffc000" stroke="#303030" stroke-width="0.3"/>
<rect x="154.7" y="782.48" width="6.07" height="15.12" fill="#ffc000" stroke="#303030" stroke-width="0.3"/>
<rect x="160.77" y="782.04" width="6.07" height="15.56" fill="#ffc000" stroke="#303030" stroke-width="0.3"/>
<rect x="166.84" y="772.8" width="6.07" height="24.8" fill="#ffc000" stroke="#303030" stroke-width="0.3"/>
<rect x="172.91" y="766.64" width="6.07" height="30.96" fill="#ffc000" stroke="#303030" stroke-width="0.3"/>
<rect x="178.98" y="768.25" width="6.07" height="29.35" fill="#ffc000" stroke="#303030" stroke-width="0.3"/>
<rect x="185.05" y="762.82" width="6.07" height="34.78" fill="#ffc000" stroke="#303030" stroke-width="0.3"/>
<rect x="191.12" y="769.57" width="6.07" height="28.03" fill="#ffc000" stroke="#303030" stroke-width="0.3"/>
<rect x="197.19" y="779.11" width="6.07" height="18.49" fill="#ffc000" stroke="#303030" stroke-width="0.3"/>
<rect x="203.26" y="781.31" width="6.07" height="16.29" fill="#ffc000" stroke="#303030" stroke-width="0.3"/>
<rect x="209.33" y="783.07" width="6.07" height="14.53" fill="#ffc000" stroke="#303030" stroke-width="0.3"/>
<rect x="215.4" y="786.15" width="6.07" height="11.45" fill="#ffc000" stroke="#303030" stroke-width="0.3"/>
<rect x="221.47" y="788.21" width="6.07" height="9.39" fill="#ffc000" stroke="#303030" stroke-width="0.3"/>
<rect x="227.54" y="792.02" width="6.07" height="5.58" fill="#ffc000" stroke="#303030" stroke-width="0.3"/>
<rect x="233.61" y="791" width="6.07" height="6.6" fill="#ffc000" stroke="#303030" stroke-width="0.3"/>
<rect x="239.68" y="790.26" width="6.07" height="7.34" fill="#ffc000" stroke="#303030" stroke-width="0.3"/>
<rect x="245.75" y="791.88" width="6.07" height="5.72" fill="#ffc000" stroke="#303030" stroke-width="0.3"/>
<rect x="251.82" y="793.34" width="6.07" height="4.26" fill="#ffc000" stroke="#303030" stroke-width="0.3"/>
<rect x="257.89" y="795.25" width="6.07" height="2.35" fill="#a67c12" stroke="#303030" stroke-width="0.3"/>
<rect x="263.96" y="795.25" width="6.07" height="2.35" fill="#a67c12" stroke="#303030" stroke-width="0.3"/>
<rect x="270.03" y="795.25" width="6.07" height="2.35" fill="#a67c12" stroke="#303030" stroke-width="0.3"/>
<rect x="276.1" y="797.16" width="6.07" height="0.44" fill="#a67c12" stroke="#303030" stroke-width="0.3"/>
<text x="97.03" y="796.55" class="b" font-size="3.2" text-anchor="middle" fill="#111">1</text>
<text x="103.11" y="796.55" class="b" font-size="3.2" text-anchor="middle" fill="#111">1</text>
<text x="109.17" y="795.97" class="b" font-size="3.2" text-anchor="middle" fill="#111">5</text>
<text x="115.25" y="794.79" class="b" font-size="3.2" text-anchor="middle" fill="#111">13</text>
<text x="121.31" y="793.62" class="b" font-size="3.2" text-anchor="middle" fill="#111">21</text>
<text x="127.39" y="792.59" class="b" font-size="3.2" text-anchor="middle" fill="#111">28</text>
<text x="133.45" y="791.12" class="b" font-size="3.2" text-anchor="middle" fill="#111">38</text>
<text x="139.53" y="788.34" class="b" font-size="3.2" text-anchor="middle" fill="#111">57</text>
<text x="145.59" y="789.51" class="b" font-size="3.2" text-anchor="middle" fill="#111">49</text>
<text x="151.67" y="786.13" class="b" font-size="3.2" text-anchor="middle" fill="#111">72</text>
<text x="157.74" y="781.58" class="b" font-size="3.2" text-anchor="middle" fill="#111">103</text>
<text x="163.81" y="781.14" class="b" font-size="3.2" text-anchor="middle" fill="#111">106</text>
<text x="169.88" y="771.9" class="b" font-size="3.2" text-anchor="middle" fill="#111">169</text>
<text x="175.94" y="765.74" class="b" font-size="3.2" text-anchor="middle" fill="#111">211</text>
<text x="182.01" y="767.35" class="b" font-size="3.2" text-anchor="middle" fill="#111">200</text>
<text x="188.09" y="761.92" class="b" font-size="3.2" text-anchor="middle" fill="#111">237</text>
<text x="194.16" y="768.67" class="b" font-size="3.2" text-anchor="middle" fill="#111">191</text>
<text x="200.23" y="778.21" class="b" font-size="3.2" text-anchor="middle" fill="#111">126</text>
<text x="206.3" y="780.41" class="b" font-size="3.2" text-anchor="middle" fill="#111">111</text>
<text x="212.37" y="782.17" class="b" font-size="3.2" text-anchor="middle" fill="#111">99</text>
<text x="218.44" y="785.25" class="b" font-size="3.2" text-anchor="middle" fill="#111">78</text>
<text x="224.5" y="787.31" class="b" font-size="3.2" text-anchor="middle" fill="#111">64</text>
<text x="230.58" y="791.12" class="b" font-size="3.2" text-anchor="middle" fill="#111">38</text>
<text x="236.65" y="790.1" class="b" font-size="3.2" text-anchor="middle" fill="#111">45</text>
<text x="242.72" y="789.36" class="b" font-size="3.2" text-anchor="middle" fill="#111">50</text>
<text x="248.78" y="790.98" class="b" font-size="3.2" text-anchor="middle" fill="#111">39</text>
<text x="254.86" y="792.44" class="b" font-size="3.2" text-anchor="middle" fill="#111">29</text>
<text x="260.93" y="794.35" class="b" font-size="3.2" text-anchor="middle" fill="#111">16</text>
<text x="267" y="794.35" class="b" font-size="3.2" text-anchor="middle" fill="#111">16</text>
<text x="273.06" y="794.35" class="b" font-size="3.2" text-anchor="middle" fill="#111">16</text>
<text x="279.13" y="796.26" class="b" font-size="3.2" text-anchor="middle" fill="#111">3</text>
<path d="M69.6 797.4 C73.34 797.38 85.42 797.32 90.36 797.3 C95.3 797.28 94.74 797.32 97.03 797.27 C99.33 797.22 100.92 797.18 103.11 797.03 C105.29 796.88 106.99 796.71 109.17 796.43 C111.36 796.15 113.06 795.85 115.25 795.47 C117.43 795.1 119.13 794.78 121.31 794.35 C123.5 793.92 125.2 793.58 127.39 793.08 C129.57 792.57 131.27 792.07 133.45 791.54 C135.64 791.01 137.34 790.63 139.53 790.13 C141.71 789.63 143.41 789.43 145.59 788.76 C147.78 788.09 149.48 787.4 151.67 786.4 C153.85 785.41 155.55 784.53 157.74 783.22 C159.92 781.91 161.62 780.85 163.81 779.12 C165.99 777.39 167.69 775.46 169.88 773.63 C172.06 771.8 173.76 770.23 175.94 768.96 C178.13 767.69 179.83 766.99 182.01 766.58 C184.2 766.17 185.9 765.95 188.09 766.67 C190.27 767.39 191.97 768.83 194.16 770.59 C196.34 772.35 198.04 774.65 200.23 776.46 C202.41 778.27 204.11 779.43 206.3 780.66 C208.48 781.88 210.18 782.34 212.37 783.26 C214.55 784.18 216.25 784.84 218.44 785.75 C220.62 786.66 222.32 787.52 224.5 788.33 C226.69 789.14 228.39 789.79 230.58 790.23 C232.76 790.67 234.46 790.66 236.65 790.77 C238.83 790.89 240.53 790.71 242.72 790.89 C244.9 791.07 246.6 791.35 248.78 791.76 C250.97 792.18 252.67 792.72 254.86 793.2 C257.04 793.67 258.74 794.07 260.93 794.41 C263.11 794.74 264.81 794.83 267 795.05 C269.18 795.28 270.88 795.38 273.06 795.65 C275.25 795.91 277.32 796.22 279.13 796.52 C280.95 796.82 281.68 797.14 283.17 797.3 C284.66 797.46 286.64 797.38 287.4 797.4" fill="none" stroke="#1a1a1a" stroke-width="0.65"/>
<line x1="69.6" y1="797.6" x2="287.4" y2="797.6" stroke="#a6a6a6" stroke-width="0.6"/>
<line x1="69.6" y1="797.6" x2="68" y2="797.6" stroke="#777" stroke-width="0.45"/>
<text x="67.2" y="799.3" class="t" font-size="4.0" text-anchor="end" fill="#111">0</text>
<line x1="69.6" y1="782.93" x2="68.7" y2="782.93" stroke="#aaa" stroke-width="0.4"/>
<line x1="69.6" y1="768.25" x2="68" y2="768.25" stroke="#777" stroke-width="0.45"/>
<text x="67.2" y="769.95" class="t" font-size="4.0" text-anchor="end" fill="#111">200</text>
<line x1="69.6" y1="753.58" x2="68.7" y2="753.58" stroke="#aaa" stroke-width="0.4"/>
<line x1="69.6" y1="738.9" x2="68" y2="738.9" stroke="#777" stroke-width="0.45"/>
<text x="67.2" y="740.6" class="t" font-size="4.0" text-anchor="end" fill="#111">400</text>
<line x1="69.6" y1="724.23" x2="68.7" y2="724.23" stroke="#aaa" stroke-width="0.4"/>
<line x1="69.6" y1="709.55" x2="68" y2="709.55" stroke="#777" stroke-width="0.45"/>
<text x="67.2" y="711.25" class="t" font-size="4.0" text-anchor="end" fill="#111">600</text>
<line x1="69.6" y1="694.88" x2="68.7" y2="694.88" stroke="#aaa" stroke-width="0.4"/>
<line x1="69.6" y1="680.2" x2="68" y2="680.2" stroke="#777" stroke-width="0.45"/>
<text x="67.2" y="681.9" class="t" font-size="4.0" text-anchor="end" fill="#111">800</text>
<line x1="69.6" y1="665.53" x2="68.7" y2="665.53" stroke="#aaa" stroke-width="0.4"/>
<line x1="69.6" y1="650.85" x2="68" y2="650.85" stroke="#777" stroke-width="0.45"/>
<text x="67.2" y="652.55" class="t" font-size="4.0" text-anchor="end" fill="#111">1000</text>
<text transform="translate(55.6 721.4) rotate(-90)" class="t" font-size="3.7" text-anchor="middle" fill="#111">Count</text>
<line x1="69.6" y1="797.6" x2="69.6" y2="799.1" stroke="#888" stroke-width="0.45"/>
<text x="69.6" y="804.2" class="t" font-size="4.0" text-anchor="middle" fill="#111">120</text>
<line x1="87.75" y1="797.6" x2="87.75" y2="799.1" stroke="#888" stroke-width="0.45"/>
<text x="87.75" y="804.2" class="t" font-size="4.0" text-anchor="middle" fill="#111">100</text>
<line x1="105.9" y1="797.6" x2="105.9" y2="799.1" stroke="#888" stroke-width="0.45"/>
<text x="105.9" y="804.2" class="t" font-size="4.0" text-anchor="middle" fill="#111">80</text>
<line x1="124.05" y1="797.6" x2="124.05" y2="799.1" stroke="#888" stroke-width="0.45"/>
<text x="124.05" y="804.2" class="t" font-size="4.0" text-anchor="middle" fill="#111">60</text>
<line x1="142.2" y1="797.6" x2="142.2" y2="799.1" stroke="#888" stroke-width="0.45"/>
<text x="142.2" y="804.2" class="t" font-size="4.0" text-anchor="middle" fill="#111">40</text>
<line x1="160.35" y1="797.6" x2="160.35" y2="799.1" stroke="#888" stroke-width="0.45"/>
<text x="160.35" y="804.2" class="t" font-size="4.0" text-anchor="middle" fill="#111">20</text>
<line x1="178.5" y1="797.6" x2="178.5" y2="799.1" stroke="#888" stroke-width="0.45"/>
<text x="178.5" y="804.2" class="t" font-size="4.0" text-anchor="middle" fill="#111">0</text>
<line x1="196.65" y1="797.6" x2="196.65" y2="799.1" stroke="#888" stroke-width="0.45"/>
<text x="196.65" y="804.2" class="t" font-size="4.0" text-anchor="middle" fill="#111">-20</text>
<line x1="214.8" y1="797.6" x2="214.8" y2="799.1" stroke="#888" stroke-width="0.45"/>
<text x="214.8" y="804.2" class="t" font-size="4.0" text-anchor="middle" fill="#111">-40</text>
<line x1="232.95" y1="797.6" x2="232.95" y2="799.1" stroke="#888" stroke-width="0.45"/>
<text x="232.95" y="804.2" class="t" font-size="4.0" text-anchor="middle" fill="#111">-60</text>
<line x1="251.1" y1="797.6" x2="251.1" y2="799.1" stroke="#888" stroke-width="0.45"/>
<text x="251.1" y="804.2" class="t" font-size="4.0" text-anchor="middle" fill="#111">-80</text>
<line x1="269.25" y1="797.6" x2="269.25" y2="799.1" stroke="#888" stroke-width="0.45"/>
<text x="269.25" y="804.2" class="t" font-size="4.0" text-anchor="middle" fill="#111">-100</text>
<line x1="287.4" y1="797.6" x2="287.4" y2="799.1" stroke="#888" stroke-width="0.45"/>
<text x="287.4" y="804.2" class="t" font-size="4.0" text-anchor="middle" fill="#111">-120</text>
<line x1="78.67" y1="797.6" x2="78.67" y2="798.5" stroke="#aaa" stroke-width="0.4"/>
<line x1="96.82" y1="797.6" x2="96.82" y2="798.5" stroke="#aaa" stroke-width="0.4"/>
<line x1="114.97" y1="797.6" x2="114.97" y2="798.5" stroke="#aaa" stroke-width="0.4"/>
<line x1="133.12" y1="797.6" x2="133.12" y2="798.5" stroke="#aaa" stroke-width="0.4"/>
<line x1="151.27" y1="797.6" x2="151.27" y2="798.5" stroke="#aaa" stroke-width="0.4"/>
<line x1="169.43" y1="797.6" x2="169.43" y2="798.5" stroke="#aaa" stroke-width="0.4"/>
<line x1="187.57" y1="797.6" x2="187.57" y2="798.5" stroke="#aaa" stroke-width="0.4"/>
<line x1="205.72" y1="797.6" x2="205.72" y2="798.5" stroke="#aaa" stroke-width="0.4"/>
<line x1="223.88" y1="797.6" x2="223.88" y2="798.5" stroke="#aaa" stroke-width="0.4"/>
<line x1="242.02" y1="797.6" x2="242.02" y2="798.5" stroke="#aaa" stroke-width="0.4"/>
<line x1="260.17" y1="797.6" x2="260.17" y2="798.5" stroke="#aaa" stroke-width="0.4"/>
<line x1="278.32" y1="797.6" x2="278.32" y2="798.5" stroke="#aaa" stroke-width="0.4"/>
<line x1="69.6" y1="811.6" x2="287.4" y2="811.6" stroke="#c2c2c2" stroke-width="0.5"/>
<line x1="284.39" y1="811.6" x2="284.39" y2="812.4" stroke="#aaa" stroke-width="0.35"/>
<line x1="281.2" y1="811.6" x2="281.2" y2="813.1" stroke="#888" stroke-width="0.45"/>
<text x="281.2" y="817.8" class="t" font-size="4.0" text-anchor="middle" fill="#111">-3</text>
<line x1="278.01" y1="811.6" x2="278.01" y2="812.4" stroke="#aaa" stroke-width="0.35"/>
<line x1="274.82" y1="811.6" x2="274.82" y2="812.4" stroke="#aaa" stroke-width="0.35"/>
<line x1="271.63" y1="811.6" x2="271.63" y2="812.4" stroke="#aaa" stroke-width="0.35"/>
<line x1="268.44" y1="811.6" x2="268.44" y2="812.4" stroke="#aaa" stroke-width="0.35"/>
<line x1="265.25" y1="811.6" x2="265.25" y2="813.1" stroke="#888" stroke-width="0.45"/>
<text x="265.25" y="817.8" class="t" font-size="4.0" text-anchor="middle" fill="#111">-2.5</text>
<line x1="262.06" y1="811.6" x2="262.06" y2="812.4" stroke="#aaa" stroke-width="0.35"/>
<line x1="258.87" y1="811.6" x2="258.87" y2="812.4" stroke="#aaa" stroke-width="0.35"/>
<line x1="255.68" y1="811.6" x2="255.68" y2="812.4" stroke="#aaa" stroke-width="0.35"/>
<line x1="252.49" y1="811.6" x2="252.49" y2="812.4" stroke="#aaa" stroke-width="0.35"/>
<line x1="249.3" y1="811.6" x2="249.3" y2="813.1" stroke="#888" stroke-width="0.45"/>
<text x="249.3" y="817.8" class="t" font-size="4.0" text-anchor="middle" fill="#111">-2</text>
<line x1="246.11" y1="811.6" x2="246.11" y2="812.4" stroke="#aaa" stroke-width="0.35"/>
<line x1="242.92" y1="811.6" x2="242.92" y2="812.4" stroke="#aaa" stroke-width="0.35"/>
<line x1="239.73" y1="811.6" x2="239.73" y2="812.4" stroke="#aaa" stroke-width="0.35"/>
<line x1="236.54" y1="811.6" x2="236.54" y2="812.4" stroke="#aaa" stroke-width="0.35"/>
<line x1="233.35" y1="811.6" x2="233.35" y2="813.1" stroke="#888" stroke-width="0.45"/>
<text x="233.35" y="817.8" class="t" font-size="4.0" text-anchor="middle" fill="#111">-1.5</text>
<line x1="230.16" y1="811.6" x2="230.16" y2="812.4" stroke="#aaa" stroke-width="0.35"/>
<line x1="226.97" y1="811.6" x2="226.97" y2="812.4" stroke="#aaa" stroke-width="0.35"/>
<line x1="223.78" y1="811.6" x2="223.78" y2="812.4" stroke="#aaa" stroke-width="0.35"/>
<line x1="220.59" y1="811.6" x2="220.59" y2="812.4" stroke="#aaa" stroke-width="0.35"/>
<line x1="217.4" y1="811.6" x2="217.4" y2="813.1" stroke="#888" stroke-width="0.45"/>
<text x="217.4" y="817.8" class="t" font-size="4.0" text-anchor="middle" fill="#111">-1</text>
<line x1="214.21" y1="811.6" x2="214.21" y2="812.4" stroke="#aaa" stroke-width="0.35"/>
<line x1="211.02" y1="811.6" x2="211.02" y2="812.4" stroke="#aaa" stroke-width="0.35"/>
<line x1="207.83" y1="811.6" x2="207.83" y2="812.4" stroke="#aaa" stroke-width="0.35"/>
<line x1="204.64" y1="811.6" x2="204.64" y2="812.4" stroke="#aaa" stroke-width="0.35"/>
<line x1="201.45" y1="811.6" x2="201.45" y2="813.1" stroke="#888" stroke-width="0.45"/>
<text x="201.45" y="817.8" class="t" font-size="4.0" text-anchor="middle" fill="#111">-0.5</text>
<line x1="198.26" y1="811.6" x2="198.26" y2="812.4" stroke="#aaa" stroke-width="0.35"/>
<line x1="195.07" y1="811.6" x2="195.07" y2="812.4" stroke="#aaa" stroke-width="0.35"/>
<line x1="191.88" y1="811.6" x2="191.88" y2="812.4" stroke="#aaa" stroke-width="0.35"/>
<line x1="188.69" y1="811.6" x2="188.69" y2="812.4" stroke="#aaa" stroke-width="0.35"/>
<line x1="185.5" y1="811.6" x2="185.5" y2="813.1" stroke="#888" stroke-width="0.45"/>
<text x="185.5" y="817.8" class="t" font-size="4.0" text-anchor="middle" fill="#111">0</text>
<line x1="182.31" y1="811.6" x2="182.31" y2="812.4" stroke="#aaa" stroke-width="0.35"/>
<line x1="179.12" y1="811.6" x2="179.12" y2="812.4" stroke="#aaa" stroke-width="0.35"/>
<line x1="175.93" y1="811.6" x2="175.93" y2="812.4" stroke="#aaa" stroke-width="0.35"/>
<line x1="172.74" y1="811.6" x2="172.74" y2="812.4" stroke="#aaa" stroke-width="0.35"/>
<line x1="169.55" y1="811.6" x2="169.55" y2="813.1" stroke="#888" stroke-width="0.45"/>
<text x="169.55" y="817.8" class="t" font-size="4.0" text-anchor="middle" fill="#111">0.5</text>
<line x1="166.36" y1="811.6" x2="166.36" y2="812.4" stroke="#aaa" stroke-width="0.35"/>
<line x1="163.17" y1="811.6" x2="163.17" y2="812.4" stroke="#aaa" stroke-width="0.35"/>
<line x1="159.98" y1="811.6" x2="159.98" y2="812.4" stroke="#aaa" stroke-width="0.35"/>
<line x1="156.79" y1="811.6" x2="156.79" y2="812.4" stroke="#aaa" stroke-width="0.35"/>
<line x1="153.6" y1="811.6" x2="153.6" y2="813.1" stroke="#888" stroke-width="0.45"/>
<text x="153.6" y="817.8" class="t" font-size="4.0" text-anchor="middle" fill="#111">1</text>
<line x1="150.41" y1="811.6" x2="150.41" y2="812.4" stroke="#aaa" stroke-width="0.35"/>
<line x1="147.22" y1="811.6" x2="147.22" y2="812.4" stroke="#aaa" stroke-width="0.35"/>
<line x1="144.03" y1="811.6" x2="144.03" y2="812.4" stroke="#aaa" stroke-width="0.35"/>
<line x1="140.84" y1="811.6" x2="140.84" y2="812.4" stroke="#aaa" stroke-width="0.35"/>
<line x1="137.65" y1="811.6" x2="137.65" y2="813.1" stroke="#888" stroke-width="0.45"/>
<text x="137.65" y="817.8" class="t" font-size="4.0" text-anchor="middle" fill="#111">1.5</text>
<line x1="134.46" y1="811.6" x2="134.46" y2="812.4" stroke="#aaa" stroke-width="0.35"/>
<line x1="131.27" y1="811.6" x2="131.27" y2="812.4" stroke="#aaa" stroke-width="0.35"/>
<line x1="128.08" y1="811.6" x2="128.08" y2="812.4" stroke="#aaa" stroke-width="0.35"/>
<line x1="124.89" y1="811.6" x2="124.89" y2="812.4" stroke="#aaa" stroke-width="0.35"/>
<line x1="121.7" y1="811.6" x2="121.7" y2="813.1" stroke="#888" stroke-width="0.45"/>
<text x="121.7" y="817.8" class="t" font-size="4.0" text-anchor="middle" fill="#111">2</text>
<line x1="118.51" y1="811.6" x2="118.51" y2="812.4" stroke="#aaa" stroke-width="0.35"/>
<line x1="115.32" y1="811.6" x2="115.32" y2="812.4" stroke="#aaa" stroke-width="0.35"/>
<line x1="112.13" y1="811.6" x2="112.13" y2="812.4" stroke="#aaa" stroke-width="0.35"/>
<line x1="108.94" y1="811.6" x2="108.94" y2="812.4" stroke="#aaa" stroke-width="0.35"/>
<line x1="105.75" y1="811.6" x2="105.75" y2="813.1" stroke="#888" stroke-width="0.45"/>
<text x="105.75" y="817.8" class="t" font-size="4.0" text-anchor="middle" fill="#111">2.5</text>
<line x1="102.56" y1="811.6" x2="102.56" y2="812.4" stroke="#aaa" stroke-width="0.35"/>
<line x1="99.37" y1="811.6" x2="99.37" y2="812.4" stroke="#aaa" stroke-width="0.35"/>
<line x1="96.18" y1="811.6" x2="96.18" y2="812.4" stroke="#aaa" stroke-width="0.35"/>
<line x1="92.99" y1="811.6" x2="92.99" y2="812.4" stroke="#aaa" stroke-width="0.35"/>
<line x1="89.8" y1="811.6" x2="89.8" y2="813.1" stroke="#888" stroke-width="0.45"/>
<text x="89.8" y="817.8" class="t" font-size="4.0" text-anchor="middle" fill="#111">3</text>
<line x1="86.61" y1="811.6" x2="86.61" y2="812.4" stroke="#aaa" stroke-width="0.35"/>
<line x1="83.42" y1="811.6" x2="83.42" y2="812.4" stroke="#aaa" stroke-width="0.35"/>
<line x1="80.23" y1="811.6" x2="80.23" y2="812.4" stroke="#aaa" stroke-width="0.35"/>
<line x1="77.04" y1="811.6" x2="77.04" y2="812.4" stroke="#aaa" stroke-width="0.35"/>
<line x1="73.85" y1="811.6" x2="73.85" y2="813.1" stroke="#888" stroke-width="0.45"/>
<text x="73.85" y="817.8" class="t" font-size="4.0" text-anchor="middle" fill="#111">3.5</text>
<line x1="70.66" y1="811.6" x2="70.66" y2="812.4" stroke="#aaa" stroke-width="0.35"/>
<line x1="116.4" y1="635.6" x2="257" y2="635.6" stroke="#333" stroke-width="0.5"/>
<line x1="116.4" y1="632.6" x2="116.4" y2="638.6" stroke="#333" stroke-width="0.6"/>
<line x1="257" y1="633.1" x2="257" y2="638.1" stroke="#333" stroke-width="0.6"/>
<rect x="169.6" y="632.6" width="35" height="6" fill="#fff" stroke="#333" stroke-width="0.55"/>
<line x1="186" y1="632.6" x2="186" y2="638.6" stroke="#333" stroke-width="0.5"/>
<path d="M186.7 635.6 l1.1 -1.6 l1.1 1.6 l-1.1 1.6z" fill="none" stroke="#333" stroke-width="0.4"/>
<path d="M170 630.8 v-0.8 H205.6 v0.8" fill="none" stroke="#ea2840" stroke-width="0.7"/>
<path d="M98.5 635.3h0M98.7 636.2h0" stroke="#333" stroke-width="0.9" stroke-linecap="round" fill="none"/>
<path d="M104.6 636.0h0M106.6 635.5h0M104.1 636.8h0M106.2 634.3h0M104.6 637.1h0M104.5 635.3h0M107.0 636.6h0" stroke="#333" stroke-width="0.9" stroke-linecap="round" fill="none"/>
<path d="M113.8 636.3h0M109.3 634.4h0M116.3 636.5h0M109.3 634.2h0M110.8 636.9h0M110.6 636.1h0M116.0 636.0h0M115.9 634.9h0M110.2 634.2h0M114.7 634.4h0M116.3 636.2h0M110.4 636.5h0M110.2 635.6h0M109.8 636.5h0M115.7 636.8h0M109.0 636.7h0M113.2 636.6h0M112.8 636.0h0M113.5 636.5h0M109.6 634.3h0M113.1 635.0h0M112.0 634.1h0M114.6 634.2h0M115.2 636.5h0" stroke="#222" stroke-width="0.9" stroke-linecap="round" fill="none"/>
<path d="M266.3 634.5h0M270.5 634.7h0M265.7 634.4h0M277.5 635.7h0M264.1 634.4h0M272.2 636.6h0M274.7 634.4h0M264.4 635.0h0M272.9 634.5h0M269.5 637.0h0M273.0 634.1h0M258.1 634.4h0M271.4 635.9h0M267.7 635.5h0M265.3 635.9h0M270.4 636.8h0M272.3 636.5h0M276.1 636.6h0M271.9 634.2h0M271.1 636.6h0M265.8 636.7h0M260.4 636.9h0M266.0 636.2h0M261.9 635.0h0M264.0 635.1h0M258.5 635.4h0M277.6 636.1h0M276.5 636.4h0M274.5 637.1h0M272.7 634.9h0M261.9 635.3h0M256.9 634.8h0M275.6 636.9h0M263.6 636.4h0M273.2 636.8h0M273.6 635.7h0M258.8 636.6h0M263.2 636.0h0M264.4 635.7h0M277.3 634.6h0M267.9 636.0h0M268.1 636.9h0M265.3 636.8h0M271.3 637.0h0M258.4 634.7h0M262.7 636.8h0M256.8 634.9h0M271.9 637.1h0M260.3 635.4h0M271.3 636.2h0M272.5 636.4h0M261.8 634.9h0M257.1 636.2h0M261.0 634.9h0M277.2 636.0h0M269.2 636.1h0M269.4 636.2h0M263.0 634.3h0M257.9 634.1h0M264.3 634.5h0M258.9 635.6h0M277.3 636.2h0M262.4 636.4h0M260.3 634.4h0M263.0 635.3h0M271.3 635.4h0M272.2 634.4h0M276.5 635.1h0M274.4 634.2h0M274.3 634.8h0M274.9 636.5h0M270.9 634.9h0M256.7 634.7h0M276.0 634.6h0M270.7 635.9h0M270.7 634.6h0M259.6 634.4h0M277.6 635.2h0M270.5 635.8h0M261.3 634.3h0M256.8 636.7h0M259.3 637.0h0M264.3 636.3h0M259.5 636.5h0M261.9 635.2h0M267.7 634.4h0M261.8 636.5h0M262.6 635.2h0M272.9 634.8h0M260.7 634.8h0M264.8 635.2h0M270.3 635.5h0M275.2 634.3h0M270.8 636.6h0M261.5 634.2h0M265.9 634.4h0M266.4 636.2h0M258.5 634.5h0M266.8 634.6h0M261.5 635.4h0M259.0 634.3h0M264.3 635.5h0M276.6 635.8h0M258.0 634.8h0M272.5 635.8h0M275.2 637.0h0M274.9 634.4h0M276.8 635.7h0M261.7 634.6h0M275.1 634.7h0M258.3 634.9h0M276.4 635.5h0M272.2 634.3h0M266.2 635.1h0M260.9 636.1h0M264.3 634.5h0M277.7 635.5h0M260.4 634.1h0M270.5 635.6h0M257.0 635.5h0M272.4 635.7h0M261.5 635.6h0M269.5 636.1h0M259.6 636.5h0M276.8 636.3h0M274.9 635.2h0M275.9 634.6h0M261.4 635.9h0M275.9 634.3h0M261.2 634.2h0M265.9 634.5h0M260.6 636.3h0M269.0 636.9h0M265.1 636.1h0M256.8 636.9h0M261.5 635.5h0M267.5 636.9h0M267.1 637.1h0M269.9 634.7h0M274.4 634.7h0M278.0 635.5h0M261.4 637.0h0M263.4 635.3h0M263.9 636.1h0M257.0 635.2h0M260.0 636.6h0M256.5 635.9h0M262.0 635.5h0M268.6 636.2h0M259.5 634.8h0" stroke="#000" stroke-width="1.24" stroke-linecap="round" fill="none"/>
</g>
<g>
<rect x="391.6" y="626.4" width="251.4" height="198.6" fill="#f9f9f9"/>
<rect x="397.6" y="629" width="220" height="168.4" fill="#fff" stroke="#bcbcbc" stroke-width="0.6"/>
<line x1="397.6" y1="644.4" x2="617.6" y2="644.4" stroke="#c4c4c4" stroke-width="0.6"/>
<defs><pattern id="hh" width="2.2" height="2.2" patternUnits="userSpaceOnUse" patternTransform="rotate(-45)"><line x1="-1" y1="1.1" x2="3.2" y2="1.1" stroke="#6b4f05" stroke-width="0.6"/></pattern></defs>
<rect x="495.2" y="792.85" width="6.14" height="4.55" fill="#ffc000" stroke="#303030" stroke-width="0.3"/>
<rect x="501.34" y="697.06" width="6.14" height="100.34" fill="#ffc000" stroke="#303030" stroke-width="0.3"/>
<rect x="507.48" y="698.08" width="6.14" height="99.32" fill="#ffc000" stroke="#303030" stroke-width="0.3"/>
<rect x="513.62" y="755.44" width="6.14" height="41.96" fill="#ffc000" stroke="#303030" stroke-width="0.3"/>
<rect x="519.76" y="778.18" width="6.14" height="19.22" fill="#ffc000" stroke="#303030" stroke-width="0.3"/>
<rect x="525.9" y="793" width="6.14" height="4.4" fill="#ffc000" stroke="#303030" stroke-width="0.3"/>
<rect x="532.04" y="793.29" width="6.14" height="4.11" fill="#ffc000" stroke="#303030" stroke-width="0.3"/>
<rect x="532.04" y="794.4" width="6.14" height="3" fill="#a98012"/>
<rect x="532.04" y="794.4" width="6.14" height="3" fill="url(#hh)" stroke="#2e2e2e" stroke-width="0.25"/>
<rect x="538.18" y="794.17" width="6.14" height="3.23" fill="#a98012"/>
<rect x="538.18" y="794.17" width="6.14" height="3.23" fill="url(#hh)" stroke="#303030" stroke-width="0.3"/>
<rect x="544.32" y="794.03" width="6.14" height="3.37" fill="#a98012"/>
<rect x="544.32" y="794.03" width="6.14" height="3.37" fill="url(#hh)" stroke="#303030" stroke-width="0.3"/>
<rect x="550.46" y="793.73" width="6.14" height="3.67" fill="#a98012"/>
<rect x="550.46" y="793.73" width="6.14" height="3.67" fill="url(#hh)" stroke="#303030" stroke-width="0.3"/>
<rect x="556.6" y="790.8" width="6.14" height="6.6" fill="#a98012"/>
<rect x="556.6" y="790.8" width="6.14" height="6.6" fill="url(#hh)" stroke="#303030" stroke-width="0.3"/>
<rect x="562.74" y="789.62" width="6.14" height="7.78" fill="#a98012"/>
<rect x="562.74" y="789.62" width="6.14" height="7.78" fill="url(#hh)" stroke="#303030" stroke-width="0.3"/>
<rect x="568.88" y="786.25" width="6.14" height="11.15" fill="#a98012"/>
<rect x="568.88" y="786.25" width="6.14" height="11.15" fill="url(#hh)" stroke="#303030" stroke-width="0.3"/>
<rect x="575.02" y="794.91" width="6.14" height="2.49" fill="#a98012"/>
<rect x="575.02" y="794.91" width="6.14" height="2.49" fill="url(#hh)" stroke="#303030" stroke-width="0.3"/>
<rect x="581.16" y="795.35" width="6.14" height="2.05" fill="#a98012"/>
<rect x="581.16" y="795.35" width="6.14" height="2.05" fill="url(#hh)" stroke="#303030" stroke-width="0.3"/>
<rect x="587.3" y="794.17" width="6.14" height="3.23" fill="#a98012"/>
<rect x="587.3" y="794.17" width="6.14" height="3.23" fill="url(#hh)" stroke="#303030" stroke-width="0.3"/>
<rect x="593.44" y="790.95" width="6.14" height="6.45" fill="#a98012"/>
<rect x="593.44" y="790.95" width="6.14" height="6.45" fill="url(#hh)" stroke="#303030" stroke-width="0.3"/>
<rect x="599.58" y="796.81" width="6.14" height="0.59" fill="#a67c12" stroke="#303030" stroke-width="0.3"/>
<text x="498.27" y="791.95" class="b" font-size="3.2" text-anchor="middle" fill="#111">31</text>
<text x="504.41" y="696.16" class="b" font-size="3.2" text-anchor="middle" fill="#111">684</text>
<text x="510.55" y="697.18" class="b" font-size="3.2" text-anchor="middle" fill="#111">677</text>
<text x="516.69" y="754.54" class="b" font-size="3.2" text-anchor="middle" fill="#111">286</text>
<text x="522.83" y="777.28" class="b" font-size="3.2" text-anchor="middle" fill="#111">131</text>
<text x="528.97" y="792.1" class="b" font-size="3.2" text-anchor="middle" fill="#111">30</text>
<text x="535.11" y="792.39" class="b" font-size="3.2" text-anchor="middle" fill="#111">28</text>
<text x="541.25" y="793.27" class="b" font-size="3.2" text-anchor="middle" fill="#111">22</text>
<text x="547.39" y="793.13" class="b" font-size="3.2" text-anchor="middle" fill="#111">23</text>
<text x="553.53" y="792.83" class="b" font-size="3.2" text-anchor="middle" fill="#111">25</text>
<text x="559.67" y="789.9" class="b" font-size="3.2" text-anchor="middle" fill="#111">45</text>
<text x="565.81" y="788.72" class="b" font-size="3.2" text-anchor="middle" fill="#111">53</text>
<text x="571.95" y="785.35" class="b" font-size="3.2" text-anchor="middle" fill="#111">76</text>
<text x="578.09" y="794.01" class="b" font-size="3.2" text-anchor="middle" fill="#111">17</text>
<text x="584.23" y="794.45" class="b" font-size="3.2" text-anchor="middle" fill="#111">14</text>
<text x="590.37" y="793.27" class="b" font-size="3.2" text-anchor="middle" fill="#111">22</text>
<text x="596.51" y="790.05" class="b" font-size="3.2" text-anchor="middle" fill="#111">44</text>
<text x="602.65" y="795.91" class="b" font-size="3.2" text-anchor="middle" fill="#111">4</text>
<path d="M486 797.2 C483.12 797.2 469.33 797.25 470 797.2 C470.67 797.15 484.93 797.24 489.7 796.9 C494.47 796.56 494.75 796.97 496.5 795.3 C498.25 793.63 498.52 791.79 499.4 787.6 C500.28 783.41 500.77 779.34 501.4 772 C502.03 764.66 502.38 756.57 502.9 746.8 C503.42 737.03 503.81 728.19 504.3 717.7 C504.79 707.21 505.15 698.99 505.6 688.5 C506.05 678.01 506.33 667.09 506.8 659.4 C507.27 651.71 507.68 645.8 508.2 645.8 C508.72 645.8 509.18 651.71 509.7 659.4 C510.22 667.09 510.58 678.01 511.1 688.5 C511.62 698.99 511.97 707.21 512.6 717.7 C513.23 728.19 513.65 738.41 514.6 746.8 C515.55 755.19 516.62 758.7 517.9 764.3 C519.18 769.9 520.31 773.54 521.7 777.9 C523.09 782.26 524.2 785.67 525.6 788.5 C527 791.33 526.68 792.68 529.5 793.6 C532.32 794.52 538.03 793.64 541.25 793.64 C544.47 793.63 545.18 793.76 547.39 793.59 C549.6 793.42 551.32 793.16 553.53 792.69 C555.74 792.22 557.46 791.57 559.67 790.97 C561.88 790.37 563.6 789.57 565.81 789.34 C568.02 789.12 569.74 789.2 571.95 789.74 C574.16 790.28 575.88 791.57 578.09 792.35 C580.3 793.13 582.02 793.84 584.23 794.07 C586.44 794.3 588.16 793.72 590.37 793.63 C592.58 793.54 594.3 793.28 596.51 793.56 C598.72 793.84 600.81 794.55 602.65 795.19 C604.49 795.83 604.03 796.74 606.72 797.1 C609.41 797.46 615.64 797.18 617.6 797.2" fill="none" stroke="#1a1a1a" stroke-width="0.65"/>
<line x1="397.6" y1="797.4" x2="617.6" y2="797.4" stroke="#a6a6a6" stroke-width="0.6"/>
<line x1="617.6" y1="797.4" x2="619.2" y2="797.4" stroke="#777" stroke-width="0.45"/>
<text x="620" y="799.1" class="t" font-size="4.0" text-anchor="start" fill="#111">0</text>
<line x1="617.6" y1="782.77" x2="618.5" y2="782.77" stroke="#aaa" stroke-width="0.4"/>
<line x1="617.6" y1="768.15" x2="619.2" y2="768.15" stroke="#777" stroke-width="0.45"/>
<text x="620" y="769.85" class="t" font-size="4.0" text-anchor="start" fill="#111">200</text>
<line x1="617.6" y1="753.52" x2="618.5" y2="753.52" stroke="#aaa" stroke-width="0.4"/>
<line x1="617.6" y1="738.9" x2="619.2" y2="738.9" stroke="#777" stroke-width="0.45"/>
<text x="620" y="740.6" class="t" font-size="4.0" text-anchor="start" fill="#111">400</text>
<line x1="617.6" y1="724.27" x2="618.5" y2="724.27" stroke="#aaa" stroke-width="0.4"/>
<line x1="617.6" y1="709.65" x2="619.2" y2="709.65" stroke="#777" stroke-width="0.45"/>
<text x="620" y="711.35" class="t" font-size="4.0" text-anchor="start" fill="#111">600</text>
<line x1="617.6" y1="695.02" x2="618.5" y2="695.02" stroke="#aaa" stroke-width="0.4"/>
<line x1="617.6" y1="680.4" x2="619.2" y2="680.4" stroke="#777" stroke-width="0.45"/>
<text x="620" y="682.1" class="t" font-size="4.0" text-anchor="start" fill="#111">800</text>
<line x1="617.6" y1="665.77" x2="618.5" y2="665.77" stroke="#aaa" stroke-width="0.4"/>
<line x1="617.6" y1="651.15" x2="619.2" y2="651.15" stroke="#777" stroke-width="0.45"/>
<text x="620" y="652.85" class="t" font-size="4.0" text-anchor="start" fill="#111">1000</text>
<text transform="translate(634.8 721.4) rotate(-90)" class="t" font-size="3.7" text-anchor="middle" fill="#111">Count</text>
<line x1="397.6" y1="797.4" x2="397.6" y2="798.9" stroke="#888" stroke-width="0.45"/>
<text x="397.6" y="804.2" class="t" font-size="4.0" text-anchor="middle" fill="#111">120</text>
<line x1="415.93" y1="797.4" x2="415.93" y2="798.9" stroke="#888" stroke-width="0.45"/>
<text x="415.93" y="804.2" class="t" font-size="4.0" text-anchor="middle" fill="#111">100</text>
<line x1="434.27" y1="797.4" x2="434.27" y2="798.9" stroke="#888" stroke-width="0.45"/>
<text x="434.27" y="804.2" class="t" font-size="4.0" text-anchor="middle" fill="#111">80</text>
<line x1="452.6" y1="797.4" x2="452.6" y2="798.9" stroke="#888" stroke-width="0.45"/>
<text x="452.6" y="804.2" class="t" font-size="4.0" text-anchor="middle" fill="#111">60</text>
<line x1="470.93" y1="797.4" x2="470.93" y2="798.9" stroke="#888" stroke-width="0.45"/>
<text x="470.93" y="804.2" class="t" font-size="4.0" text-anchor="middle" fill="#111">40</text>
<line x1="489.27" y1="797.4" x2="489.27" y2="798.9" stroke="#888" stroke-width="0.45"/>
<text x="489.27" y="804.2" class="t" font-size="4.0" text-anchor="middle" fill="#111">20</text>
<line x1="507.6" y1="797.4" x2="507.6" y2="798.9" stroke="#888" stroke-width="0.45"/>
<text x="507.6" y="804.2" class="t" font-size="4.0" text-anchor="middle" fill="#111">0</text>
<line x1="525.93" y1="797.4" x2="525.93" y2="798.9" stroke="#888" stroke-width="0.45"/>
<text x="525.93" y="804.2" class="t" font-size="4.0" text-anchor="middle" fill="#111">-20</text>
<line x1="544.27" y1="797.4" x2="544.27" y2="798.9" stroke="#888" stroke-width="0.45"/>
<text x="544.27" y="804.2" class="t" font-size="4.0" text-anchor="middle" fill="#111">-40</text>
<line x1="562.6" y1="797.4" x2="562.6" y2="798.9" stroke="#888" stroke-width="0.45"/>
<text x="562.6" y="804.2" class="t" font-size="4.0" text-anchor="middle" fill="#111">-60</text>
<line x1="580.93" y1="797.4" x2="580.93" y2="798.9" stroke="#888" stroke-width="0.45"/>
<text x="580.93" y="804.2" class="t" font-size="4.0" text-anchor="middle" fill="#111">-80</text>
<line x1="599.27" y1="797.4" x2="599.27" y2="798.9" stroke="#888" stroke-width="0.45"/>
<text x="599.27" y="804.2" class="t" font-size="4.0" text-anchor="middle" fill="#111">-100</text>
<line x1="617.6" y1="797.4" x2="617.6" y2="798.9" stroke="#888" stroke-width="0.45"/>
<text x="617.6" y="804.2" class="t" font-size="4.0" text-anchor="middle" fill="#111">-120</text>
<line x1="406.77" y1="797.4" x2="406.77" y2="798.3" stroke="#aaa" stroke-width="0.4"/>
<line x1="425.1" y1="797.4" x2="425.1" y2="798.3" stroke="#aaa" stroke-width="0.4"/>
<line x1="443.43" y1="797.4" x2="443.43" y2="798.3" stroke="#aaa" stroke-width="0.4"/>
<line x1="461.77" y1="797.4" x2="461.77" y2="798.3" stroke="#aaa" stroke-width="0.4"/>
<line x1="480.1" y1="797.4" x2="480.1" y2="798.3" stroke="#aaa" stroke-width="0.4"/>
<line x1="498.43" y1="797.4" x2="498.43" y2="798.3" stroke="#aaa" stroke-width="0.4"/>
<line x1="516.77" y1="797.4" x2="516.77" y2="798.3" stroke="#aaa" stroke-width="0.4"/>
<line x1="535.1" y1="797.4" x2="535.1" y2="798.3" stroke="#aaa" stroke-width="0.4"/>
<line x1="553.43" y1="797.4" x2="553.43" y2="798.3" stroke="#aaa" stroke-width="0.4"/>
<line x1="571.77" y1="797.4" x2="571.77" y2="798.3" stroke="#aaa" stroke-width="0.4"/>
<line x1="590.1" y1="797.4" x2="590.1" y2="798.3" stroke="#aaa" stroke-width="0.4"/>
<line x1="608.43" y1="797.4" x2="608.43" y2="798.3" stroke="#aaa" stroke-width="0.4"/>
<line x1="397.6" y1="811.6" x2="617.6" y2="811.6" stroke="#c2c2c2" stroke-width="0.5"/>
<line x1="613.5" y1="811.6" x2="613.5" y2="812.4" stroke="#aaa" stroke-width="0.35"/>
<line x1="609" y1="811.6" x2="609" y2="812.4" stroke="#aaa" stroke-width="0.35"/>
<line x1="604.5" y1="811.6" x2="604.5" y2="812.4" stroke="#aaa" stroke-width="0.35"/>
<line x1="600" y1="811.6" x2="600" y2="813.1" stroke="#888" stroke-width="0.45"/>
<text x="600" y="817.8" class="t" font-size="4.0" text-anchor="middle" fill="#111">-4</text>
<line x1="595.5" y1="811.6" x2="595.5" y2="812.4" stroke="#aaa" stroke-width="0.35"/>
<line x1="591" y1="811.6" x2="591" y2="812.4" stroke="#aaa" stroke-width="0.35"/>
<line x1="586.5" y1="811.6" x2="586.5" y2="812.4" stroke="#aaa" stroke-width="0.35"/>
<line x1="582" y1="811.6" x2="582" y2="812.4" stroke="#aaa" stroke-width="0.35"/>
<line x1="577.5" y1="811.6" x2="577.5" y2="813.1" stroke="#888" stroke-width="0.45"/>
<text x="577.5" y="817.8" class="t" font-size="4.0" text-anchor="middle" fill="#111">-3</text>
<line x1="573" y1="811.6" x2="573" y2="812.4" stroke="#aaa" stroke-width="0.35"/>
<line x1="568.5" y1="811.6" x2="568.5" y2="812.4" stroke="#aaa" stroke-width="0.35"/>
<line x1="564" y1="811.6" x2="564" y2="812.4" stroke="#aaa" stroke-width="0.35"/>
<line x1="559.5" y1="811.6" x2="559.5" y2="812.4" stroke="#aaa" stroke-width="0.35"/>
<line x1="555" y1="811.6" x2="555" y2="813.1" stroke="#888" stroke-width="0.45"/>
<text x="555" y="817.8" class="t" font-size="4.0" text-anchor="middle" fill="#111">-2</text>
<line x1="550.5" y1="811.6" x2="550.5" y2="812.4" stroke="#aaa" stroke-width="0.35"/>
<line x1="546" y1="811.6" x2="546" y2="812.4" stroke="#aaa" stroke-width="0.35"/>
<line x1="541.5" y1="811.6" x2="541.5" y2="812.4" stroke="#aaa" stroke-width="0.35"/>
<line x1="537" y1="811.6" x2="537" y2="812.4" stroke="#aaa" stroke-width="0.35"/>
<line x1="532.5" y1="811.6" x2="532.5" y2="813.1" stroke="#888" stroke-width="0.45"/>
<text x="532.5" y="817.8" class="t" font-size="4.0" text-anchor="middle" fill="#111">-1</text>
<line x1="528" y1="811.6" x2="528" y2="812.4" stroke="#aaa" stroke-width="0.35"/>
<line x1="523.5" y1="811.6" x2="523.5" y2="812.4" stroke="#aaa" stroke-width="0.35"/>
<line x1="519" y1="811.6" x2="519" y2="812.4" stroke="#aaa" stroke-width="0.35"/>
<line x1="514.5" y1="811.6" x2="514.5" y2="812.4" stroke="#aaa" stroke-width="0.35"/>
<line x1="510" y1="811.6" x2="510" y2="813.1" stroke="#888" stroke-width="0.45"/>
<text x="510" y="817.8" class="t" font-size="4.0" text-anchor="middle" fill="#111">0</text>
<line x1="505.5" y1="811.6" x2="505.5" y2="812.4" stroke="#aaa" stroke-width="0.35"/>
<line x1="501" y1="811.6" x2="501" y2="812.4" stroke="#aaa" stroke-width="0.35"/>
<line x1="496.5" y1="811.6" x2="496.5" y2="812.4" stroke="#aaa" stroke-width="0.35"/>
<line x1="492" y1="811.6" x2="492" y2="812.4" stroke="#aaa" stroke-width="0.35"/>
<line x1="487.5" y1="811.6" x2="487.5" y2="813.1" stroke="#888" stroke-width="0.45"/>
<text x="487.5" y="817.8" class="t" font-size="4.0" text-anchor="middle" fill="#111">1</text>
<line x1="483" y1="811.6" x2="483" y2="812.4" stroke="#aaa" stroke-width="0.35"/>
<line x1="478.5" y1="811.6" x2="478.5" y2="812.4" stroke="#aaa" stroke-width="0.35"/>
<line x1="474" y1="811.6" x2="474" y2="812.4" stroke="#aaa" stroke-width="0.35"/>
<line x1="469.5" y1="811.6" x2="469.5" y2="812.4" stroke="#aaa" stroke-width="0.35"/>
<line x1="465" y1="811.6" x2="465" y2="813.1" stroke="#888" stroke-width="0.45"/>
<text x="465" y="817.8" class="t" font-size="4.0" text-anchor="middle" fill="#111">2</text>
<line x1="460.5" y1="811.6" x2="460.5" y2="812.4" stroke="#aaa" stroke-width="0.35"/>
<line x1="456" y1="811.6" x2="456" y2="812.4" stroke="#aaa" stroke-width="0.35"/>
<line x1="451.5" y1="811.6" x2="451.5" y2="812.4" stroke="#aaa" stroke-width="0.35"/>
<line x1="447" y1="811.6" x2="447" y2="812.4" stroke="#aaa" stroke-width="0.35"/>
<line x1="442.5" y1="811.6" x2="442.5" y2="813.1" stroke="#888" stroke-width="0.45"/>
<text x="442.5" y="817.8" class="t" font-size="4.0" text-anchor="middle" fill="#111">3</text>
<line x1="438" y1="811.6" x2="438" y2="812.4" stroke="#aaa" stroke-width="0.35"/>
<line x1="433.5" y1="811.6" x2="433.5" y2="812.4" stroke="#aaa" stroke-width="0.35"/>
<line x1="429" y1="811.6" x2="429" y2="812.4" stroke="#aaa" stroke-width="0.35"/>
<line x1="424.5" y1="811.6" x2="424.5" y2="812.4" stroke="#aaa" stroke-width="0.35"/>
<line x1="420" y1="811.6" x2="420" y2="813.1" stroke="#888" stroke-width="0.45"/>
<text x="420" y="817.8" class="t" font-size="4.0" text-anchor="middle" fill="#111">4</text>
<line x1="415.5" y1="811.6" x2="415.5" y2="812.4" stroke="#aaa" stroke-width="0.35"/>
<line x1="411" y1="811.6" x2="411" y2="812.4" stroke="#aaa" stroke-width="0.35"/>
<line x1="406.5" y1="811.6" x2="406.5" y2="812.4" stroke="#aaa" stroke-width="0.35"/>
<line x1="402" y1="811.6" x2="402" y2="812.4" stroke="#aaa" stroke-width="0.35"/>
<line x1="397.5" y1="811.6" x2="397.5" y2="813.1" stroke="#888" stroke-width="0.45"/>
<text x="397.5" y="817.8" class="t" font-size="4.0" text-anchor="middle" fill="#111">5</text>
<line x1="495.6" y1="636.6" x2="536" y2="636.6" stroke="#333" stroke-width="0.5"/>
<line x1="495.6" y1="633.6" x2="495.6" y2="639.6" stroke="#333" stroke-width="0.6"/>
<line x1="536" y1="634.1" x2="536" y2="639.1" stroke="#333" stroke-width="0.6"/>
<path d="M506.5 633.6 H519 L520.6 636.6 L519 639.6 H506.5 Z" fill="#fff" stroke="#333" stroke-width="0.55"/>
<line x1="510.4" y1="633.6" x2="510.4" y2="639.6" stroke="#333" stroke-width="0.5"/>
<path d="M-51.1 636.6 l1.1 -1.6 l1.1 1.6 l-1.1 1.6z" fill="none" stroke="#333" stroke-width="0.4"/>
<path d="M505.6 631.8 v-0.8 H513.6 v0.8" fill="none" stroke="#ea2840" stroke-width="0.7"/>
<path d="M543.7 638.0h0M545.5 635.5h0M569.4 636.8h0M592.7 635.3h0M551.0 635.6h0M573.5 636.5h0M562.2 637.8h0M578.3 637.7h0M597.2 635.9h0M596.3 636.3h0M539.3 637.8h0M542.7 635.2h0M554.5 636.0h0M597.9 637.7h0M562.9 636.7h0M590.3 637.5h0M577.8 636.6h0M543.5 635.8h0M578.1 636.9h0M587.3 637.8h0M597.6 635.7h0M540.9 637.8h0M572.5 635.6h0M580.3 635.9h0M551.1 636.2h0M569.5 637.1h0M540.7 637.3h0M576.0 636.5h0M579.0 637.5h0M536.6 636.5h0M579.4 637.2h0M577.4 635.6h0M597.3 637.5h0M550.9 636.4h0M597.3 635.7h0M562.2 638.0h0M593.6 635.8h0M583.1 636.2h0M578.5 637.4h0M544.2 635.8h0M549.8 635.9h0M538.3 635.5h0M562.0 636.4h0M541.0 636.8h0M596.3 636.8h0M558.8 637.2h0M564.0 635.6h0M566.8 635.2h0M579.3 635.6h0M559.7 638.0h0M585.1 637.6h0M577.1 637.0h0M581.1 638.0h0M548.6 637.4h0M555.3 635.9h0M588.6 636.9h0M590.4 637.7h0M573.7 635.7h0M537.0 636.7h0M582.4 635.9h0M540.5 635.1h0M547.1 637.2h0M536.3 635.8h0M553.0 637.2h0M599.2 635.2h0M543.3 637.9h0M598.1 635.5h0M557.5 636.7h0M556.5 636.4h0M566.6 635.9h0M539.5 635.4h0M546.4 635.4h0M575.9 637.2h0M552.8 637.5h0M582.6 636.1h0M567.5 635.7h0M595.5 636.8h0M539.3 635.6h0M580.3 636.3h0M581.9 635.8h0M587.0 637.5h0M542.0 636.9h0M548.2 637.2h0M587.5 637.5h0M550.8 635.4h0M578.5 636.8h0M544.8 635.7h0M573.3 635.4h0M576.6 635.8h0M552.5 636.4h0M570.1 637.3h0M538.0 637.3h0M550.1 636.0h0M576.9 637.2h0M575.3 637.8h0M549.1 636.0h0M578.4 635.9h0M546.1 635.8h0M585.4 637.6h0M581.8 638.0h0M586.8 636.0h0M556.2 637.3h0M539.6 636.9h0M541.7 635.2h0M568.9 635.6h0M595.6 637.7h0M565.6 635.7h0M543.7 636.6h0M569.4 636.2h0M581.8 636.7h0M585.6 635.4h0M540.5 636.3h0M566.9 635.9h0M578.8 635.8h0M556.4 636.5h0M581.6 637.4h0M559.8 636.4h0M595.4 637.9h0M575.6 635.4h0M565.2 637.0h0M553.8 635.2h0M598.8 637.8h0M544.3 636.5h0M575.6 636.0h0M540.4 637.4h0M585.3 636.4h0M541.5 636.3h0M542.0 638.0h0M539.3 636.0h0M585.1 635.5h0M542.8 635.3h0M546.5 636.7h0M589.3 635.6h0M547.1 637.4h0M563.3 636.1h0M543.9 635.8h0M598.2 635.5h0M552.6 637.3h0M593.1 637.8h0M566.3 638.0h0M574.7 636.0h0M565.8 637.2h0M583.0 635.5h0M548.4 638.0h0M542.8 637.5h0M557.7 635.8h0M552.3 636.5h0M599.4 635.5h0M590.7 636.1h0M547.1 637.3h0M557.9 635.7h0M562.8 637.6h0M591.2 636.8h0M536.7 637.4h0M574.8 637.8h0M596.9 636.1h0M590.3 637.6h0M553.0 636.2h0M560.0 636.2h0M560.2 635.4h0M550.5 637.8h0M562.3 637.0h0M592.8 637.4h0M551.6 637.9h0M587.5 638.1h0M582.6 637.4h0M588.0 635.9h0M578.0 636.2h0M589.7 635.5h0M570.5 636.1h0M588.5 636.1h0M590.0 637.6h0M592.2 635.5h0M596.0 637.3h0M579.3 637.1h0M539.1 637.7h0M571.1 636.5h0M557.7 637.4h0M586.1 637.7h0M549.7 636.1h0M552.0 635.4h0M556.9 635.2h0M587.0 635.8h0M540.5 635.3h0M583.4 635.7h0M565.6 636.3h0M587.4 638.0h0M555.8 637.0h0M593.3 636.5h0M593.6 637.3h0M555.9 637.7h0M572.7 635.4h0M573.6 637.6h0M569.2 636.6h0M562.7 637.7h0M578.6 635.7h0M559.2 636.2h0M597.4 637.2h0M544.0 637.8h0M538.2 636.9h0M563.7 637.3h0M563.5 635.4h0M569.5 637.6h0M586.5 636.2h0M550.2 637.3h0M587.3 635.8h0M592.5 638.1h0M563.7 636.2h0M581.4 637.9h0M548.9 636.0h0M557.1 637.3h0M548.0 636.7h0M568.0 637.1h0M545.2 638.0h0M600.0 636.8h0M586.9 635.7h0M594.3 636.8h0M584.6 637.7h0M559.1 637.9h0M549.3 635.2h0M568.2 637.8h0M593.6 638.0h0M568.7 637.9h0M571.8 635.5h0M576.4 637.5h0M563.1 636.9h0M552.6 635.9h0M562.9 636.6h0M566.0 635.4h0M536.4 636.1h0M581.9 637.3h0M551.2 635.9h0M569.1 635.6h0M574.6 637.8h0M548.9 636.9h0M582.1 637.3h0M581.6 637.2h0M553.4 637.6h0M595.2 635.3h0M596.4 636.4h0M541.5 635.3h0M587.0 637.1h0M545.1 636.5h0M576.9 638.1h0M557.5 637.4h0M551.7 635.7h0M546.3 636.3h0M575.6 636.0h0M546.4 635.8h0M541.4 635.7h0M556.2 636.6h0M547.8 636.5h0M564.1 638.0h0M567.1 637.9h0M566.2 635.7h0M573.9 635.5h0M546.8 635.3h0M580.9 638.0h0M561.8 636.2h0M563.2 636.2h0M580.2 636.3h0M545.7 637.7h0M572.6 635.1h0M590.4 637.3h0M558.7 637.0h0M594.9 636.3h0M563.7 636.0h0M571.5 637.1h0M583.0 637.9h0M545.3 636.2h0M590.5 637.5h0M573.8 637.1h0M557.8 637.9h0M571.2 636.3h0M547.7 635.4h0M593.4 637.5h0M537.7 636.1h0M566.7 636.6h0M559.3 637.8h0M558.4 636.7h0M595.5 637.0h0M566.5 636.1h0M560.8 636.9h0M586.3 635.9h0M559.7 636.3h0M559.2 637.8h0M570.5 635.9h0M557.3 637.6h0M546.3 637.2h0M537.4 635.7h0M539.8 637.5h0M545.4 635.8h0M539.7 635.9h0M582.9 637.3h0M594.3 637.9h0M571.3 637.9h0M541.7 637.9h0M563.8 635.7h0M583.9 637.7h0M560.7 635.4h0M591.9 637.4h0M574.2 638.0h0M538.4 635.3h0M544.0 635.2h0M581.3 637.0h0M543.2 635.6h0M547.6 636.9h0M579.0 638.0h0M559.1 638.0h0M563.8 636.3h0M552.2 635.8h0M598.4 638.1h0M581.2 635.6h0M547.5 635.6h0M558.5 637.3h0M539.8 636.7h0M579.6 635.2h0M564.1 637.5h0M572.8 636.5h0M592.4 636.9h0M557.6 636.3h0M596.4 637.7h0M594.5 636.8h0M545.1 635.6h0M560.5 637.2h0M536.3 637.5h0M586.3 636.6h0M536.4 637.5h0M562.5 637.1h0M572.5 637.3h0M562.2 638.0h0M597.2 637.9h0M575.4 636.0h0M560.1 635.9h0M593.8 637.5h0M586.4 637.6h0M599.4 637.2h0M556.4 637.4h0M552.8 636.9h0M546.1 637.7h0M567.3 635.9h0M595.1 635.3h0M595.5 637.4h0M545.5 637.4h0M572.7 637.8h0M573.5 636.4h0M595.7 635.4h0M585.7 635.4h0M553.7 635.4h0M591.8 636.4h0M582.5 635.9h0M582.7 637.0h0M542.2 636.6h0M582.2 635.7h0M577.9 635.9h0M559.7 637.9h0M596.4 638.1h0M563.3 636.8h0M587.7 637.4h0M565.2 637.7h0M561.7 638.0h0M566.3 635.5h0M583.9 635.5h0M579.5 635.3h0M599.3 636.7h0M583.4 635.5h0M576.8 636.2h0M551.9 637.5h0M538.1 636.5h0M541.6 637.7h0M593.2 635.2h0M565.7 636.5h0M582.0 637.3h0M558.0 637.9h0M547.9 635.5h0M588.1 635.5h0M547.9 636.6h0M557.5 635.6h0M595.5 636.5h0M586.3 635.9h0M594.4 635.8h0M594.0 636.9h0M598.1 637.4h0M576.4 636.7h0M590.7 636.4h0M542.3 637.8h0M587.6 637.1h0M583.7 635.8h0M565.7 637.6h0M597.6 637.9h0M546.3 637.2h0M571.5 636.3h0M546.7 635.5h0M566.1 636.6h0M553.1 636.2h0M571.5 637.4h0M573.7 635.6h0M592.7 636.2h0M597.4 638.0h0M545.0 636.8h0M597.9 636.3h0M571.0 636.0h0M537.8 635.7h0M543.9 636.0h0M576.3 636.8h0M596.7 637.2h0M559.2 637.9h0M576.6 636.7h0M591.2 637.1h0M559.1 636.9h0M555.2 638.0h0M551.6 638.0h0M540.1 635.1h0M571.4 635.7h0M568.5 635.5h0M589.6 637.1h0M579.8 637.9h0M599.5 637.1h0M581.6 635.1h0M539.2 636.4h0" stroke="#000" stroke-width="1.24" stroke-linecap="round" fill="none"/>
<path d="M603.6 636.0h0" stroke="#000" stroke-width="1.24" stroke-linecap="round" fill="none"/>
</g>
<text x="21.2" y="12.9" font-size="17.4" font-weight="bold" textLength="15.4" lengthAdjust="spacingAndGlyphs" fill="#0a0a0a">a)</text>
<text x="360.3" y="12.9" font-size="17.4" font-weight="bold" textLength="15.6" lengthAdjust="spacingAndGlyphs" fill="#0a0a0a">b)</text>
<text x="21.2" y="222.2" font-size="17.4" font-weight="bold" textLength="14.8" lengthAdjust="spacingAndGlyphs" fill="#0a0a0a">c)</text>
<text x="360.3" y="222.4" font-size="17.4" font-weight="bold" textLength="15.6" lengthAdjust="spacingAndGlyphs" fill="#0a0a0a">d)</text>
<text x="21.2" y="432" font-size="17.4" font-weight="bold" textLength="15.0" lengthAdjust="spacingAndGlyphs" fill="#0a0a0a">e)</text>
<text x="360.1" y="431.8" font-size="17.4" font-weight="bold" textLength="11.8" lengthAdjust="spacingAndGlyphs" fill="#0a0a0a">f)</text>
<text x="21.4" y="643.3" font-size="17.8" font-weight="bold" textLength="14.6" lengthAdjust="spacingAndGlyphs" fill="#0a0a0a" font-family="Liberation Serif, serif">g)</text>
<text x="360.3" y="642.5" font-size="17.4" font-weight="bold" textLength="15.6" lengthAdjust="spacingAndGlyphs" fill="#0a0a0a">h)</text>
<text x="0.9" y="172" font-size="11.3" textLength="32.4" lengthAdjust="spacingAndGlyphs" fill="#1a1a1a">% INH</text>
<text x="0.9" y="189.7" font-size="11.6" textLength="39.8" lengthAdjust="spacingAndGlyphs" fill="#1a1a1a">z’ score</text>
<text x="644.6" y="171.6" font-size="11.3" textLength="32.4" lengthAdjust="spacingAndGlyphs" fill="#1a1a1a">% INH</text>
<text x="644.6" y="189.4" font-size="11.6" textLength="39.8" lengthAdjust="spacingAndGlyphs" fill="#1a1a1a">z’ score</text>
<text x="0.9" y="386.3" font-size="11.3" textLength="32.4" lengthAdjust="spacingAndGlyphs" fill="#1a1a1a">% INH</text>
<text x="0.9" y="403.8" font-size="11.6" textLength="39.8" lengthAdjust="spacingAndGlyphs" fill="#1a1a1a">z’ score</text>
<text x="644.5" y="385.5" font-size="11.3" textLength="32.4" lengthAdjust="spacingAndGlyphs" fill="#1a1a1a">% INH</text>
<text x="644.5" y="403.2" font-size="11.6" textLength="39.8" lengthAdjust="spacingAndGlyphs" fill="#1a1a1a">z’ score</text>
<text x="0.9" y="594.9" font-size="11.3" textLength="32.4" lengthAdjust="spacingAndGlyphs" fill="#1a1a1a">% INH</text>
<text x="0.9" y="612.6" font-size="11.6" textLength="39.8" lengthAdjust="spacingAndGlyphs" fill="#1a1a1a">z’ score</text>
<text x="644.6" y="594.8" font-size="11.3" textLength="32.4" lengthAdjust="spacingAndGlyphs" fill="#1a1a1a">% INH</text>
<text x="644.6" y="612.3" font-size="11.6" textLength="39.8" lengthAdjust="spacingAndGlyphs" fill="#1a1a1a">z’ score</text>
<text x="0.9" y="805.5" font-size="11.3" textLength="32.4" lengthAdjust="spacingAndGlyphs" fill="#1a1a1a">% INH</text>
<text x="0.9" y="822.6" font-size="11.6" textLength="39.8" lengthAdjust="spacingAndGlyphs" fill="#1a1a1a">z’ score</text>
<text x="644.6" y="804.9" font-size="11.3" textLength="32.4" lengthAdjust="spacingAndGlyphs" fill="#1a1a1a">% INH</text>
<text x="644.6" y="822.6" font-size="11.6" textLength="39.8" lengthAdjust="spacingAndGlyphs" fill="#1a1a1a">z’ score</text>
</svg>
</body></html>
